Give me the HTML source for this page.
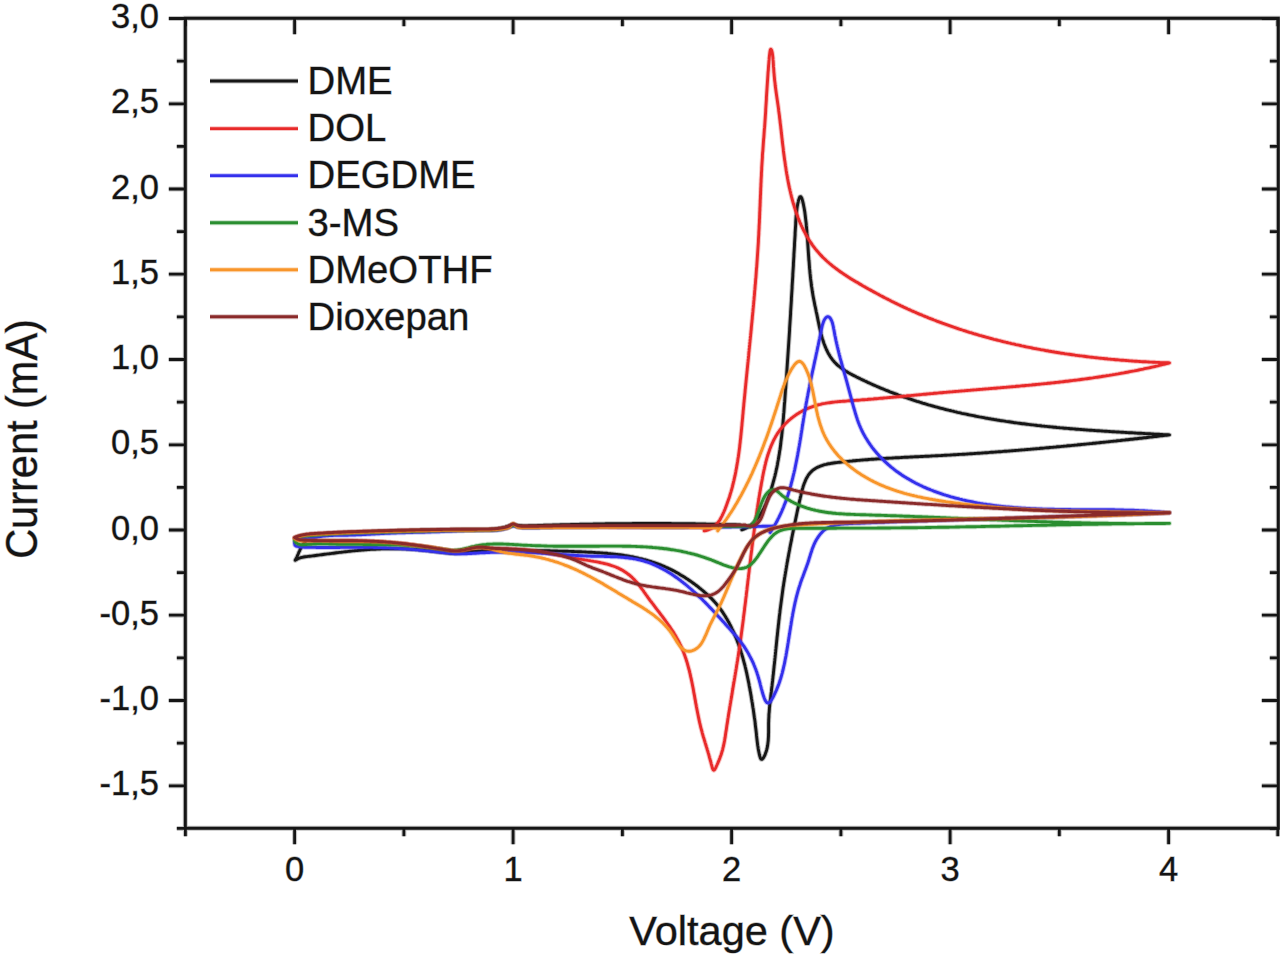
<!DOCTYPE html>
<html><head><meta charset="utf-8"><style>
html,body{margin:0;padding:0;background:#fff;}
body{width:1280px;height:958px;overflow:hidden;}
svg{display:block;}
#wrap{width:1280px;height:958px;}
text{font-family:"Liberation Sans",sans-serif;fill:#141414;stroke:rgba(20,20,20,0.3);stroke-width:1.3px;paint-order:stroke;}
.tl{font-size:34.5px;}
.at{font-size:41.5px;}
.lg{font-size:38.3px;}
</style></head><body>
<div id="wrap"><svg width="1280" height="958" viewBox="0 0 1280 958">
<path d="M741.8 529.8l1.4-.5 1.4-.5 1.4-.7 1.3-.6 1.2-.8 1.2-.8 1.2-.8 1.1-.9 1.1-.9 1-1 1-1 1-1.1 .9-1.1 .9-1.1 .9-1.2 .8-1.2 .8-1.2 .8-1.3 .8-1.2 .7-1.4 .7-1.3 .7-1.3 .6-1.4 .7-1.4 .6-1.4 .6-1.4 .5-1.5 .6-1.4 .5-1.4 .6-1.5 .5-1.4 .5-1.5 .5-1.4 .4-1.5 .5-1.5 .4-1.4 .5-1.5 .4-1.4 .4-1.5 .4-1.5 .4-1.4 .4-1.5 .4-1.5 .4-1.4 .3-1.5 .4-1.5 .3-1.4 .3-1.5 .4-1.5 .3-1.5 .3-1.4 .3-1.5 .2-1.5 .3-1.5 .3-1.5 .2-1.4 .3-1.5 .2-1.5 .3-1.5 .2-1.5 .2-1.5 .3-1.4 .2-1.5 .2-1.5 .2-1.5 .2-1.5 .1-1.5 .2-1.5 .2-1.5 .2-1.5 .2-1.4 .1-1.5 .2-1.5 .1-1.5 .2-1.5 .1-1.5 .2-1.5 .1-1.5 .1-1.5 .2-1.5 .1-1.5 .1-1.5 .2-1.5 .1-1.4 .1-1.5 .1-1.5 .2-1.5 .1-1.5 .1-1.5 .1-1.5 .1-1.5 .1-1.5 .1-1.5 .2-1.5 .1-1.5 .1-1.5 .1-1.5 .1-1.5 .1-1.4 .1-1.5 .1-1.5 .1-1.5 .2-1.5 .1-1.5 .1-1.5 .1-1.5 .1-1.5 .1-1.5 .1-1.5 .1-1.5 .1-1.4 .1-1.5 .1-1.5 .1-1.5 .1-1.5 .1-1.5 .1-1.5 .1-1.5 .1-1.5 .1-1.5 .1-1.5 .1-1.5 .1-1.5 .1-1.4 .1-1.5 .1-1.5 .1-1.5 .1-1.5 .1-1.5 .1-1.5 .1-1.5 .1-1.5 .1-1.5 .1-1.5 .1-1.5 .1-1.5 .1-1.5 .1-1.5 .1-1.5 .1-1.5 .1-1.5 .1-1.4 0-1.5 .1-1.5 .1-1.5 .1-1.5 .1-1.5 .1-1.5 .1-1.5 .1-1.5 .1-1.5 .1-1.5 .1-1.5 0-1.5 .1-1.5 .1-1.5 .1-1.5 .1-1.5 .1-1.5 .1-1.5 .1-1.5 .1-1.6 0-1.5 .1-1.5 .1-1.5 .1-1.5 .1-1.5 .1-1.5 .1-1.5 .1-1.5 0-1.5 .1-1.5 .1-1.5 .1-1.5 .1-1.6 .1-1.5 .1-1.5 .1-1.5 0-1.5 .1-1.5 .1-1.5 .1-1.6 .1-1.5 .1-1.5 .1-1.5 0-1.5 .1-1.5 .1-1.6 .1-1.5 .1-1.5 .1-1.5 0-1.6 .1-1.5 .1-1.5 .1-1.5 .1-1.6 .1-1.5 .1-1.5 0-1.5 .1-1.6 .1-1.5 .1-1.5 .1-1.6 .1-1.5 .1-1.5 0-1.6 .1-1.5 .1-1.5 .1-1.6 .1-1.5 .1-1.5 .1-1.6 0-1.5 .1-1.6 .1-1.5 .1-1.6 .1-1.5 .2-1.6 .1-1.5 .2-1.6 .2-1.6 .2-1.6 .2-1.6 .3-1.6 .3-1.6 .4-1.6 .3-1.6 .5-1.4 .4-1.1 .4-.9 .5-.4 .5 .1 .4 .5 .5 .9 .4 1.1 .4 1.4 .4 1.6 .4 1.6 .3 1.6 .3 1.6 .3 1.6 .3 1.7 .3 1.7 .2 1.7 .2 1.6 .2 1.7 .2 1.7 .2 1.7 .2 1.6 .2 1.7 .1 1.7 .2 1.6 .1 1.6 .2 1.6 .1 1.6 .1 1.6 .2 1.5 .1 1.6 .1 1.5 .1 1.6 .1 1.5 .1 1.5 .1 1.5 .1 1.5 .1 1.5 .1 1.5 .1 1.5 .1 1.4 .1 1.5 .1 1.5 .1 1.4 .1 1.5 .1 1.4 .1 1.5 .2 1.4 .1 1.4 .1 1.5 .1 1.4 .1 1.5 .1 1.4 .2 1.4 .1 1.5 .1 1.4 .2 1.4 .1 1.5 .2 1.4 .1 1.4 .2 1.5 .2 1.4 .2 1.5 .1 1.5 .2 1.4 .3 1.5 .2 1.5 .2 1.4 .2 1.5 .3 1.5 .2 1.5 .3 1.6 .3 1.5 .3 1.5 .3 1.6 .3 1.5 .3 1.6 .3 1.5 .4 1.6 .3 1.5 .3 1.6 .3 1.5 .4 1.5 .3 1.5 .3 1.5 .3 1.5 .3 1.5 .3 1.5 .3 1.4 .3 1.5 .3 1.4 .3 1.5 .3 1.4 .4 1.5 .3 1.4 .4 1.5 .3 1.4 .4 1.4 .4 1.5 .4 1.4 .5 1.5 .5 1.4 .4 1.4 .5 1.4 .6 1.4 .5 1.4 .6 1.4 .6 1.4 .7 1.3 .6 1.4 .7 1.3 .8 1.2 .7 1.3 .8 1.2 .9 1.2 .9 1.2 .9 1.1 .9 1.1 1 1 1.1 1.1 1 1 1.2 .9 1.1 .9 1.2 .9 1.2 .9 1.2 .8 1.3 .9 1.2 .8 1.3 .7 1.3 .8 1.4 .8 1.3 .7 1.3 .7 1.4 .7 1.4 .7 1.3 .7 1.4 .7 1.4 .6 1.3 .7 1.4 .7 1.4 .6 1.4 .7 1.4 .6 1.3 .7 1.4 .6 1.4 .6 1.4 .7 1.4 .6 1.4 .6 1.4 .6 1.3 .6 1.4 .6 1.4 .6 1.4 .6 1.4 .5 1.4 .6 1.4 .6 1.4 .5 1.4 .6 1.4 .6 1.4 .5 1.5 .5 1.4 .6 1.4 .5 1.4 .5 1.4 .6 1.4 .5 1.4 .5 1.4 .5 1.5 .5 1.4 .5 1.4 .5 1.4 .5 1.5 .4 1.4 .5 1.4 .5 1.4 .5 1.5 .4 1.4 .5 1.4 .4 1.5 .5 1.4 .4 1.4 .5 1.5 .4 1.4 .4 1.4 .4 1.5 .5 1.4 .4 1.5 .4 1.4 .4 1.4 .4 1.5 .4 1.4 .4 1.5 .4 1.4 .4 1.5 .3 1.4 .4 1.5 .4 1.4 .4 1.5 .3 1.4 .4 1.5 .3 1.5 .4 1.4 .3 1.5 .4 1.4 .3 1.5 .4 1.4 .3 1.5 .3 1.5 .4 1.4 .3 1.5 .3 1.5 .3 1.4 .3 1.5 .3 1.5 .3 1.4 .3 1.5 .3 1.5 .3 1.5 .3 1.4 .3 1.5 .3 1.5 .2 1.4 .3 1.5 .3 1.5 .3 1.5 .2 1.5 .3 1.4 .2 1.5 .3 1.5 .2 1.5 .3 1.5 .2 1.4 .3 1.5 .2 1.5 .3 1.5 .2 1.5 .2 1.5 .2 1.4 .3 1.5 .2 1.5 .2 1.5 .2 1.5 .2 1.5 .3 1.5 .2 1.5 .2 1.4 .2 1.5 .2 1.5 .2 1.5 .2 1.5 .1 1.5 .2 1.5 .2 1.5 .2 1.5 .2 1.5 .2 1.5 .1 1.5 .2 1.5 .2 1.5 .2 1.5 .1 1.5 .2 1.5 .2 1.5 .1 1.5 .2 1.5 .1 1.5 .2 1.5 .1 1.5 .2 1.5 .1 1.5 .2 1.5 .1 1.5 .2 1.5 .1 1.5 .2 1.5 .1 1.5 .1 1.5 .2 1.5 .1 1.5 .1 1.5 .1 1.5 .2 1.5 .1 1.5 .1 1.5 .1 1.5 .2 1.5 .1 1.5 .1 1.5 .1 1.5 .1 1.5 .1 1.5 .2 1.5 .1 1.5 .1 1.5 .1 1.5 .1 1.5 .1 1.5 .1 1.5 .1 1.6 .1 1.5 .1 1.5 .1 1.5 .1 1.5 .1 1.5 .1 1.5 .1 1.5 .1 1.5 .1 1.5 .1 1.5 .1 1.5 .1 1.5 .1 1.5 .1 1.5 0 1.5 .1 1.5 .1 1.5 .1 1.5 .1 1.5 .1 1.5 .1 1.5 .1 1.5 0 1.5 .1 1.5 .1 1.5 .1 1.5 .1 1.5 .1 1.5 0 1.6 .1 1.5 .1 1.5 .1 1.5 .1 1.5 .1 1.5 0 1.4 .1 1.5 .1 1.5 .1 1.5 .1 1.5 .1 1.5 0 1.5 .1 1.5 .1 1.5 .1 1.5 .1 1.5 .1 1.5 0 1.5 .1 1.5 .1-1.5 .2-1.5 .2-1.5 .1-1.4 .2-1.5 .2-1.5 .1-1.5 .2-1.5 .2-1.5 .2-1.4 .1-1.5 .2-1.5 .2-1.5 .1-1.5 .2-1.5 .2-1.5 .2-1.5 .1-1.5 .2-1.4 .2-1.5 .1-1.5 .2-1.5 .2-1.5 .1-1.5 .2-1.5 .2-1.5 .1-1.5 .2-1.5 .2-1.5 .1-1.5 .2-1.5 .1-1.4 .2-1.5 .2-1.5 .1-1.5 .2-1.5 .2-1.5 .1-1.5 .2-1.5 .1-1.5 .2-1.5 .2-1.5 .1-1.5 .2-1.5 .1-1.5 .2-1.5 .1-1.5 .2-1.5 .2-1.5 .1-1.5 .2-1.5 .1-1.5 .2-1.5 .1-1.5 .2-1.5 .1-1.5 .2-1.5 .1-1.5 .2-1.5 .1-1.5 .2-1.5 .1-1.5 .2-1.5 .1-1.5 .2-1.5 .1-1.5 .2-1.5 .1-1.5 .1-1.5 .2-1.5 .1-1.5 .2-1.5 .1-1.5 .2-1.5 .1-1.5 .1-1.5 .2-1.5 .1-1.5 .2-1.5 .1-1.6 .1-1.5 .2-1.5 .1-1.5 .1-1.5 .2-1.5 .1-1.5 .1-1.5 .2-1.5 .1-1.5 .1-1.5 .2-1.5 .1-1.5 .1-1.5 .2-1.5 .1-1.5 .1-1.5 .1-1.5 .2-1.5 .1-1.5 .1-1.5 .1-1.5 .2-1.5 .1-1.5 .1-1.5 .1-1.5 .1-1.5 .2-1.5 .1-1.5 .1-1.5 .1-1.5 .1-1.5 .1-1.5 .2-1.5 .1-1.5 .1-1.5 .1-1.5 .1-1.5 .1-1.5 .1-1.5 .1-1.5 .1-1.5 .2-1.5 .1-1.5 .1-1.5 .1-1.5 .1-1.5 .1-1.5 .1-1.5 .1-1.5 .1-1.5 .1-1.5 .1-1.5 .1-1.5 .1-1.5 .1-1.5 .1-1.5 .1-1.5 .1-1.5 .1-1.5 .1-1.5 0-1.5 .1-1.5 .1-1.5 .1-1.5 .1-1.5 .1-1.5 .1-1.5 .1-1.5 0-1.4 .1-1.5 .1-1.5 .1-1.5 .1-1.5 .1-1.5 0-1.5 .1-1.5 .1-1.5 .1-1.5 0-1.4 .1-1.5 .1-1.5 .1-1.5 0-1.5 .1-1.5 .1-1.5 .1-1.5 0-1.5 .1-1.4 .1-1.5 0-1.5 .1-1.5 .1-1.5 .1-1.5 0-1.5 .1-1.5 .1-1.5 .1-1.4 0-1.5 .1-1.5 .1-1.5 .1-1.5 .1-1.5 0-1.5 .1-1.5 .1-1.5 .1-1.5 .1-1.5 0-1.5 .1-1.5 .1-1.5 .1-1.5 .1-1.5 .1-1.5 .1-1.5 .1-1.5 .1-1.5 .1-1.5 .1-1.5 .1-1.5 .1-1.5 .1-1.5 .1-1.5 .2-1.6 .1-1.5 .1-1.5 .1-1.5 .1-1.5 .2-1.5 .1-1.6 .1-1.5 .2-1.5 .1-1.5 .2-1.6 .1-1.5 .2-1.5 .1-1.6 .2-1.5 .1-1.5 .2-1.6 .2-1.5 .1-1.6 .2-1.5 .2-1.5 .2-1.6 .2-1.5 .2-1.5 .3-1.5 .2-1.5 .3-1.4 .4-1.5 .3-1.4 .4-1.4 .5-1.3 .4-1.3 .6-1.3 .5-1.3 .7-1.2 .7-1.1 .7-1.2 .8-1 .9-1 .9-1 1.1-.9 1.1-.9 1.1-.7 1.3-.8 1.3-.7 1.3-.6 1.4-.6 1.5-.6 1.4-.6 1.6-.5 1.5-.4 1.5-.5 1.6-.4 1.6-.4 1.6-.4 1.5-.3 1.6-.4 1.5-.3 1.5-.4 1.5-.3 1.4-.3 1.5-.3 1.4-.3 1.5-.3 1.4-.4 1.4-.3 1.5-.3 1.4-.3 1.4-.3 1.5-.3 1.4-.3 1.5-.3 1.4-.3 1.5-.3 1.4-.3 1.4-.3 1.5-.3 1.5-.3 1.4-.3 1.5-.3 1.4-.3 1.5-.3 1.4-.3 1.5-.3 1.5-.3 1.4-.2 1.5-.3 1.5-.3 1.4-.3 1.5-.3 1.5-.3 1.5-.3 1.4-.2 1.5-.3 1.5-.3 1.5-.3 1.4-.2 1.5-.3 1.5-.3 1.5-.2 1.5-.3 1.5-.3 1.4-.2 1.5-.3 1.5-.2 1.5-.3 1.5-.2 1.5-.3 1.5-.2 1.5-.3 1.5-.2 1.5-.3 1.4-.2 1.5-.2 1.5-.3 1.5-.2 1.5-.2 1.5-.3 1.5-.2 1.5-.2 1.5-.2 1.5-.2 1.5-.2 1.5-.2 1.5-.2 1.5-.2 1.5-.2 1.5-.2 1.5-.2 1.5-.2 1.5-.2 1.5-.2 1.5-.2 1.5-.2 1.5-.1 1.5-.2 1.5-.2 1.5-.2 1.4-.1 1.5-.2 1.5-.2 1.5-.1 1.5-.2 1.5-.2 1.5-.1 1.5-.2 1.5-.2 1.5-.1 1.5-.2 1.5-.1 1.5-.2 1.5-.2 1.5-.1 1.5-.2 1.5-.1 1.5-.2 1.5-.1 1.5-.2 1.5-.1 1.4-.2 1.5-.1 1.5-.2 1.5-.1 1.5-.2 1.5-.1 1.5-.2 1.5-.1 1.5-.2 1.4-.1 1.5-.2 1.5-.2 1.5-.1 1.5-.2 1.5-.1 1.5-.2 1.4-.1 1.5-.2 1.5-.2 1.5-.1 1.5-.2 1.4-.1 1.5-.2 1.5-.2 1.5-.1 1.5-.2 1.4-.2 1.5-.2 1.5-.1 1.4-.2 1.5-.2 1.5-.2 1.5-.1 1.4-.2 1.5-.2 1.5-.1 1.5-.2 1.5-.2 1.4-.1 1.5-.2 1.5-.1 1.5-.1 1.6-.1 1.5-.2 1.5-.1 1.6 0 1.5-.1 1.6-.1 1.5 0 1.6-.1 1.6 0 1.6 0 1.6 0 1.6 0 1.7 0 1.6 0 1.6-.1 1.7 0 1.6-.1 1.6-.1 1.6-.1 1.6-.2 1.6-.2 1.6-.2 1.6-.3 1.5-.3 1.6-.4 1.5-.5 1.5-.5 1.4-.5 1.5-.7 1.4-.7 1.3-.7 1-.7 .8-.6 .3-.6-.2-.5-.7-.4-1.1-.4-1.2-.4-1.5-.3-1.4-.3-1.5-.3-1.5-.3-1.6-.2-1.6-.3-1.6-.2-1.7-.2-1.6-.2-1.7-.2-1.7-.2-1.7-.2-1.7-.1-1.6-.2-1.7-.2-1.7-.2-1.6-.2-1.6-.2-1.6-.2-1.6-.1-1.6-.2-1.5-.2-1.5-.3-1.6-.2-1.5-.2-1.5-.2-1.5-.2-1.4-.2-1.5-.2-1.5-.3-1.4-.2-1.5-.2-1.5-.2-1.4-.3-1.4-.2-1.5-.3-1.4-.2-1.5-.2-1.4-.3-1.5-.2-1.4-.3-1.5-.3-1.4-.2-1.5-.3-1.4-.3-1.5-.2-1.4-.3-1.5-.3-1.4-.3-1.5-.3-1.4-.3-1.5-.3-1.4-.3-1.5-.3-1.5-.4-1.4-.3-1.5-.3-1.4-.4-1.5-.3-1.4-.4-1.4-.4-1.5-.4-1.4-.4-1.5-.4-1.4-.4-1.5-.4-1.4-.4-1.4-.5-1.5-.4-1.4-.5-1.4-.5-1.4-.4-1.5-.5-1.4-.5-1.4-.6-1.4-.5-1.4-.5-1.4-.6-1.4-.6-1.4-.6-1.4-.5-1.4-.7-1.4-.6-1.4-.6-1.4-.7-1.3-.6-1.4-.7-1.4-.7-1.3-.7-1.4-.8-1.3-.7-1.4-.8-1.3-.8-1.3-.7-1.3-.8-1.3-.9-1.3-.8-1.3-.8-1.2-.9-1.3-.9-1.2-.9-1.2-.9-1.2-.9-1.1-.9-1.1-.9-1.1-1-1.1-1-1.1-.9-1-1-1.1-1.1-1-1-1-1-.9-1.1-1-1-1-1.1-1-1.1-.9-1.1-1-1.2-.9-1.1-1-1.2-.9-1.1-.9-1.2-1-1.2-.9-1.2-.9-1.2-.9-1.3-.9-1.2-.9-1.3-.9-1.2-.8-1.3-.9-1.3-.8-1.3-.9-1.3-.8-1.3-.8-1.4-.8-1.3-.8-1.3-.8-1.4-.8-1.3-.7-1.4-.8-1.3-.7-1.4-.7-1.4-.7-1.4-.6-1.4-.7-1.4-.6-1.3-.6-1.4-.6-1.4-.6-1.4-.6-1.5-.5-1.4-.6-1.4-.5-1.4-.5-1.4-.5-1.5-.4-1.4-.5-1.4-.4-1.5-.5-1.4-.4-1.4-.4-1.5-.3-1.4-.4-1.5-.4-1.4-.3-1.5-.4-1.4-.3-1.5-.3-1.5-.3-1.4-.3-1.5-.2-1.5-.3-1.4-.3-1.5-.2-1.5-.2-1.5-.3-1.5-.2-1.4-.2-1.5-.2-1.5-.2-1.5-.1-1.5-.2-1.5-.2-1.5-.1-1.5-.2-1.5-.1-1.5-.2-1.4-.1-1.5-.1-1.5-.1-1.5-.1-1.5-.1-1.5-.1-1.5-.1-1.5-.1-1.6-.1-1.5-.1-1.5-.1-1.5 0-1.5-.1-1.5-.1-1.5-.1-1.5 0-1.5-.1-1.5 0-1.5-.1-1.5-.1-1.5 0-1.5-.1-1.5 0-1.5-.1-1.5 0-1.5-.1-1.5 0-1.5-.1-1.5 0-1.5-.1-1.5 0-1.5 0-1.5-.1-1.5 0-1.5-.1-1.6 0-1.5 0-1.5-.1-1.5 0-1.5 0-1.5 0-1.5-.1-1.5 0-1.5 0-1.5 0-1.5-.1-1.5 0-1.5 0-1.5 0-1.5 0-1.5-.1-1.5 0-1.5 0-1.5 0-1.5 0-1.5 0-1.5 0-1.5 0-1.5 0-1.5 0-1.5 0-1.5 0-1.5 0-1.5 0-1.5 0-1.5 0-1.5 0-1.5 0-1.6 0-1.5 0-1.5 0-1.5 0-1.5 0-1.5 0-1.5 0-1.5 0-1.5 .1-1.5 0-1.5 0-1.5 .1-1.5 0-1.5 .1-1.5 0-1.5 .1-1.5 .1-1.5 0-1.5 .1-1.5 .1-1.5 .2-1.5 .1-1.5 .1-1.5 .2-1.5 .2-1.5 .2-1.5 .2-1.5 .2-1.5 .2-1.5 .2-1.4 .1-1.5 .1-1.5 .1-1.5 0-1.5 0-1.5-.1-1.5-.1-1.5-.2-1.5-.1-1.5-.2-1.5-.2-1.5-.2-1.5-.1-1.5-.2-1.5-.2-1.5-.2-1.4-.2-1.5-.1-1.5-.2-1.5-.2-1.5-.2-1.5-.1-1.5-.2-1.5-.1-1.5-.2-1.5-.1-1.5-.2-1.5-.1-1.5-.1-1.5-.1-1.5-.1-1.5-.1-1.5-.1-1.5-.1-1.5 0-1.5-.1-1.5 0-1.5-.1-1.5 0-1.5-.1-1.5 0-1.6 0-1.5 0-1.5 0-1.5 0-1.5 0-1.5 0-1.5 .1-1.5 0-1.5 0-1.5 .1-1.5 0-1.5 .1-1.5 0-1.5 .1-1.5 .1-1.5 .1-1.5 0-1.5 .1-1.5 .1-1.5 .1-1.5 .1-1.5 .1-1.5 .2-1.5 .1-1.5 .1-1.5 .1-1.5 .2-1.5 .1-1.5 .2-1.5 .1-1.5 .2-1.5 .1-1.4 .2-1.5 .2-1.5 .1-1.5 .2-1.5 .2-1.5 .2-1.5 .1-1.5 .2-1.5 .2-1.5 .2-1.5 .2-1.5 .2-1.5 .2-1.5 .2-1.5 .1-1.4 .2-1.5 .2-1.5 .2-1.5 .2-1.5 .2-1.5 .2-1.5 .2-1.5 .2-1.5 .2-1.5 .2-1.5 .2-1.4 .1-1.5 .2-1.5 .2-1.5 .2-1.5 .2-1.5 .3-1.4 .4-1.4 .5-1.5 .5-1.3 .8-1.4 .8 .7-1.2 .6-1.3 .6-1.3 .6-1.4 .6-1.4 .6-1.5 .7-1.4 .6-1.4 .7-1.4 .8-1.4 .7-1.3 .9-1.3 .9-1.2 1-1.1 1.1-1 1.2-.9 1.2-.8 1.4-.7 1.3-.7 1.5-.5 1.4-.5 1.5-.5 1.5-.4 1.5-.4 1.4-.3 1.5-.3 1.5-.3 1.5-.2 1.5-.3 1.5-.1 1.5-.2 1.5-.1 1.5-.1 1.5-.1 1.5-.1 1.5 0 1.5-.1 1.5 0 1.6-.1 1.5 0 1.5 0 1.5 0 1.5 0 1.5 0 1.5-.1 1.5 0 1.5 0 1.6-.1 1.5 0 1.5-.1 1.5 0 1.5-.1 1.5 0 1.5-.1 1.5-.1 1.5 0 1.5-.1 1.5-.1 1.5-.1 1.6 0 1.5-.1 1.5-.1 1.5-.1 1.5 0 1.5-.1 1.5-.1 1.5-.1 1.5 0 1.5-.1 1.5-.1 1.5 0 1.5-.1 1.5 0 1.5-.1 1.5-.1 1.5 0 1.6-.1 1.5 0 1.5-.1 1.5 0 1.5-.1 1.5 0 1.5-.1 1.5 0 1.5 0 1.5-.1 1.5 0 1.5 0 1.5-.1 1.5 0 1.5 0 1.5-.1 1.5 0 1.5 0 1.6 0 1.5-.1 1.5 0 1.5 0 1.5 0 1.5-.1 1.5 0 1.5 0 1.5 0 1.5 0 1.5-.1 1.5 0 1.5 0 1.5 0 1.6 0 1.5 0 1.5-.1 1.5 0 1.5 0 1.5 0 1.5 0 1.5 0 1.5 0 1.5 0 1.6-.1 1.5 0 1.5 0 1.5 0 1.5 0 1.5 0 1.5 0 1.5 0 1.5 0 1.6-.1 1.5 0 1.5 0 1.5 0 1.5 0 1.5 0 1.6-.1 1.5 0 1.5 0 1.5-.1 1.5-.1 1.5-.1 1.5-.1 1.5-.1 1.5-.2 1.5-.2 1.4-.3 1.5-.2 1.5-.4 1.4-.3 1.5-.4 1.4-.5 1.5-.5 1.4-.5 1.4-.5 1.4-.3 1.5 0 1.4 .2 1.5 .3 1.5 .2 1.5 .2 1.5 .1 1.5 .1 1.5 0 1.5 0 1.5 0 1.5-.1 1.5 0 1.5-.1 1.5 0 1.6-.1 1.5 0 1.5-.1 1.5 0 1.5-.1 1.5 0 1.5-.1 1.5 0 1.5-.1 1.5 0 1.5-.1 1.5 0 1.6-.1 1.5 0 1.5-.1 1.5 0 1.5 0 1.5-.1 1.5 0 1.5-.1 1.5 0 1.5 0 1.5-.1 1.5 0 1.5-.1 1.6 0 1.5 0 1.5-.1 1.5 0 1.5 0 1.5-.1 1.5 0 1.5 0 1.5-.1 1.5 0 1.5 0 1.5-.1 1.5 0 1.5 0 1.6-.1 1.5 0 1.5 0 1.5 0 1.5-.1 1.5 0 1.5 0 1.5 0 1.5-.1 1.5 0 1.5 0 1.5 0 1.5-.1 1.5 0 1.6 0 1.5 0 1.5 0 1.5 0 1.5-.1 1.5 0 1.5 0 1.5 0 1.5 0 1.5 0 1.5 0 1.5 0 1.5-.1 1.5 0 1.5 0 1.6 0 1.5 0 1.5 0 1.5 0 1.5 0 1.5 0 1.5 0 1.5 0 1.5 0 1.5 0 1.5 0 1.5 0 1.5 0 1.5 0 1.5 0 1.6 0 1.5 0 1.5 0 1.5 0 1.5 0 1.5 0 1.5 0 1.5 0 1.5 .1 1.5 0 1.5 0 1.5 0 1.5 0 1.6 0 1.5 0 1.5 .1 1.5 0 1.5 0 1.5 0 1.5 0 1.5 .1 1.5 0 1.5 0 1.5 0 1.5 .1 1.5 0 1.6 0 1.5 0 1.5 .1 1.5 0 1.5 0 1.5 .1 1.5 0 1.5 0 1.5 .1 1.5 0 1.5 0 1.5 .1 1.6 0 1.5 0 1.5 .1 1.5 0 1.5 .1 1.5 0 1.5 .1 1.5 0 1.5 0 1.5 .1 1.6 0 1.5 .1 1.5 0 1.5 .1 1.5 0 1.5 .1" fill="none" stroke="#161616" stroke-width="4.9" stroke-opacity="0.28" stroke-linejoin="round" stroke-linecap="round"/>
<path d="M741.8 529.8l1.4-.5 1.4-.5 1.4-.7 1.3-.6 1.2-.8 1.2-.8 1.2-.8 1.1-.9 1.1-.9 1-1 1-1 1-1.1 .9-1.1 .9-1.1 .9-1.2 .8-1.2 .8-1.2 .8-1.3 .8-1.2 .7-1.4 .7-1.3 .7-1.3 .6-1.4 .7-1.4 .6-1.4 .6-1.4 .5-1.5 .6-1.4 .5-1.4 .6-1.5 .5-1.4 .5-1.5 .5-1.4 .4-1.5 .5-1.5 .4-1.4 .5-1.5 .4-1.4 .4-1.5 .4-1.5 .4-1.4 .4-1.5 .4-1.5 .4-1.4 .3-1.5 .4-1.5 .3-1.4 .3-1.5 .4-1.5 .3-1.5 .3-1.4 .3-1.5 .2-1.5 .3-1.5 .3-1.5 .2-1.4 .3-1.5 .2-1.5 .3-1.5 .2-1.5 .2-1.5 .3-1.4 .2-1.5 .2-1.5 .2-1.5 .2-1.5 .1-1.5 .2-1.5 .2-1.5 .2-1.5 .2-1.4 .1-1.5 .2-1.5 .1-1.5 .2-1.5 .1-1.5 .2-1.5 .1-1.5 .1-1.5 .2-1.5 .1-1.5 .1-1.5 .2-1.5 .1-1.4 .1-1.5 .1-1.5 .2-1.5 .1-1.5 .1-1.5 .1-1.5 .1-1.5 .1-1.5 .1-1.5 .2-1.5 .1-1.5 .1-1.5 .1-1.5 .1-1.5 .1-1.4 .1-1.5 .1-1.5 .1-1.5 .2-1.5 .1-1.5 .1-1.5 .1-1.5 .1-1.5 .1-1.5 .1-1.5 .1-1.5 .1-1.4 .1-1.5 .1-1.5 .1-1.5 .1-1.5 .1-1.5 .1-1.5 .1-1.5 .1-1.5 .1-1.5 .1-1.5 .1-1.5 .1-1.5 .1-1.4 .1-1.5 .1-1.5 .1-1.5 .1-1.5 .1-1.5 .1-1.5 .1-1.5 .1-1.5 .1-1.5 .1-1.5 .1-1.5 .1-1.5 .1-1.5 .1-1.5 .1-1.5 .1-1.5 .1-1.5 .1-1.4 0-1.5 .1-1.5 .1-1.5 .1-1.5 .1-1.5 .1-1.5 .1-1.5 .1-1.5 .1-1.5 .1-1.5 .1-1.5 0-1.5 .1-1.5 .1-1.5 .1-1.5 .1-1.5 .1-1.5 .1-1.5 .1-1.5 .1-1.6 0-1.5 .1-1.5 .1-1.5 .1-1.5 .1-1.5 .1-1.5 .1-1.5 .1-1.5 0-1.5 .1-1.5 .1-1.5 .1-1.5 .1-1.6 .1-1.5 .1-1.5 .1-1.5 0-1.5 .1-1.5 .1-1.5 .1-1.6 .1-1.5 .1-1.5 .1-1.5 0-1.5 .1-1.5 .1-1.6 .1-1.5 .1-1.5 .1-1.5 0-1.6 .1-1.5 .1-1.5 .1-1.5 .1-1.6 .1-1.5 .1-1.5 0-1.5 .1-1.6 .1-1.5 .1-1.5 .1-1.6 .1-1.5 .1-1.5 0-1.6 .1-1.5 .1-1.5 .1-1.6 .1-1.5 .1-1.5 .1-1.6 0-1.5 .1-1.6 .1-1.5 .1-1.6 .1-1.5 .2-1.6 .1-1.5 .2-1.6 .2-1.6 .2-1.6 .2-1.6 .3-1.6 .3-1.6 .4-1.6 .3-1.6 .5-1.4 .4-1.1 .4-.9 .5-.4 .5 .1 .4 .5 .5 .9 .4 1.1 .4 1.4 .4 1.6 .4 1.6 .3 1.6 .3 1.6 .3 1.6 .3 1.7 .3 1.7 .2 1.7 .2 1.6 .2 1.7 .2 1.7 .2 1.7 .2 1.6 .2 1.7 .1 1.7 .2 1.6 .1 1.6 .2 1.6 .1 1.6 .1 1.6 .2 1.5 .1 1.6 .1 1.5 .1 1.6 .1 1.5 .1 1.5 .1 1.5 .1 1.5 .1 1.5 .1 1.5 .1 1.5 .1 1.4 .1 1.5 .1 1.5 .1 1.4 .1 1.5 .1 1.4 .1 1.5 .2 1.4 .1 1.4 .1 1.5 .1 1.4 .1 1.5 .1 1.4 .2 1.4 .1 1.5 .1 1.4 .2 1.4 .1 1.5 .2 1.4 .1 1.4 .2 1.5 .2 1.4 .2 1.5 .1 1.5 .2 1.4 .3 1.5 .2 1.5 .2 1.4 .2 1.5 .3 1.5 .2 1.5 .3 1.6 .3 1.5 .3 1.5 .3 1.6 .3 1.5 .3 1.6 .3 1.5 .4 1.6 .3 1.5 .3 1.6 .3 1.5 .4 1.5 .3 1.5 .3 1.5 .3 1.5 .3 1.5 .3 1.5 .3 1.4 .3 1.5 .3 1.4 .3 1.5 .3 1.4 .4 1.5 .3 1.4 .4 1.5 .3 1.4 .4 1.4 .4 1.5 .4 1.4 .5 1.5 .5 1.4 .4 1.4 .5 1.4 .6 1.4 .5 1.4 .6 1.4 .6 1.4 .7 1.3 .6 1.4 .7 1.3 .8 1.2 .7 1.3 .8 1.2 .9 1.2 .9 1.2 .9 1.1 .9 1.1 1 1 1.1 1.1 1 1 1.2 .9 1.1 .9 1.2 .9 1.2 .9 1.2 .8 1.3 .9 1.2 .8 1.3 .7 1.3 .8 1.4 .8 1.3 .7 1.3 .7 1.4 .7 1.4 .7 1.3 .7 1.4 .7 1.4 .6 1.3 .7 1.4 .7 1.4 .6 1.4 .7 1.4 .6 1.3 .7 1.4 .6 1.4 .6 1.4 .7 1.4 .6 1.4 .6 1.4 .6 1.3 .6 1.4 .6 1.4 .6 1.4 .6 1.4 .5 1.4 .6 1.4 .6 1.4 .5 1.4 .6 1.4 .6 1.4 .5 1.5 .5 1.4 .6 1.4 .5 1.4 .5 1.4 .6 1.4 .5 1.4 .5 1.4 .5 1.5 .5 1.4 .5 1.4 .5 1.4 .5 1.5 .4 1.4 .5 1.4 .5 1.4 .5 1.5 .4 1.4 .5 1.4 .4 1.5 .5 1.4 .4 1.4 .5 1.5 .4 1.4 .4 1.4 .4 1.5 .5 1.4 .4 1.5 .4 1.4 .4 1.4 .4 1.5 .4 1.4 .4 1.5 .4 1.4 .4 1.5 .3 1.4 .4 1.5 .4 1.4 .4 1.5 .3 1.4 .4 1.5 .3 1.5 .4 1.4 .3 1.5 .4 1.4 .3 1.5 .4 1.4 .3 1.5 .3 1.5 .4 1.4 .3 1.5 .3 1.5 .3 1.4 .3 1.5 .3 1.5 .3 1.4 .3 1.5 .3 1.5 .3 1.5 .3 1.4 .3 1.5 .3 1.5 .2 1.4 .3 1.5 .3 1.5 .3 1.5 .2 1.5 .3 1.4 .2 1.5 .3 1.5 .2 1.5 .3 1.5 .2 1.4 .3 1.5 .2 1.5 .3 1.5 .2 1.5 .2 1.5 .2 1.4 .3 1.5 .2 1.5 .2 1.5 .2 1.5 .2 1.5 .3 1.5 .2 1.5 .2 1.4 .2 1.5 .2 1.5 .2 1.5 .2 1.5 .1 1.5 .2 1.5 .2 1.5 .2 1.5 .2 1.5 .2 1.5 .1 1.5 .2 1.5 .2 1.5 .2 1.5 .1 1.5 .2 1.5 .2 1.5 .1 1.5 .2 1.5 .1 1.5 .2 1.5 .1 1.5 .2 1.5 .1 1.5 .2 1.5 .1 1.5 .2 1.5 .1 1.5 .2 1.5 .1 1.5 .1 1.5 .2 1.5 .1 1.5 .1 1.5 .1 1.5 .2 1.5 .1 1.5 .1 1.5 .1 1.5 .2 1.5 .1 1.5 .1 1.5 .1 1.5 .1 1.5 .1 1.5 .2 1.5 .1 1.5 .1 1.5 .1 1.5 .1 1.5 .1 1.5 .1 1.5 .1 1.6 .1 1.5 .1 1.5 .1 1.5 .1 1.5 .1 1.5 .1 1.5 .1 1.5 .1 1.5 .1 1.5 .1 1.5 .1 1.5 .1 1.5 .1 1.5 .1 1.5 0 1.5 .1 1.5 .1 1.5 .1 1.5 .1 1.5 .1 1.5 .1 1.5 .1 1.5 0 1.5 .1 1.5 .1 1.5 .1 1.5 .1 1.5 .1 1.5 0 1.6 .1 1.5 .1 1.5 .1 1.5 .1 1.5 .1 1.5 0 1.4 .1 1.5 .1 1.5 .1 1.5 .1 1.5 .1 1.5 0 1.5 .1 1.5 .1 1.5 .1 1.5 .1 1.5 .1 1.5 0 1.5 .1 1.5 .1-1.5 .2-1.5 .2-1.5 .1-1.4 .2-1.5 .2-1.5 .1-1.5 .2-1.5 .2-1.5 .2-1.4 .1-1.5 .2-1.5 .2-1.5 .1-1.5 .2-1.5 .2-1.5 .2-1.5 .1-1.5 .2-1.4 .2-1.5 .1-1.5 .2-1.5 .2-1.5 .1-1.5 .2-1.5 .2-1.5 .1-1.5 .2-1.5 .2-1.5 .1-1.5 .2-1.5 .1-1.4 .2-1.5 .2-1.5 .1-1.5 .2-1.5 .2-1.5 .1-1.5 .2-1.5 .1-1.5 .2-1.5 .2-1.5 .1-1.5 .2-1.5 .1-1.5 .2-1.5 .1-1.5 .2-1.5 .2-1.5 .1-1.5 .2-1.5 .1-1.5 .2-1.5 .1-1.5 .2-1.5 .1-1.5 .2-1.5 .1-1.5 .2-1.5 .1-1.5 .2-1.5 .1-1.5 .2-1.5 .1-1.5 .2-1.5 .1-1.5 .2-1.5 .1-1.5 .1-1.5 .2-1.5 .1-1.5 .2-1.5 .1-1.5 .2-1.5 .1-1.5 .1-1.5 .2-1.5 .1-1.5 .2-1.5 .1-1.6 .1-1.5 .2-1.5 .1-1.5 .1-1.5 .2-1.5 .1-1.5 .1-1.5 .2-1.5 .1-1.5 .1-1.5 .2-1.5 .1-1.5 .1-1.5 .2-1.5 .1-1.5 .1-1.5 .1-1.5 .2-1.5 .1-1.5 .1-1.5 .1-1.5 .2-1.5 .1-1.5 .1-1.5 .1-1.5 .1-1.5 .2-1.5 .1-1.5 .1-1.5 .1-1.5 .1-1.5 .1-1.5 .2-1.5 .1-1.5 .1-1.5 .1-1.5 .1-1.5 .1-1.5 .1-1.5 .1-1.5 .1-1.5 .2-1.5 .1-1.5 .1-1.5 .1-1.5 .1-1.5 .1-1.5 .1-1.5 .1-1.5 .1-1.5 .1-1.5 .1-1.5 .1-1.5 .1-1.5 .1-1.5 .1-1.5 .1-1.5 .1-1.5 .1-1.5 .1-1.5 0-1.5 .1-1.5 .1-1.5 .1-1.5 .1-1.5 .1-1.5 .1-1.5 .1-1.5 0-1.4 .1-1.5 .1-1.5 .1-1.5 .1-1.5 .1-1.5 0-1.5 .1-1.5 .1-1.5 .1-1.5 0-1.4 .1-1.5 .1-1.5 .1-1.5 0-1.5 .1-1.5 .1-1.5 .1-1.5 0-1.5 .1-1.4 .1-1.5 0-1.5 .1-1.5 .1-1.5 .1-1.5 0-1.5 .1-1.5 .1-1.5 .1-1.4 0-1.5 .1-1.5 .1-1.5 .1-1.5 .1-1.5 0-1.5 .1-1.5 .1-1.5 .1-1.5 .1-1.5 0-1.5 .1-1.5 .1-1.5 .1-1.5 .1-1.5 .1-1.5 .1-1.5 .1-1.5 .1-1.5 .1-1.5 .1-1.5 .1-1.5 .1-1.5 .1-1.5 .1-1.5 .2-1.6 .1-1.5 .1-1.5 .1-1.5 .1-1.5 .2-1.5 .1-1.6 .1-1.5 .2-1.5 .1-1.5 .2-1.6 .1-1.5 .2-1.5 .1-1.6 .2-1.5 .1-1.5 .2-1.6 .2-1.5 .1-1.6 .2-1.5 .2-1.5 .2-1.6 .2-1.5 .2-1.5 .3-1.5 .2-1.5 .3-1.4 .4-1.5 .3-1.4 .4-1.4 .5-1.3 .4-1.3 .6-1.3 .5-1.3 .7-1.2 .7-1.1 .7-1.2 .8-1 .9-1 .9-1 1.1-.9 1.1-.9 1.1-.7 1.3-.8 1.3-.7 1.3-.6 1.4-.6 1.5-.6 1.4-.6 1.6-.5 1.5-.4 1.5-.5 1.6-.4 1.6-.4 1.6-.4 1.5-.3 1.6-.4 1.5-.3 1.5-.4 1.5-.3 1.4-.3 1.5-.3 1.4-.3 1.5-.3 1.4-.4 1.4-.3 1.5-.3 1.4-.3 1.4-.3 1.5-.3 1.4-.3 1.5-.3 1.4-.3 1.5-.3 1.4-.3 1.4-.3 1.5-.3 1.5-.3 1.4-.3 1.5-.3 1.4-.3 1.5-.3 1.4-.3 1.5-.3 1.5-.3 1.4-.2 1.5-.3 1.5-.3 1.4-.3 1.5-.3 1.5-.3 1.5-.3 1.4-.2 1.5-.3 1.5-.3 1.5-.3 1.4-.2 1.5-.3 1.5-.3 1.5-.2 1.5-.3 1.5-.3 1.4-.2 1.5-.3 1.5-.2 1.5-.3 1.5-.2 1.5-.3 1.5-.2 1.5-.3 1.5-.2 1.5-.3 1.4-.2 1.5-.2 1.5-.3 1.5-.2 1.5-.2 1.5-.3 1.5-.2 1.5-.2 1.5-.2 1.5-.2 1.5-.2 1.5-.2 1.5-.2 1.5-.2 1.5-.2 1.5-.2 1.5-.2 1.5-.2 1.5-.2 1.5-.2 1.5-.2 1.5-.2 1.5-.1 1.5-.2 1.5-.2 1.5-.2 1.4-.1 1.5-.2 1.5-.2 1.5-.1 1.5-.2 1.5-.2 1.5-.1 1.5-.2 1.5-.2 1.5-.1 1.5-.2 1.5-.1 1.5-.2 1.5-.2 1.5-.1 1.5-.2 1.5-.1 1.5-.2 1.5-.1 1.5-.2 1.5-.1 1.4-.2 1.5-.1 1.5-.2 1.5-.1 1.5-.2 1.5-.1 1.5-.2 1.5-.1 1.5-.2 1.4-.1 1.5-.2 1.5-.2 1.5-.1 1.5-.2 1.5-.1 1.5-.2 1.4-.1 1.5-.2 1.5-.2 1.5-.1 1.5-.2 1.4-.1 1.5-.2 1.5-.2 1.5-.1 1.5-.2 1.4-.2 1.5-.2 1.5-.1 1.4-.2 1.5-.2 1.5-.2 1.5-.1 1.4-.2 1.5-.2 1.5-.1 1.5-.2 1.5-.2 1.4-.1 1.5-.2 1.5-.1 1.5-.1 1.6-.1 1.5-.2 1.5-.1 1.6 0 1.5-.1 1.6-.1 1.5 0 1.6-.1 1.6 0 1.6 0 1.6 0 1.6 0 1.7 0 1.6 0 1.6-.1 1.7 0 1.6-.1 1.6-.1 1.6-.1 1.6-.2 1.6-.2 1.6-.2 1.6-.3 1.5-.3 1.6-.4 1.5-.5 1.5-.5 1.4-.5 1.5-.7 1.4-.7 1.3-.7 1-.7 .8-.6 .3-.6-.2-.5-.7-.4-1.1-.4-1.2-.4-1.5-.3-1.4-.3-1.5-.3-1.5-.3-1.6-.2-1.6-.3-1.6-.2-1.7-.2-1.6-.2-1.7-.2-1.7-.2-1.7-.2-1.7-.1-1.6-.2-1.7-.2-1.7-.2-1.6-.2-1.6-.2-1.6-.2-1.6-.1-1.6-.2-1.5-.2-1.5-.3-1.6-.2-1.5-.2-1.5-.2-1.5-.2-1.4-.2-1.5-.2-1.5-.3-1.4-.2-1.5-.2-1.5-.2-1.4-.3-1.4-.2-1.5-.3-1.4-.2-1.5-.2-1.4-.3-1.5-.2-1.4-.3-1.5-.3-1.4-.2-1.5-.3-1.4-.3-1.5-.2-1.4-.3-1.5-.3-1.4-.3-1.5-.3-1.4-.3-1.5-.3-1.4-.3-1.5-.3-1.5-.4-1.4-.3-1.5-.3-1.4-.4-1.5-.3-1.4-.4-1.4-.4-1.5-.4-1.4-.4-1.5-.4-1.4-.4-1.5-.4-1.4-.4-1.4-.5-1.5-.4-1.4-.5-1.4-.5-1.4-.4-1.5-.5-1.4-.5-1.4-.6-1.4-.5-1.4-.5-1.4-.6-1.4-.6-1.4-.6-1.4-.5-1.4-.7-1.4-.6-1.4-.6-1.4-.7-1.3-.6-1.4-.7-1.4-.7-1.3-.7-1.4-.8-1.3-.7-1.4-.8-1.3-.8-1.3-.7-1.3-.8-1.3-.9-1.3-.8-1.3-.8-1.2-.9-1.3-.9-1.2-.9-1.2-.9-1.2-.9-1.1-.9-1.1-.9-1.1-1-1.1-1-1.1-.9-1-1-1.1-1.1-1-1-1-1-.9-1.1-1-1-1-1.1-1-1.1-.9-1.1-1-1.2-.9-1.1-1-1.2-.9-1.1-.9-1.2-1-1.2-.9-1.2-.9-1.2-.9-1.3-.9-1.2-.9-1.3-.9-1.2-.8-1.3-.9-1.3-.8-1.3-.9-1.3-.8-1.3-.8-1.4-.8-1.3-.8-1.3-.8-1.4-.8-1.3-.7-1.4-.8-1.3-.7-1.4-.7-1.4-.7-1.4-.6-1.4-.7-1.4-.6-1.3-.6-1.4-.6-1.4-.6-1.4-.6-1.5-.5-1.4-.6-1.4-.5-1.4-.5-1.4-.5-1.5-.4-1.4-.5-1.4-.4-1.5-.5-1.4-.4-1.4-.4-1.5-.3-1.4-.4-1.5-.4-1.4-.3-1.5-.4-1.4-.3-1.5-.3-1.5-.3-1.4-.3-1.5-.2-1.5-.3-1.4-.3-1.5-.2-1.5-.2-1.5-.3-1.5-.2-1.4-.2-1.5-.2-1.5-.2-1.5-.1-1.5-.2-1.5-.2-1.5-.1-1.5-.2-1.5-.1-1.5-.2-1.4-.1-1.5-.1-1.5-.1-1.5-.1-1.5-.1-1.5-.1-1.5-.1-1.5-.1-1.6-.1-1.5-.1-1.5-.1-1.5 0-1.5-.1-1.5-.1-1.5-.1-1.5 0-1.5-.1-1.5 0-1.5-.1-1.5-.1-1.5 0-1.5-.1-1.5 0-1.5-.1-1.5 0-1.5-.1-1.5 0-1.5-.1-1.5 0-1.5-.1-1.5 0-1.5 0-1.5-.1-1.5 0-1.5-.1-1.6 0-1.5 0-1.5-.1-1.5 0-1.5 0-1.5 0-1.5-.1-1.5 0-1.5 0-1.5 0-1.5-.1-1.5 0-1.5 0-1.5 0-1.5 0-1.5-.1-1.5 0-1.5 0-1.5 0-1.5 0-1.5 0-1.5 0-1.5 0-1.5 0-1.5 0-1.5 0-1.5 0-1.5 0-1.5 0-1.5 0-1.5 0-1.5 0-1.5 0-1.6 0-1.5 0-1.5 0-1.5 0-1.5 0-1.5 0-1.5 0-1.5 0-1.5 .1-1.5 0-1.5 0-1.5 .1-1.5 0-1.5 .1-1.5 0-1.5 .1-1.5 .1-1.5 0-1.5 .1-1.5 .1-1.5 .2-1.5 .1-1.5 .1-1.5 .2-1.5 .2-1.5 .2-1.5 .2-1.5 .2-1.5 .2-1.5 .2-1.4 .1-1.5 .1-1.5 .1-1.5 0-1.5 0-1.5-.1-1.5-.1-1.5-.2-1.5-.1-1.5-.2-1.5-.2-1.5-.2-1.5-.1-1.5-.2-1.5-.2-1.5-.2-1.4-.2-1.5-.1-1.5-.2-1.5-.2-1.5-.2-1.5-.1-1.5-.2-1.5-.1-1.5-.2-1.5-.1-1.5-.2-1.5-.1-1.5-.1-1.5-.1-1.5-.1-1.5-.1-1.5-.1-1.5-.1-1.5 0-1.5-.1-1.5 0-1.5-.1-1.5 0-1.5-.1-1.5 0-1.6 0-1.5 0-1.5 0-1.5 0-1.5 0-1.5 0-1.5 .1-1.5 0-1.5 0-1.5 .1-1.5 0-1.5 .1-1.5 0-1.5 .1-1.5 .1-1.5 .1-1.5 0-1.5 .1-1.5 .1-1.5 .1-1.5 .1-1.5 .1-1.5 .2-1.5 .1-1.5 .1-1.5 .1-1.5 .2-1.5 .1-1.5 .2-1.5 .1-1.5 .2-1.5 .1-1.4 .2-1.5 .2-1.5 .1-1.5 .2-1.5 .2-1.5 .2-1.5 .1-1.5 .2-1.5 .2-1.5 .2-1.5 .2-1.5 .2-1.5 .2-1.5 .2-1.5 .1-1.4 .2-1.5 .2-1.5 .2-1.5 .2-1.5 .2-1.5 .2-1.5 .2-1.5 .2-1.5 .2-1.5 .2-1.5 .2-1.4 .1-1.5 .2-1.5 .2-1.5 .2-1.5 .2-1.5 .3-1.4 .4-1.4 .5-1.5 .5-1.3 .8-1.4 .8 .7-1.2 .6-1.3 .6-1.3 .6-1.4 .6-1.4 .6-1.5 .7-1.4 .6-1.4 .7-1.4 .8-1.4 .7-1.3 .9-1.3 .9-1.2 1-1.1 1.1-1 1.2-.9 1.2-.8 1.4-.7 1.3-.7 1.5-.5 1.4-.5 1.5-.5 1.5-.4 1.5-.4 1.4-.3 1.5-.3 1.5-.3 1.5-.2 1.5-.3 1.5-.1 1.5-.2 1.5-.1 1.5-.1 1.5-.1 1.5-.1 1.5 0 1.5-.1 1.5 0 1.6-.1 1.5 0 1.5 0 1.5 0 1.5 0 1.5 0 1.5-.1 1.5 0 1.5 0 1.6-.1 1.5 0 1.5-.1 1.5 0 1.5-.1 1.5 0 1.5-.1 1.5-.1 1.5 0 1.5-.1 1.5-.1 1.5-.1 1.6 0 1.5-.1 1.5-.1 1.5-.1 1.5 0 1.5-.1 1.5-.1 1.5-.1 1.5 0 1.5-.1 1.5-.1 1.5 0 1.5-.1 1.5 0 1.5-.1 1.5-.1 1.5 0 1.6-.1 1.5 0 1.5-.1 1.5 0 1.5-.1 1.5 0 1.5-.1 1.5 0 1.5 0 1.5-.1 1.5 0 1.5 0 1.5-.1 1.5 0 1.5 0 1.5-.1 1.5 0 1.5 0 1.6 0 1.5-.1 1.5 0 1.5 0 1.5 0 1.5-.1 1.5 0 1.5 0 1.5 0 1.5 0 1.5-.1 1.5 0 1.5 0 1.5 0 1.6 0 1.5 0 1.5-.1 1.5 0 1.5 0 1.5 0 1.5 0 1.5 0 1.5 0 1.5 0 1.6-.1 1.5 0 1.5 0 1.5 0 1.5 0 1.5 0 1.5 0 1.5 0 1.5 0 1.6-.1 1.5 0 1.5 0 1.5 0 1.5 0 1.5 0 1.6-.1 1.5 0 1.5 0 1.5-.1 1.5-.1 1.5-.1 1.5-.1 1.5-.1 1.5-.2 1.5-.2 1.4-.3 1.5-.2 1.5-.4 1.4-.3 1.5-.4 1.4-.5 1.5-.5 1.4-.5 1.4-.5 1.4-.3 1.5 0 1.4 .2 1.5 .3 1.5 .2 1.5 .2 1.5 .1 1.5 .1 1.5 0 1.5 0 1.5 0 1.5-.1 1.5 0 1.5-.1 1.5 0 1.6-.1 1.5 0 1.5-.1 1.5 0 1.5-.1 1.5 0 1.5-.1 1.5 0 1.5-.1 1.5 0 1.5-.1 1.5 0 1.6-.1 1.5 0 1.5-.1 1.5 0 1.5 0 1.5-.1 1.5 0 1.5-.1 1.5 0 1.5 0 1.5-.1 1.5 0 1.5-.1 1.6 0 1.5 0 1.5-.1 1.5 0 1.5 0 1.5-.1 1.5 0 1.5 0 1.5-.1 1.5 0 1.5 0 1.5-.1 1.5 0 1.5 0 1.6-.1 1.5 0 1.5 0 1.5 0 1.5-.1 1.5 0 1.5 0 1.5 0 1.5-.1 1.5 0 1.5 0 1.5 0 1.5-.1 1.5 0 1.6 0 1.5 0 1.5 0 1.5 0 1.5-.1 1.5 0 1.5 0 1.5 0 1.5 0 1.5 0 1.5 0 1.5 0 1.5-.1 1.5 0 1.5 0 1.6 0 1.5 0 1.5 0 1.5 0 1.5 0 1.5 0 1.5 0 1.5 0 1.5 0 1.5 0 1.5 0 1.5 0 1.5 0 1.5 0 1.5 0 1.6 0 1.5 0 1.5 0 1.5 0 1.5 0 1.5 0 1.5 0 1.5 0 1.5 .1 1.5 0 1.5 0 1.5 0 1.5 0 1.6 0 1.5 0 1.5 .1 1.5 0 1.5 0 1.5 0 1.5 0 1.5 .1 1.5 0 1.5 0 1.5 0 1.5 .1 1.5 0 1.6 0 1.5 0 1.5 .1 1.5 0 1.5 0 1.5 .1 1.5 0 1.5 0 1.5 .1 1.5 0 1.5 0 1.5 .1 1.6 0 1.5 0 1.5 .1 1.5 0 1.5 .1 1.5 0 1.5 .1 1.5 0 1.5 0 1.5 .1 1.6 0 1.5 .1 1.5 0 1.5 .1 1.5 0 1.5 .1" fill="none" stroke="#161616" stroke-width="2.9" stroke-linejoin="round" stroke-linecap="round"/>
<path d="M704.2 530.8l1.7-.3 1.6-.5 1.5-.5 1.4-.6 1.3-.7 1.2-.8 1.2-.9 1.1-.9 1-1 1-1.1 .9-1.1 .9-1.2 .8-1.2 .7-1.3 .7-1.3 .7-1.3 .7-1.4 .6-1.4 .6-1.3 .6-1.4 .6-1.4 .5-1.4 .6-1.4 .5-1.5 .5-1.4 .5-1.4 .5-1.4 .5-1.4 .5-1.4 .5-1.5 .4-1.4 .4-1.4 .5-1.5 .4-1.4 .4-1.4 .4-1.5 .4-1.4 .3-1.5 .4-1.4 .3-1.5 .4-1.4 .3-1.5 .3-1.4 .4-1.5 .3-1.5 .3-1.4 .3-1.5 .2-1.5 .3-1.4 .3-1.5 .2-1.5 .3-1.5 .2-1.4 .3-1.5 .2-1.5 .2-1.5 .3-1.5 .2-1.5 .2-1.4 .2-1.5 .2-1.5 .2-1.5 .2-1.5 .2-1.5 .1-1.5 .2-1.5 .2-1.5 .1-1.5 .2-1.5 .2-1.5 .1-1.5 .2-1.5 .1-1.5 .2-1.5 .1-1.5 .2-1.5 .1-1.5 .2-1.5 .1-1.5 .1-1.5 .2-1.5 .1-1.5 .2-1.5 .1-1.5 .1-1.5 .2-1.5 .1-1.5 .1-1.5 .2-1.5 .1-1.5 .2-1.5 .1-1.5 .1-1.5 .2-1.5 .1-1.5 .2-1.5 .1-1.5 .2-1.5 .1-1.5 .2-1.5 .1-1.5 .1-1.5 .2-1.5 .1-1.5 .2-1.5 .1-1.5 .2-1.5 .1-1.5 .2-1.5 .1-1.5 .2-1.5 .1-1.5 .2-1.5 .1-1.5 .2-1.5 .1-1.5 .2-1.5 .1-1.5 .2-1.5 .1-1.5 .2-1.4 .1-1.5 .2-1.5 .1-1.5 .2-1.5 .1-1.5 .1-1.5 .2-1.5 .1-1.5 .2-1.5 .1-1.5 .2-1.5 .1-1.5 .2-1.5 .1-1.5 .2-1.5 .1-1.5 .2-1.5 .1-1.4 .2-1.5 .1-1.5 .2-1.5 .1-1.5 .1-1.5 .2-1.5 .1-1.5 .2-1.5 .1-1.5 .2-1.5 .1-1.5 .1-1.5 .2-1.5 .1-1.5 .2-1.4 .1-1.5 .1-1.5 .2-1.5 .1-1.5 .2-1.5 .1-1.5 .1-1.5 .2-1.5 .1-1.5 .1-1.5 .2-1.5 .1-1.5 .1-1.5 .1-1.5 .2-1.5 .1-1.5 .1-1.4 .1-1.5 .2-1.5 .1-1.5 .1-1.5 .1-1.5 .2-1.5 .1-1.5 .1-1.5 .1-1.5 .1-1.5 .1-1.5 .1-1.5 .2-1.5 .1-1.5 .1-1.5 .1-1.5 .1-1.5 .1-1.5 .1-1.5 .1-1.5 .1-1.5 .1-1.5 .1-1.5 .1-1.5 .1-1.5 .1-1.5 .1-1.5 .1-1.5 .1-1.5 .1-1.5 0-1.5 .1-1.5 .1-1.5 .1-1.5 .1-1.5 0-1.5 .1-1.5 .1-1.5 .1-1.5 0-1.5 .1-1.5 .1-1.5 .1-1.5 0-1.5 .1-1.5 .1-1.5 0-1.5 .1-1.5 0-1.5 .1-1.5 .1-1.5 0-1.5 .1-1.5 .1-1.5 0-1.5 .1-1.5 0-1.5 .1-1.6 .1-1.5 0-1.5 .1-1.5 .1-1.5 0-1.5 .1-1.5 0-1.5 .1-1.5 .1-1.5 0-1.5 .1-1.5 .1-1.5 0-1.5 .1-1.5 .1-1.5 .1-1.5 0-1.5 .1-1.5 .1-1.5 .1-1.5 0-1.6 .1-1.5 .1-1.5 .1-1.5 .1-1.5 .1-1.5 .1-1.5 .1-1.5 0-1.5 .1-1.5 .1-1.5 .2-1.5 .1-1.5 .1-1.5 .1-1.5 .1-1.5 .1-1.5 .1-1.5 .1-1.5 .1-1.5 .2-1.5 .1-1.5 .1-1.5 .1-1.5 .1-1.5 .1-1.5 .1-1.4 .2-1.5 .1-1.5 .1-1.5 .1-1.5 .1-1.5 .1-1.5 .1-1.5 .1-1.5 .1-1.5 .1-1.4 .1-1.5 .1-1.5 0-1.5 .1-1.5 .1-1.5 .1-1.5 .1-1.4 .1-1.5 .1-1.5 .1-1.5 0-1.5 .1-1.5 .1-1.5 .1-1.5 .1-1.5 .1-1.4 .1-1.5 .1-1.5 .1-1.5 .1-1.5 .1-1.5 .1-1.5 .1-1.5 .1-1.5 .1-1.6 .1-1.5 .1-1.6 .1-1.6 .2-1.6 .1-1.6 .1-1.7 .1-1.7 .2-1.7 .1-1.8 .2-1.9 .1-1.8 .2-1.9 .2-1.7 .2-1.6 .2-1.4 .2-1.1 .3-.8 .2-.3 .3 0 .4 .5 .3 .8 .3 1.1 .3 1.3 .2 1.4 .2 1.6 .2 1.7 .1 1.7 .2 1.9 .1 1.8 .1 1.9 .1 1.9 .2 1.8 .1 1.9 .1 1.7 .2 1.8 .1 1.7 .2 1.7 .1 1.6 .2 1.6 .2 1.6 .2 1.5 .1 1.5 .2 1.5 .2 1.5 .2 1.5 .2 1.4 .2 1.5 .2 1.4 .2 1.4 .2 1.4 .2 1.4 .2 1.3 .2 1.4 .2 1.4 .2 1.4 .2 1.3 .2 1.4 .2 1.4 .2 1.4 .1 1.4 .2 1.4 .2 1.4 .2 1.4 .2 1.5 .1 1.4 .2 1.4 .2 1.5 .1 1.4 .2 1.5 .2 1.5 .2 1.4 .1 1.5 .2 1.5 .2 1.5 .1 1.5 .2 1.5 .2 1.5 .1 1.5 .2 1.5 .2 1.5 .1 1.5 .2 1.5 .2 1.6 .2 1.5 .2 1.5 .2 1.5 .1 1.6 .2 1.5 .2 1.5 .2 1.6 .2 1.5 .2 1.5 .2 1.6 .3 1.5 .2 1.6 .2 1.5 .2 1.5 .3 1.6 .2 1.5 .2 1.6 .3 1.5 .2 1.5 .3 1.6 .3 1.5 .2 1.5 .3 1.5 .3 1.6 .3 1.5 .3 1.5 .3 1.5 .3 1.5 .4 1.6 .3 1.5 .4 1.5 .3 1.5 .4 1.5 .3 1.4 .4 1.5 .4 1.5 .4 1.5 .4 1.5 .4 1.4 .5 1.5 .4 1.4 .5 1.5 .4 1.4 .5 1.5 .5 1.4 .5 1.4 .5 1.4 .5 1.4 .5 1.4 .6 1.4 .5 1.4 .6 1.4 .6 1.3 .6 1.4 .6 1.3 .6 1.4 .7 1.3 .6 1.3 .7 1.3 .7 1.3 .7 1.3 .7 1.3 .7 1.3 .8 1.2 .7 1.3 .8 1.2 .8 1.2 .8 1.2 .8 1.2 .8 1.2 .9 1.2 .9 1.1 .9 1.2 .9 1.1 .9 1.1 1 1.1 .9 1.1 1 1.1 1 1.1 1 1 1 1.1 1.1 1 1.1 1 1 1 1.1 1 1.2 1 1.1 1 1.1 .9 1.2 1 1.1 .9 1.2 .9 1.2 .9 1.2 .9 1.2 .9 1.2 .9 1.3 .9 1.2 .8 1.3 .9 1.2 .8 1.3 .9 1.3 .8 1.2 .8 1.3 .9 1.3 .8 1.3 .8 1.3 .8 1.3 .8 1.3 .8 1.4 .7 1.3 .8 1.3 .8 1.3 .7 1.3 .8 1.4 .8 1.3 .7 1.3 .8 1.3 .7 1.4 .8 1.3 .7 1.3 .7 1.4 .8 1.3 .7 1.3 .7 1.3 .7 1.4 .7 1.3 .8 1.3 .7 1.4 .7 1.3 .7 1.3 .7 1.4 .7 1.3 .6 1.3 .7 1.4 .7 1.3 .7 1.4 .7 1.3 .6 1.3 .7 1.4 .6 1.3 .7 1.4 .6 1.3 .7 1.4 .6 1.4 .7 1.3 .6 1.4 .6 1.3 .7 1.4 .6 1.4 .6 1.3 .6 1.4 .6 1.4 .6 1.4 .6 1.3 .6 1.4 .6 1.4 .6 1.4 .5 1.3 .6 1.4 .6 1.4 .6 1.4 .5 1.4 .6 1.4 .5 1.4 .6 1.4 .5 1.4 .6 1.4 .5 1.4 .6 1.4 .5 1.4 .5 1.4 .5 1.4 .6 1.4 .5 1.4 .5 1.4 .5 1.4 .5 1.4 .5 1.4 .5 1.5 .5 1.4 .5 1.4 .4 1.4 .5 1.4 .5 1.5 .5 1.4 .4 1.4 .5 1.4 .5 1.5 .4 1.4 .5 1.4 .4 1.5 .5 1.4 .4 1.4 .4 1.5 .5 1.4 .4 1.4 .4 1.5 .4 1.4 .5 1.5 .4 1.4 .4 1.5 .4 1.4 .4 1.5 .4 1.4 .4 1.5 .4 1.4 .4 1.5 .4 1.4 .4 1.5 .3 1.4 .4 1.5 .4 1.4 .3 1.5 .4 1.5 .4 1.4 .3 1.5 .4 1.4 .3 1.5 .4 1.5 .3 1.4 .4 1.5 .3 1.5 .3 1.4 .4 1.5 .3 1.5 .3 1.5 .3 1.4 .4 1.5 .3 1.5 .3 1.4 .3 1.5 .3 1.5 .3 1.5 .3 1.5 .3 1.4 .3 1.5 .3 1.5 .2 1.5 .3 1.5 .3 1.4 .3 1.5 .2 1.5 .3 1.5 .3 1.5 .2 1.5 .3 1.4 .3 1.5 .2 1.5 .3 1.5 .2 1.5 .3 1.5 .2 1.5 .2 1.5 .3 1.4 .2 1.5 .2 1.5 .3 1.5 .2 1.5 .2 1.5 .2 1.5 .2 1.5 .2 1.5 .2 1.5 .3 1.5 .2 1.5 .2 1.5 .2 1.5 .1 1.5 .2 1.4 .2 1.5 .2 1.5 .2 1.5 .2 1.5 .2 1.5 .1 1.5 .2 1.5 .2 1.5 .1 1.5 .2 1.5 .2 1.5 .1 1.5 .2 1.5 .1 1.5 .2 1.5 .1 1.5 .2 1.5 .1 1.5 .2 1.5 .1 1.5 .1 1.5 .2 1.5 .1 1.5 .1 1.5 .2 1.5 .1 1.5 .1 1.5 .1 1.5 .1 1.5 .1 1.5 .2 1.5 .1 1.5 .1 1.5 .1 1.5 .1 1.5 .1 1.5 .1 1.5 .1 1.5 .1 1.5 .1 1.5 0 1.5 .1 1.5 .1 1.5 .1 1.5 .1 1.5 0 1.5 .1 1.5 .1 1.5 .1 1.5 0 1.4 .1 1.5 .1 1.5 0 1.5 .1 1.5 0 1.5 .1 1.5 0 1.5 .1-1.5 .4-1.4 .3-1.5 .4-1.4 .4-1.5 .3-1.5 .4-1.4 .3-1.5 .4-1.5 .3-1.4 .4-1.5 .3-1.4 .3-1.5 .4-1.5 .3-1.4 .3-1.5 .3-1.5 .3-1.5 .4-1.4 .3-1.5 .3-1.5 .3-1.4 .3-1.5 .3-1.5 .3-1.5 .2-1.4 .3-1.5 .3-1.5 .3-1.5 .3-1.4 .2-1.5 .3-1.5 .3-1.5 .2-1.5 .3-1.4 .3-1.5 .2-1.5 .3-1.5 .2-1.5 .3-1.4 .2-1.5 .3-1.5 .2-1.5 .2-1.5 .3-1.5 .2-1.4 .2-1.5 .3-1.5 .2-1.5 .2-1.5 .2-1.5 .2-1.5 .3-1.4 .2-1.5 .2-1.5 .2-1.5 .2-1.5 .2-1.5 .2-1.5 .2-1.5 .2-1.5 .2-1.4 .2-1.5 .2-1.5 .1-1.5 .2-1.5 .2-1.5 .2-1.5 .2-1.5 .2-1.5 .1-1.5 .2-1.5 .2-1.5 .2-1.4 .1-1.5 .2-1.5 .2-1.5 .1-1.5 .2-1.5 .2-1.5 .1-1.5 .2-1.5 .1-1.5 .2-1.5 .1-1.5 .2-1.5 .1-1.5 .2-1.5 .1-1.5 .2-1.5 .1-1.5 .2-1.5 .1-1.5 .2-1.5 .1-1.5 .2-1.5 .1-1.5 .1-1.5 .2-1.5 .1-1.5 .1-1.4 .2-1.5 .1-1.5 .1-1.5 .2-1.5 .1-1.5 .1-1.5 .2-1.5 .1-1.5 .1-1.5 .2-1.5 .1-1.5 .1-1.5 .1-1.5 .2-1.5 .1-1.5 .1-1.5 .2-1.5 .1-1.5 .1-1.5 .1-1.5 .1-1.5 .2-1.5 .1-1.5 .1-1.5 .1-1.5 .2-1.5 .1-1.5 .1-1.5 .1-1.5 .2-1.5 .1-1.5 .1-1.5 .1-1.5 .2-1.4 .1-1.5 .1-1.5 .1-1.5 .2-1.5 .1-1.5 .1-1.5 .1-1.5 .2-1.5 .1-1.5 .1-1.5 .1-1.5 .2-1.5 .1-1.5 .1-1.5 .1-1.5 .2-1.4 .1-1.5 .1-1.5 .2-1.5 .1-1.5 .1-1.5 .2-1.5 .1-1.5 .1-1.5 .2-1.5 .1-1.4 .1-1.5 .2-1.5 .1-1.5 .2-1.5 .1-1.5 .1-1.5 .2-1.5 .1-1.4 .2-1.5 .1-1.5 .1-1.5 .2-1.5 .1-1.5 .2-1.5 .1-1.5 .1-1.5 .2-1.4 .1-1.5 .2-1.5 .1-1.5 .1-1.5 .2-1.5 .1-1.5 .2-1.5 .1-1.5 .1-1.5 .2-1.5 .1-1.5 .1-1.5 .2-1.4 .1-1.5 .1-1.5 .2-1.5 .1-1.5 .1-1.5 .2-1.5 .1-1.5 .1-1.5 .2-1.5 .1-1.5 .1-1.5 .1-1.5 .2-1.6 .1-1.5 .1-1.5 .1-1.5 .1-1.5 .2-1.5 .1-1.5 .1-1.5 .1-1.5 .1-1.6 .1-1.5 .1-1.5 .1-1.5 .1-1.5 .2-1.5 .1-1.6 .1-1.5 .1-1.5 .1-1.5 .1-1.5 .2-1.5 .1-1.5 .2-1.5 .2-1.5 .2-1.5 .2-1.5 .2-1.5 .2-1.5 .3-1.5 .2-1.5 .3-1.4 .4-1.5 .3-1.4 .4-1.5 .4-1.4 .4-1.4 .5-1.4 .5-1.5 .5-1.3 .5-1.4 .6-1.4 .6-1.4 .7-1.3 .6-1.3 .7-1.4 .8-1.3 .7-1.2 .8-1.3 .8-1.3 .8-1.2 .9-1.2 .9-1.2 .9-1.2 .9-1.1 1-1.1 .9-1.2 1-1 1.1-1.1 1-1 1.1-1 1.1-1 1.1-.9 1.1-1 1.1-.9 1.2-.8 1.2-.9 1.2-.8 1.2-.7 1.2-.8 1.3-.7 1.3-.7 1.3-.7 1.3-.6 1.3-.6 1.3-.6 1.4-.6 1.3-.6 1.4-.5 1.4-.5 1.3-.5 1.5-.5 1.4-.5 1.4-.4 1.4-.5 1.5-.4 1.4-.4 1.5-.4 1.4-.4 1.5-.3 1.5-.4 1.5-.3 1.4-.3 1.5-.4 1.5-.3 1.5-.3 1.5-.3 1.5-.3 1.5-.3 1.5-.2 1.5-.3 1.5-.3 1.5-.3 1.6-.2 1.5-.3 1.5-.3 1.5-.2 1.5-.3 1.5-.2 1.5-.3 1.5-.2 1.5-.3 1.5-.2 1.5-.3 1.5-.2 1.5-.2 1.5-.3 1.5-.2 1.4-.2 1.5-.3 1.5-.2 1.5-.2 1.5-.2 1.5-.2 1.5-.3 1.5-.2 1.5-.2 1.5-.2 1.5-.2 1.5-.2 1.5-.2 1.4-.2 1.5-.2 1.5-.2 1.5-.2 1.5-.2 1.5-.2 1.5-.2 1.5-.2 1.4-.2 1.5-.2 1.5-.2 1.5-.2 1.5-.2 1.5-.2 1.5-.2 1.4-.1 1.5-.2 1.5-.2 1.5-.2 1.5-.2 1.5-.2 1.4-.1 1.5-.2 1.5-.2 1.5-.2 1.5-.1 1.5-.2 1.4-.2 1.5-.2 1.5-.2 1.5-.1 1.5-.2 1.4-.2 1.5-.2 1.5-.1 1.5-.2 1.5-.2 1.5-.2 1.4-.1 1.5-.2 1.5-.2 1.5-.2 1.5-.1 1.4-.2 1.5-.2 1.5-.2 1.5-.1 1.5-.2 1.5-.2 1.4-.2 1.5-.1 1.5-.2 1.5-.2 1.5-.2 1.5-.2 1.4-.2 1.5-.1 1.5-.2 1.5-.2 1.5-.2 1.5-.2 1.5-.2 1.4-.1 1.5-.2 1.5-.2 1.5-.2 1.5-.2 1.5-.2 1.5-.2 1.4-.2 1.5-.2 1.5-.2 1.5-.2 1.5-.2 1.5-.2 1.5-.2 1.5-.2 1.5-.2 1.5-.3 1.4-.2 1.5-.2 1.5-.2 1.5-.2 1.5-.2 1.5-.3 1.5-.2 1.5-.2 1.5-.2 1.5-.3 1.5-.2 1.5-.2 1.5-.3 1.5-.2 1.5-.3 1.5-.2 1.5-.2 1.5-.3 1.5-.2 1.5-.3 1.5-.2 1.5-.3 1.5-.2 1.5-.3 1.5-.2 1.5-.3 1.5-.2 1.4-.3 1.5-.2 1.5-.3 1.5-.2 1.5-.3 1.5-.2 1.5-.2 1.5-.3 1.5-.2 1.5-.3 1.5-.2 1.4-.3 1.5-.2 1.5-.3 1.5-.2 1.5-.3 1.5-.2 1.4-.2 1.5-.3 1.5-.2 1.5-.3 1.4-.2 1.5-.2 1.5-.3 1.4-.2 1.5-.2 1.5-.2 1.4-.3 1.5-.2 1.4-.2 1.5-.2 1.5-.2 1.4-.3 1.5-.2 1.4-.2 1.4-.2 1.5-.2 1.4-.3 1.5-.2 1.4-.3 1.5-.3 1.5-.3 1.4-.3 1.5-.4 1.4-.3 1.5-.4 1.5-.5 1.5-.4 1.5-.5 1.5-.6 1.5-.5 1.5-.6 1.5-.7 1.6-.6 1.5-.7 1.6-.7 1.5-.7 1.6-.7 1.3-.7 1-.7 .3-.5-.4-.5-.9-.5-1.4-.4-1.7-.5-1.7-.4-1.7-.5-1.6-.4-1.6-.5-1.6-.4-1.6-.4-1.6-.5-1.5-.4-1.5-.5-1.5-.4-1.5-.5-1.5-.4-1.4-.4-1.4-.5-1.5-.4-1.4-.4-1.4-.4-1.4-.5-1.4-.4-1.4-.4-1.4-.4-1.4-.3-1.4-.4-1.4-.4-1.4-.4-1.4-.3-1.4-.3-1.4-.4-1.5-.3-1.4-.3-1.4-.3-1.5-.3-1.4-.3-1.5-.3-1.5-.3-1.4-.3-1.5-.3-1.5-.3-1.5-.3-1.5-.2-1.4-.3-1.5-.3-1.5-.2-1.5-.3-1.5-.3-1.5-.2-1.5-.3-1.5-.3-1.5-.3-1.5-.2-1.5-.3-1.6-.3-1.5-.3-1.5-.3-1.5-.3-1.5-.3-1.5-.3-1.4-.3-1.5-.4-1.5-.3-1.5-.3-1.5-.4-1.5-.3-1.5-.4-1.4-.4-1.5-.4-1.4-.4-1.5-.4-1.5-.4-1.4-.5-1.4-.4-1.5-.5-1.4-.5-1.4-.5-1.4-.5-1.4-.5-1.4-.6-1.4-.5-1.3-.6-1.4-.6-1.4-.6-1.3-.7-1.3-.6-1.3-.7-1.4-.7-1.3-.7-1.3-.7-1.2-.7-1.3-.8-1.3-.8-1.3-.7-1.2-.8-1.3-.8-1.2-.9-1.2-.8-1.3-.8-1.2-.9-1.2-.8-1.2-.9-1.3-.9-1.2-.8-1.2-.9-1.2-.9-1.2-.9-1.2-.9-1.2-.9-1.2-.9-1.2-.9-1.2-1-1.2-.9-1.2-.9-1.2-.9-1.2-.9-1.2-.9-1.2-.9-1.2-.9-1.2-1-1.2-.9-1.2-.9-1.3-.9-1.2-.8-1.2-.9-1.2-.9-1.3-.9-1.2-.8-1.3-.9-1.2-.9-1.2-.9-1.2-.9-1.3-.9-1.2-.9-1.1-1-1.2-1-1.1-1-1.1-1-1.1-1.1-1.1-1-1-1.2-1-1.1-1-1.2-.9-1.2-.9-1.2-.9-1.2-.8-1.3-.8-1.2-.8-1.3-.7-1.4-.7-1.3-.7-1.4-.6-1.3-.6-1.4-.5-1.4-.5-1.5-.5-1.4-.5-1.4-.4-1.5-.4-1.4-.4-1.5-.3-1.5-.4-1.5-.3-1.5-.3-1.5-.3-1.4-.3-1.5-.3-1.5-.2-1.5-.3-1.5-.2-1.5-.3-1.5-.2-1.5-.3-1.5-.2-1.4-.3-1.5-.2-1.5-.3-1.4-.2-1.5-.3-1.5-.2-1.4-.3-1.5-.2-1.5-.3-1.5-.3-1.4-.3-1.5-.2-1.5-.3-1.4-.3-1.5-.3-1.5-.3-1.5-.2-1.4-.3-1.5-.3-1.5-.3-1.5-.3-1.5-.3-1.5-.2-1.4-.3-1.5-.3-1.5-.3-1.5-.2-1.5-.3-1.5-.2-1.4-.3-1.5-.2-1.5-.2-1.5-.2-1.5-.2-1.5-.2-1.5-.2-1.5-.2-1.5-.2-1.5-.1-1.5-.2-1.5-.1-1.4-.1-1.5-.1-1.5-.1-1.5-.1-1.5-.1-1.5 0-1.5-.1-1.5 0-1.5-.1-1.5 0-1.5 0-1.5-.1-1.5 0-1.5-.1-1.5 0-1.5-.1-1.5-.1-1.5 0-1.5-.1-1.5-.2-1.5-.1-1.5-.2-1.5-.1-1.5-.2-1.5-.2-1.5-.2-1.5-.2-1.5-.1-1.5 0-1.5 0-1.5 .1-1.5 .2-1.4 .2-1.5 .3-1.5 .3-1.5 .3-1.4 .3-1.5 .4-1.5 .3-1.4 .3-1.5 .3-1.5 .3-1.5 .3-1.4 .1-1.5 .2-1.5 0-1.5 0-1.5-.1-1.5-.2-1.5-.2-1.5-.2-1.5-.3-1.4-.3-1.5-.3-1.5-.2-1.5-.3-1.5-.2-1.5-.3-1.5-.2-1.5-.3-1.5-.2-1.4-.3-1.5-.2-1.5-.2-1.5-.2-1.5-.2-1.5-.2-1.5-.2-1.5-.2-1.4-.2-1.5-.2-1.5-.2-1.5-.2-1.5-.2-1.5-.2-1.5-.1-1.5-.2-1.4-.2-1.5-.1-1.5-.2-1.5-.2-1.5-.1-1.5-.2-1.5-.1-1.5-.1-1.5-.2-1.5-.1-1.5-.1-1.5-.2-1.5-.1-1.5-.1-1.5-.1-1.4-.1-1.5-.2-1.5-.1-1.5-.1-1.5-.1-1.5 0-1.5-.1-1.5-.1-1.5-.1-1.5-.1-1.5 0-1.5-.1-1.5-.1-1.5 0-1.5-.1-1.5 0-1.5-.1-1.5 0-1.5-.1-1.5 0-1.5 0-1.5 0-1.6-.1-1.5 0-1.5 0-1.5 0-1.5 0-1.5 0-1.5 0-1.5 0-1.5 0-1.5 .1-1.5 0-1.5 0-1.5 0-1.5 .1-1.5 0-1.6 0-1.5 .1-1.5 0-1.5 0-1.5 0-1.5 0-1.5 0-1.5 0-1.5 0-1.5 0-1.5-.1-1.5 0-1.5-.1-1.5-.1-1.5-.1-1.5-.1-1.4-.1-1.5-.2-1.5-.1-1.5-.2-1.5-.2-1.5-.3-1.4-.2-1.5-.4-1.2-.9 1.3-.7 1.4-.5 1.5-.5 1.4-.3 1.5-.4 1.5-.3 1.4-.2 1.5-.3 1.5-.1 1.5-.2 1.5-.1 1.5-.2 1.5-.1 1.5-.1 1.5-.1 1.5 0 1.5-.1 1.6-.1 1.5-.1 1.5-.1 1.5-.1 1.5 0 1.5-.1 1.5-.1 1.5-.1 1.5 0 1.5-.1 1.5-.1 1.6 0 1.5-.1 1.5-.1 1.5 0 1.5-.1 1.5-.1 1.5 0 1.5-.1 1.5 0 1.5-.1 1.5 0 1.5-.1 1.5 0 1.5-.1 1.6 0 1.5-.1 1.5 0 1.5-.1 1.5 0 1.5-.1 1.5 0 1.5-.1 1.5 0 1.5-.1 1.5 0 1.5 0 1.5-.1 1.5 0 1.5-.1 1.5 0 1.6 0 1.5-.1 1.5 0 1.5-.1 1.5 0 1.5 0 1.5-.1 1.5 0 1.5 0 1.5-.1 1.5 0 1.5 0 1.5-.1 1.5 0 1.5 0 1.5-.1 1.6 0 1.5 0 1.5-.1 1.5 0 1.5 0 1.5-.1 1.5 0 1.5 0 1.5 0 1.5-.1 1.5 0 1.5 0 1.5-.1 1.5 0 1.6 0 1.5 0 1.5-.1 1.5 0 1.5 0 1.5 0 1.5 0 1.5-.1 1.5 0 1.5 0 1.5 0 1.5 0 1.6-.1 1.5 0 1.5 0 1.5 0 1.5 0 1.5 0 1.5 0 1.5-.1 1.5 0 1.5 0 1.6 0 1.5 0 1.5 0 1.5 0 1.5 0 1.5 0 1.5 0 1.5 0 1.5 0 1.5 0 1.6-.1 1.5 0 1.5 0 1.5 0 1.5 0 1.5 0 1.5 0 1.5 0 1.5 0 1.5-.1 1.6 0 1.5-.1 1.5-.1 1.5-.1 1.5-.1 1.4-.2 1.5-.2 1.5-.2 1.5-.3 1.5-.3 1.5-.3 1.4-.5 1.4-.5 1.3-.8 1.3-.8 1.2-.5 1.3 .3 1.4 .6 1.4 .7 1.4 .4 1.6 .2 1.5 .2 1.5 0 1.5 .1 1.5 0 1.5 0 1.5 0 1.5 0 1.5-.1 1.5 0 1.5 0 1.5 0 1.6-.1 1.5 0 1.5 0 1.5 0 1.5-.1 1.5 0 1.5 0 1.5 0 1.5 0 1.5 0 1.5 0 1.5-.1 1.5 0 1.5 0 1.6 0 1.5 0 1.5 0 1.5 0 1.5 0 1.5 0 1.5 0 1.5 0 1.5 0 1.5 0 1.5 0 1.5 0 1.6 0 1.5 0 1.5 0 1.5 0 1.5 0 1.5 0 1.5 0 1.5 0 1.5 0 1.5 0 1.5 0 1.6 0 1.5 0 1.5 0 1.5 0 1.5 0 1.5 0 1.5 0 1.5 0 1.5 0 1.5 0 1.5 .1 1.5 0 1.6 0 1.5 0 1.5 0 1.5 0 1.5 0 1.5 0 1.5 0 1.5 0 1.5 0 1.5 .1 1.5 0 1.6 0 1.5 0 1.5 0 1.5 0 1.5 0 1.5 0 1.5 0 1.5 0 1.5 0 1.5 0 1.5 .1 1.5 0 1.6 0 1.5 0 1.5 0 1.5 0 1.5 0 1.5 0 1.5 0 1.5 0 1.5 0 1.5 0 1.5 0 1.5 0 1.5 0 1.6 0 1.5 0 1.5 0 1.5 0 1.5 0 1.5 0 1.5 0 1.5 0 1.5 0 1.5 0 1.5 0 1.5 0 1.5 0 1.5 0 1.5 0 1.6-.1 1.5 0 1.5 0 1.5 0 1.5 0 1.5 0 1.5 0 1.5-.1 1.5 0 1.5 0 1.5 0" fill="none" stroke="#e82a2a" stroke-width="4.9" stroke-opacity="0.28" stroke-linejoin="round" stroke-linecap="round"/>
<path d="M704.2 530.8l1.7-.3 1.6-.5 1.5-.5 1.4-.6 1.3-.7 1.2-.8 1.2-.9 1.1-.9 1-1 1-1.1 .9-1.1 .9-1.2 .8-1.2 .7-1.3 .7-1.3 .7-1.3 .7-1.4 .6-1.4 .6-1.3 .6-1.4 .6-1.4 .5-1.4 .6-1.4 .5-1.5 .5-1.4 .5-1.4 .5-1.4 .5-1.4 .5-1.4 .5-1.5 .4-1.4 .4-1.4 .5-1.5 .4-1.4 .4-1.4 .4-1.5 .4-1.4 .3-1.5 .4-1.4 .3-1.5 .4-1.4 .3-1.5 .3-1.4 .4-1.5 .3-1.5 .3-1.4 .3-1.5 .2-1.5 .3-1.4 .3-1.5 .2-1.5 .3-1.5 .2-1.4 .3-1.5 .2-1.5 .2-1.5 .3-1.5 .2-1.5 .2-1.4 .2-1.5 .2-1.5 .2-1.5 .2-1.5 .2-1.5 .1-1.5 .2-1.5 .2-1.5 .1-1.5 .2-1.5 .2-1.5 .1-1.5 .2-1.5 .1-1.5 .2-1.5 .1-1.5 .2-1.5 .1-1.5 .2-1.5 .1-1.5 .1-1.5 .2-1.5 .1-1.5 .2-1.5 .1-1.5 .1-1.5 .2-1.5 .1-1.5 .1-1.5 .2-1.5 .1-1.5 .2-1.5 .1-1.5 .1-1.5 .2-1.5 .1-1.5 .2-1.5 .1-1.5 .2-1.5 .1-1.5 .2-1.5 .1-1.5 .1-1.5 .2-1.5 .1-1.5 .2-1.5 .1-1.5 .2-1.5 .1-1.5 .2-1.5 .1-1.5 .2-1.5 .1-1.5 .2-1.5 .1-1.5 .2-1.5 .1-1.5 .2-1.5 .1-1.5 .2-1.5 .1-1.5 .2-1.4 .1-1.5 .2-1.5 .1-1.5 .2-1.5 .1-1.5 .1-1.5 .2-1.5 .1-1.5 .2-1.5 .1-1.5 .2-1.5 .1-1.5 .2-1.5 .1-1.5 .2-1.5 .1-1.5 .2-1.5 .1-1.4 .2-1.5 .1-1.5 .2-1.5 .1-1.5 .1-1.5 .2-1.5 .1-1.5 .2-1.5 .1-1.5 .2-1.5 .1-1.5 .1-1.5 .2-1.5 .1-1.5 .2-1.4 .1-1.5 .1-1.5 .2-1.5 .1-1.5 .2-1.5 .1-1.5 .1-1.5 .2-1.5 .1-1.5 .1-1.5 .2-1.5 .1-1.5 .1-1.5 .1-1.5 .2-1.5 .1-1.5 .1-1.4 .1-1.5 .2-1.5 .1-1.5 .1-1.5 .1-1.5 .2-1.5 .1-1.5 .1-1.5 .1-1.5 .1-1.5 .1-1.5 .1-1.5 .2-1.5 .1-1.5 .1-1.5 .1-1.5 .1-1.5 .1-1.5 .1-1.5 .1-1.5 .1-1.5 .1-1.5 .1-1.5 .1-1.5 .1-1.5 .1-1.5 .1-1.5 .1-1.5 .1-1.5 .1-1.5 0-1.5 .1-1.5 .1-1.5 .1-1.5 .1-1.5 0-1.5 .1-1.5 .1-1.5 .1-1.5 0-1.5 .1-1.5 .1-1.5 .1-1.5 0-1.5 .1-1.5 .1-1.5 0-1.5 .1-1.5 0-1.5 .1-1.5 .1-1.5 0-1.5 .1-1.5 .1-1.5 0-1.5 .1-1.5 0-1.5 .1-1.6 .1-1.5 0-1.5 .1-1.5 .1-1.5 0-1.5 .1-1.5 0-1.5 .1-1.5 .1-1.5 0-1.5 .1-1.5 .1-1.5 0-1.5 .1-1.5 .1-1.5 .1-1.5 0-1.5 .1-1.5 .1-1.5 .1-1.5 0-1.6 .1-1.5 .1-1.5 .1-1.5 .1-1.5 .1-1.5 .1-1.5 .1-1.5 0-1.5 .1-1.5 .1-1.5 .2-1.5 .1-1.5 .1-1.5 .1-1.5 .1-1.5 .1-1.5 .1-1.5 .1-1.5 .1-1.5 .2-1.5 .1-1.5 .1-1.5 .1-1.5 .1-1.5 .1-1.5 .1-1.4 .2-1.5 .1-1.5 .1-1.5 .1-1.5 .1-1.5 .1-1.5 .1-1.5 .1-1.5 .1-1.5 .1-1.4 .1-1.5 .1-1.5 0-1.5 .1-1.5 .1-1.5 .1-1.5 .1-1.4 .1-1.5 .1-1.5 .1-1.5 0-1.5 .1-1.5 .1-1.5 .1-1.5 .1-1.5 .1-1.4 .1-1.5 .1-1.5 .1-1.5 .1-1.5 .1-1.5 .1-1.5 .1-1.5 .1-1.5 .1-1.6 .1-1.5 .1-1.6 .1-1.6 .2-1.6 .1-1.6 .1-1.7 .1-1.7 .2-1.7 .1-1.8 .2-1.9 .1-1.8 .2-1.9 .2-1.7 .2-1.6 .2-1.4 .2-1.1 .3-.8 .2-.3 .3 0 .4 .5 .3 .8 .3 1.1 .3 1.3 .2 1.4 .2 1.6 .2 1.7 .1 1.7 .2 1.9 .1 1.8 .1 1.9 .1 1.9 .2 1.8 .1 1.9 .1 1.7 .2 1.8 .1 1.7 .2 1.7 .1 1.6 .2 1.6 .2 1.6 .2 1.5 .1 1.5 .2 1.5 .2 1.5 .2 1.5 .2 1.4 .2 1.5 .2 1.4 .2 1.4 .2 1.4 .2 1.4 .2 1.3 .2 1.4 .2 1.4 .2 1.4 .2 1.3 .2 1.4 .2 1.4 .2 1.4 .1 1.4 .2 1.4 .2 1.4 .2 1.4 .2 1.5 .1 1.4 .2 1.4 .2 1.5 .1 1.4 .2 1.5 .2 1.5 .2 1.4 .1 1.5 .2 1.5 .2 1.5 .1 1.5 .2 1.5 .2 1.5 .1 1.5 .2 1.5 .2 1.5 .1 1.5 .2 1.5 .2 1.6 .2 1.5 .2 1.5 .2 1.5 .1 1.6 .2 1.5 .2 1.5 .2 1.6 .2 1.5 .2 1.5 .2 1.6 .3 1.5 .2 1.6 .2 1.5 .2 1.5 .3 1.6 .2 1.5 .2 1.6 .3 1.5 .2 1.5 .3 1.6 .3 1.5 .2 1.5 .3 1.5 .3 1.6 .3 1.5 .3 1.5 .3 1.5 .3 1.5 .4 1.6 .3 1.5 .4 1.5 .3 1.5 .4 1.5 .3 1.4 .4 1.5 .4 1.5 .4 1.5 .4 1.5 .4 1.4 .5 1.5 .4 1.4 .5 1.5 .4 1.4 .5 1.5 .5 1.4 .5 1.4 .5 1.4 .5 1.4 .5 1.4 .6 1.4 .5 1.4 .6 1.4 .6 1.3 .6 1.4 .6 1.3 .6 1.4 .7 1.3 .6 1.3 .7 1.3 .7 1.3 .7 1.3 .7 1.3 .7 1.3 .8 1.2 .7 1.3 .8 1.2 .8 1.2 .8 1.2 .8 1.2 .8 1.2 .9 1.2 .9 1.1 .9 1.2 .9 1.1 .9 1.1 1 1.1 .9 1.1 1 1.1 1 1.1 1 1 1 1.1 1.1 1 1.1 1 1 1 1.1 1 1.2 1 1.1 1 1.1 .9 1.2 1 1.1 .9 1.2 .9 1.2 .9 1.2 .9 1.2 .9 1.2 .9 1.3 .9 1.2 .8 1.3 .9 1.2 .8 1.3 .9 1.3 .8 1.2 .8 1.3 .9 1.3 .8 1.3 .8 1.3 .8 1.3 .8 1.3 .8 1.4 .7 1.3 .8 1.3 .8 1.3 .7 1.3 .8 1.4 .8 1.3 .7 1.3 .8 1.3 .7 1.4 .8 1.3 .7 1.3 .7 1.4 .8 1.3 .7 1.3 .7 1.3 .7 1.4 .7 1.3 .8 1.3 .7 1.4 .7 1.3 .7 1.3 .7 1.4 .7 1.3 .6 1.3 .7 1.4 .7 1.3 .7 1.4 .7 1.3 .6 1.3 .7 1.4 .6 1.3 .7 1.4 .6 1.3 .7 1.4 .6 1.4 .7 1.3 .6 1.4 .6 1.3 .7 1.4 .6 1.4 .6 1.3 .6 1.4 .6 1.4 .6 1.4 .6 1.3 .6 1.4 .6 1.4 .6 1.4 .5 1.3 .6 1.4 .6 1.4 .6 1.4 .5 1.4 .6 1.4 .5 1.4 .6 1.4 .5 1.4 .6 1.4 .5 1.4 .6 1.4 .5 1.4 .5 1.4 .5 1.4 .6 1.4 .5 1.4 .5 1.4 .5 1.4 .5 1.4 .5 1.4 .5 1.5 .5 1.4 .5 1.4 .4 1.4 .5 1.4 .5 1.5 .5 1.4 .4 1.4 .5 1.4 .5 1.5 .4 1.4 .5 1.4 .4 1.5 .5 1.4 .4 1.4 .4 1.5 .5 1.4 .4 1.4 .4 1.5 .4 1.4 .5 1.5 .4 1.4 .4 1.5 .4 1.4 .4 1.5 .4 1.4 .4 1.5 .4 1.4 .4 1.5 .4 1.4 .4 1.5 .3 1.4 .4 1.5 .4 1.4 .3 1.5 .4 1.5 .4 1.4 .3 1.5 .4 1.4 .3 1.5 .4 1.5 .3 1.4 .4 1.5 .3 1.5 .3 1.4 .4 1.5 .3 1.5 .3 1.5 .3 1.4 .4 1.5 .3 1.5 .3 1.4 .3 1.5 .3 1.5 .3 1.5 .3 1.5 .3 1.4 .3 1.5 .3 1.5 .2 1.5 .3 1.5 .3 1.4 .3 1.5 .2 1.5 .3 1.5 .3 1.5 .2 1.5 .3 1.4 .3 1.5 .2 1.5 .3 1.5 .2 1.5 .3 1.5 .2 1.5 .2 1.5 .3 1.4 .2 1.5 .2 1.5 .3 1.5 .2 1.5 .2 1.5 .2 1.5 .2 1.5 .2 1.5 .2 1.5 .3 1.5 .2 1.5 .2 1.5 .2 1.5 .1 1.5 .2 1.4 .2 1.5 .2 1.5 .2 1.5 .2 1.5 .2 1.5 .1 1.5 .2 1.5 .2 1.5 .1 1.5 .2 1.5 .2 1.5 .1 1.5 .2 1.5 .1 1.5 .2 1.5 .1 1.5 .2 1.5 .1 1.5 .2 1.5 .1 1.5 .1 1.5 .2 1.5 .1 1.5 .1 1.5 .2 1.5 .1 1.5 .1 1.5 .1 1.5 .1 1.5 .1 1.5 .2 1.5 .1 1.5 .1 1.5 .1 1.5 .1 1.5 .1 1.5 .1 1.5 .1 1.5 .1 1.5 .1 1.5 0 1.5 .1 1.5 .1 1.5 .1 1.5 .1 1.5 0 1.5 .1 1.5 .1 1.5 .1 1.5 0 1.4 .1 1.5 .1 1.5 0 1.5 .1 1.5 0 1.5 .1 1.5 0 1.5 .1-1.5 .4-1.4 .3-1.5 .4-1.4 .4-1.5 .3-1.5 .4-1.4 .3-1.5 .4-1.5 .3-1.4 .4-1.5 .3-1.4 .3-1.5 .4-1.5 .3-1.4 .3-1.5 .3-1.5 .3-1.5 .4-1.4 .3-1.5 .3-1.5 .3-1.4 .3-1.5 .3-1.5 .3-1.5 .2-1.4 .3-1.5 .3-1.5 .3-1.5 .3-1.4 .2-1.5 .3-1.5 .3-1.5 .2-1.5 .3-1.4 .3-1.5 .2-1.5 .3-1.5 .2-1.5 .3-1.4 .2-1.5 .3-1.5 .2-1.5 .2-1.5 .3-1.5 .2-1.4 .2-1.5 .3-1.5 .2-1.5 .2-1.5 .2-1.5 .2-1.5 .3-1.4 .2-1.5 .2-1.5 .2-1.5 .2-1.5 .2-1.5 .2-1.5 .2-1.5 .2-1.5 .2-1.4 .2-1.5 .2-1.5 .1-1.5 .2-1.5 .2-1.5 .2-1.5 .2-1.5 .2-1.5 .1-1.5 .2-1.5 .2-1.5 .2-1.4 .1-1.5 .2-1.5 .2-1.5 .1-1.5 .2-1.5 .2-1.5 .1-1.5 .2-1.5 .1-1.5 .2-1.5 .1-1.5 .2-1.5 .1-1.5 .2-1.5 .1-1.5 .2-1.5 .1-1.5 .2-1.5 .1-1.5 .2-1.5 .1-1.5 .2-1.5 .1-1.5 .1-1.5 .2-1.5 .1-1.5 .1-1.4 .2-1.5 .1-1.5 .1-1.5 .2-1.5 .1-1.5 .1-1.5 .2-1.5 .1-1.5 .1-1.5 .2-1.5 .1-1.5 .1-1.5 .1-1.5 .2-1.5 .1-1.5 .1-1.5 .2-1.5 .1-1.5 .1-1.5 .1-1.5 .1-1.5 .2-1.5 .1-1.5 .1-1.5 .1-1.5 .2-1.5 .1-1.5 .1-1.5 .1-1.5 .2-1.5 .1-1.5 .1-1.5 .1-1.5 .2-1.4 .1-1.5 .1-1.5 .1-1.5 .2-1.5 .1-1.5 .1-1.5 .1-1.5 .2-1.5 .1-1.5 .1-1.5 .1-1.5 .2-1.5 .1-1.5 .1-1.5 .1-1.5 .2-1.4 .1-1.5 .1-1.5 .2-1.5 .1-1.5 .1-1.5 .2-1.5 .1-1.5 .1-1.5 .2-1.5 .1-1.4 .1-1.5 .2-1.5 .1-1.5 .2-1.5 .1-1.5 .1-1.5 .2-1.5 .1-1.4 .2-1.5 .1-1.5 .1-1.5 .2-1.5 .1-1.5 .2-1.5 .1-1.5 .1-1.5 .2-1.4 .1-1.5 .2-1.5 .1-1.5 .1-1.5 .2-1.5 .1-1.5 .2-1.5 .1-1.5 .1-1.5 .2-1.5 .1-1.5 .1-1.5 .2-1.4 .1-1.5 .1-1.5 .2-1.5 .1-1.5 .1-1.5 .2-1.5 .1-1.5 .1-1.5 .2-1.5 .1-1.5 .1-1.5 .1-1.5 .2-1.6 .1-1.5 .1-1.5 .1-1.5 .1-1.5 .2-1.5 .1-1.5 .1-1.5 .1-1.5 .1-1.6 .1-1.5 .1-1.5 .1-1.5 .1-1.5 .2-1.5 .1-1.6 .1-1.5 .1-1.5 .1-1.5 .1-1.5 .2-1.5 .1-1.5 .2-1.5 .2-1.5 .2-1.5 .2-1.5 .2-1.5 .2-1.5 .3-1.5 .2-1.5 .3-1.4 .4-1.5 .3-1.4 .4-1.5 .4-1.4 .4-1.4 .5-1.4 .5-1.5 .5-1.3 .5-1.4 .6-1.4 .6-1.4 .7-1.3 .6-1.3 .7-1.4 .8-1.3 .7-1.2 .8-1.3 .8-1.3 .8-1.2 .9-1.2 .9-1.2 .9-1.2 .9-1.1 1-1.1 .9-1.2 1-1 1.1-1.1 1-1 1.1-1 1.1-1 1.1-.9 1.1-1 1.1-.9 1.2-.8 1.2-.9 1.2-.8 1.2-.7 1.2-.8 1.3-.7 1.3-.7 1.3-.7 1.3-.6 1.3-.6 1.3-.6 1.4-.6 1.3-.6 1.4-.5 1.4-.5 1.3-.5 1.5-.5 1.4-.5 1.4-.4 1.4-.5 1.5-.4 1.4-.4 1.5-.4 1.4-.4 1.5-.3 1.5-.4 1.5-.3 1.4-.3 1.5-.4 1.5-.3 1.5-.3 1.5-.3 1.5-.3 1.5-.3 1.5-.2 1.5-.3 1.5-.3 1.5-.3 1.6-.2 1.5-.3 1.5-.3 1.5-.2 1.5-.3 1.5-.2 1.5-.3 1.5-.2 1.5-.3 1.5-.2 1.5-.3 1.5-.2 1.5-.2 1.5-.3 1.5-.2 1.4-.2 1.5-.3 1.5-.2 1.5-.2 1.5-.2 1.5-.2 1.5-.3 1.5-.2 1.5-.2 1.5-.2 1.5-.2 1.5-.2 1.5-.2 1.4-.2 1.5-.2 1.5-.2 1.5-.2 1.5-.2 1.5-.2 1.5-.2 1.5-.2 1.4-.2 1.5-.2 1.5-.2 1.5-.2 1.5-.2 1.5-.2 1.5-.2 1.4-.1 1.5-.2 1.5-.2 1.5-.2 1.5-.2 1.5-.2 1.4-.1 1.5-.2 1.5-.2 1.5-.2 1.5-.1 1.5-.2 1.4-.2 1.5-.2 1.5-.2 1.5-.1 1.5-.2 1.4-.2 1.5-.2 1.5-.1 1.5-.2 1.5-.2 1.5-.2 1.4-.1 1.5-.2 1.5-.2 1.5-.2 1.5-.1 1.4-.2 1.5-.2 1.5-.2 1.5-.1 1.5-.2 1.5-.2 1.4-.2 1.5-.1 1.5-.2 1.5-.2 1.5-.2 1.5-.2 1.4-.2 1.5-.1 1.5-.2 1.5-.2 1.5-.2 1.5-.2 1.5-.2 1.4-.1 1.5-.2 1.5-.2 1.5-.2 1.5-.2 1.5-.2 1.5-.2 1.4-.2 1.5-.2 1.5-.2 1.5-.2 1.5-.2 1.5-.2 1.5-.2 1.5-.2 1.5-.2 1.5-.3 1.4-.2 1.5-.2 1.5-.2 1.5-.2 1.5-.2 1.5-.3 1.5-.2 1.5-.2 1.5-.2 1.5-.3 1.5-.2 1.5-.2 1.5-.3 1.5-.2 1.5-.3 1.5-.2 1.5-.2 1.5-.3 1.5-.2 1.5-.3 1.5-.2 1.5-.3 1.5-.2 1.5-.3 1.5-.2 1.5-.3 1.5-.2 1.4-.3 1.5-.2 1.5-.3 1.5-.2 1.5-.3 1.5-.2 1.5-.2 1.5-.3 1.5-.2 1.5-.3 1.5-.2 1.4-.3 1.5-.2 1.5-.3 1.5-.2 1.5-.3 1.5-.2 1.4-.2 1.5-.3 1.5-.2 1.5-.3 1.4-.2 1.5-.2 1.5-.3 1.4-.2 1.5-.2 1.5-.2 1.4-.3 1.5-.2 1.4-.2 1.5-.2 1.5-.2 1.4-.3 1.5-.2 1.4-.2 1.4-.2 1.5-.2 1.4-.3 1.5-.2 1.4-.3 1.5-.3 1.5-.3 1.4-.3 1.5-.4 1.4-.3 1.5-.4 1.5-.5 1.5-.4 1.5-.5 1.5-.6 1.5-.5 1.5-.6 1.5-.7 1.6-.6 1.5-.7 1.6-.7 1.5-.7 1.6-.7 1.3-.7 1-.7 .3-.5-.4-.5-.9-.5-1.4-.4-1.7-.5-1.7-.4-1.7-.5-1.6-.4-1.6-.5-1.6-.4-1.6-.4-1.6-.5-1.5-.4-1.5-.5-1.5-.4-1.5-.5-1.5-.4-1.4-.4-1.4-.5-1.5-.4-1.4-.4-1.4-.4-1.4-.5-1.4-.4-1.4-.4-1.4-.4-1.4-.3-1.4-.4-1.4-.4-1.4-.4-1.4-.3-1.4-.3-1.4-.4-1.5-.3-1.4-.3-1.4-.3-1.5-.3-1.4-.3-1.5-.3-1.5-.3-1.4-.3-1.5-.3-1.5-.3-1.5-.3-1.5-.2-1.4-.3-1.5-.3-1.5-.2-1.5-.3-1.5-.3-1.5-.2-1.5-.3-1.5-.3-1.5-.3-1.5-.2-1.5-.3-1.6-.3-1.5-.3-1.5-.3-1.5-.3-1.5-.3-1.5-.3-1.4-.3-1.5-.4-1.5-.3-1.5-.3-1.5-.4-1.5-.3-1.5-.4-1.4-.4-1.5-.4-1.4-.4-1.5-.4-1.5-.4-1.4-.5-1.4-.4-1.5-.5-1.4-.5-1.4-.5-1.4-.5-1.4-.5-1.4-.6-1.4-.5-1.3-.6-1.4-.6-1.4-.6-1.3-.7-1.3-.6-1.3-.7-1.4-.7-1.3-.7-1.3-.7-1.2-.7-1.3-.8-1.3-.8-1.3-.7-1.2-.8-1.3-.8-1.2-.9-1.2-.8-1.3-.8-1.2-.9-1.2-.8-1.2-.9-1.3-.9-1.2-.8-1.2-.9-1.2-.9-1.2-.9-1.2-.9-1.2-.9-1.2-.9-1.2-.9-1.2-1-1.2-.9-1.2-.9-1.2-.9-1.2-.9-1.2-.9-1.2-.9-1.2-.9-1.2-1-1.2-.9-1.2-.9-1.3-.9-1.2-.8-1.2-.9-1.2-.9-1.3-.9-1.2-.8-1.3-.9-1.2-.9-1.2-.9-1.2-.9-1.3-.9-1.2-.9-1.1-1-1.2-1-1.1-1-1.1-1-1.1-1.1-1.1-1-1-1.2-1-1.1-1-1.2-.9-1.2-.9-1.2-.9-1.2-.8-1.3-.8-1.2-.8-1.3-.7-1.4-.7-1.3-.7-1.4-.6-1.3-.6-1.4-.5-1.4-.5-1.5-.5-1.4-.5-1.4-.4-1.5-.4-1.4-.4-1.5-.3-1.5-.4-1.5-.3-1.5-.3-1.5-.3-1.4-.3-1.5-.3-1.5-.2-1.5-.3-1.5-.2-1.5-.3-1.5-.2-1.5-.3-1.5-.2-1.4-.3-1.5-.2-1.5-.3-1.4-.2-1.5-.3-1.5-.2-1.4-.3-1.5-.2-1.5-.3-1.5-.3-1.4-.3-1.5-.2-1.5-.3-1.4-.3-1.5-.3-1.5-.3-1.5-.2-1.4-.3-1.5-.3-1.5-.3-1.5-.3-1.5-.3-1.5-.2-1.4-.3-1.5-.3-1.5-.3-1.5-.2-1.5-.3-1.5-.2-1.4-.3-1.5-.2-1.5-.2-1.5-.2-1.5-.2-1.5-.2-1.5-.2-1.5-.2-1.5-.2-1.5-.1-1.5-.2-1.5-.1-1.4-.1-1.5-.1-1.5-.1-1.5-.1-1.5-.1-1.5 0-1.5-.1-1.5 0-1.5-.1-1.5 0-1.5 0-1.5-.1-1.5 0-1.5-.1-1.5 0-1.5-.1-1.5-.1-1.5 0-1.5-.1-1.5-.2-1.5-.1-1.5-.2-1.5-.1-1.5-.2-1.5-.2-1.5-.2-1.5-.2-1.5-.1-1.5 0-1.5 0-1.5 .1-1.5 .2-1.4 .2-1.5 .3-1.5 .3-1.5 .3-1.4 .3-1.5 .4-1.5 .3-1.4 .3-1.5 .3-1.5 .3-1.5 .3-1.4 .1-1.5 .2-1.5 0-1.5 0-1.5-.1-1.5-.2-1.5-.2-1.5-.2-1.5-.3-1.4-.3-1.5-.3-1.5-.2-1.5-.3-1.5-.2-1.5-.3-1.5-.2-1.5-.3-1.5-.2-1.4-.3-1.5-.2-1.5-.2-1.5-.2-1.5-.2-1.5-.2-1.5-.2-1.5-.2-1.4-.2-1.5-.2-1.5-.2-1.5-.2-1.5-.2-1.5-.2-1.5-.1-1.5-.2-1.4-.2-1.5-.1-1.5-.2-1.5-.2-1.5-.1-1.5-.2-1.5-.1-1.5-.1-1.5-.2-1.5-.1-1.5-.1-1.5-.2-1.5-.1-1.5-.1-1.5-.1-1.4-.1-1.5-.2-1.5-.1-1.5-.1-1.5-.1-1.5 0-1.5-.1-1.5-.1-1.5-.1-1.5-.1-1.5 0-1.5-.1-1.5-.1-1.5 0-1.5-.1-1.5 0-1.5-.1-1.5 0-1.5-.1-1.5 0-1.5 0-1.5 0-1.6-.1-1.5 0-1.5 0-1.5 0-1.5 0-1.5 0-1.5 0-1.5 0-1.5 0-1.5 .1-1.5 0-1.5 0-1.5 0-1.5 .1-1.5 0-1.6 0-1.5 .1-1.5 0-1.5 0-1.5 0-1.5 0-1.5 0-1.5 0-1.5 0-1.5 0-1.5-.1-1.5 0-1.5-.1-1.5-.1-1.5-.1-1.5-.1-1.4-.1-1.5-.2-1.5-.1-1.5-.2-1.5-.2-1.5-.3-1.4-.2-1.5-.4-1.2-.9 1.3-.7 1.4-.5 1.5-.5 1.4-.3 1.5-.4 1.5-.3 1.4-.2 1.5-.3 1.5-.1 1.5-.2 1.5-.1 1.5-.2 1.5-.1 1.5-.1 1.5-.1 1.5 0 1.5-.1 1.6-.1 1.5-.1 1.5-.1 1.5-.1 1.5 0 1.5-.1 1.5-.1 1.5-.1 1.5 0 1.5-.1 1.5-.1 1.6 0 1.5-.1 1.5-.1 1.5 0 1.5-.1 1.5-.1 1.5 0 1.5-.1 1.5 0 1.5-.1 1.5 0 1.5-.1 1.5 0 1.5-.1 1.6 0 1.5-.1 1.5 0 1.5-.1 1.5 0 1.5-.1 1.5 0 1.5-.1 1.5 0 1.5-.1 1.5 0 1.5 0 1.5-.1 1.5 0 1.5-.1 1.5 0 1.6 0 1.5-.1 1.5 0 1.5-.1 1.5 0 1.5 0 1.5-.1 1.5 0 1.5 0 1.5-.1 1.5 0 1.5 0 1.5-.1 1.5 0 1.5 0 1.5-.1 1.6 0 1.5 0 1.5-.1 1.5 0 1.5 0 1.5-.1 1.5 0 1.5 0 1.5 0 1.5-.1 1.5 0 1.5 0 1.5-.1 1.5 0 1.6 0 1.5 0 1.5-.1 1.5 0 1.5 0 1.5 0 1.5 0 1.5-.1 1.5 0 1.5 0 1.5 0 1.5 0 1.6-.1 1.5 0 1.5 0 1.5 0 1.5 0 1.5 0 1.5 0 1.5-.1 1.5 0 1.5 0 1.6 0 1.5 0 1.5 0 1.5 0 1.5 0 1.5 0 1.5 0 1.5 0 1.5 0 1.5 0 1.6-.1 1.5 0 1.5 0 1.5 0 1.5 0 1.5 0 1.5 0 1.5 0 1.5 0 1.5-.1 1.6 0 1.5-.1 1.5-.1 1.5-.1 1.5-.1 1.4-.2 1.5-.2 1.5-.2 1.5-.3 1.5-.3 1.5-.3 1.4-.5 1.4-.5 1.3-.8 1.3-.8 1.2-.5 1.3 .3 1.4 .6 1.4 .7 1.4 .4 1.6 .2 1.5 .2 1.5 0 1.5 .1 1.5 0 1.5 0 1.5 0 1.5 0 1.5-.1 1.5 0 1.5 0 1.5 0 1.6-.1 1.5 0 1.5 0 1.5 0 1.5-.1 1.5 0 1.5 0 1.5 0 1.5 0 1.5 0 1.5 0 1.5-.1 1.5 0 1.5 0 1.6 0 1.5 0 1.5 0 1.5 0 1.5 0 1.5 0 1.5 0 1.5 0 1.5 0 1.5 0 1.5 0 1.5 0 1.6 0 1.5 0 1.5 0 1.5 0 1.5 0 1.5 0 1.5 0 1.5 0 1.5 0 1.5 0 1.5 0 1.6 0 1.5 0 1.5 0 1.5 0 1.5 0 1.5 0 1.5 0 1.5 0 1.5 0 1.5 0 1.5 .1 1.5 0 1.6 0 1.5 0 1.5 0 1.5 0 1.5 0 1.5 0 1.5 0 1.5 0 1.5 0 1.5 .1 1.5 0 1.6 0 1.5 0 1.5 0 1.5 0 1.5 0 1.5 0 1.5 0 1.5 0 1.5 0 1.5 0 1.5 .1 1.5 0 1.6 0 1.5 0 1.5 0 1.5 0 1.5 0 1.5 0 1.5 0 1.5 0 1.5 0 1.5 0 1.5 0 1.5 0 1.5 0 1.6 0 1.5 0 1.5 0 1.5 0 1.5 0 1.5 0 1.5 0 1.5 0 1.5 0 1.5 0 1.5 0 1.5 0 1.5 0 1.5 0 1.5 0 1.6-.1 1.5 0 1.5 0 1.5 0 1.5 0 1.5 0 1.5 0 1.5-.1 1.5 0 1.5 0 1.5 0" fill="none" stroke="#e82a2a" stroke-width="2.9" stroke-linejoin="round" stroke-linecap="round"/>
<path d="M770 532.5l.9-1.1 .7-1.2 .8-1.2 .8-1.3 .7-1.2 .8-1.2 .7-1.3 .7-1.2 .7-1.3 .7-1.3 .6-1.3 .7-1.3 .6-1.3 .7-1.3 .6-1.3 .6-1.3 .6-1.4 .5-1.3 .6-1.3 .6-1.4 .5-1.4 .5-1.3 .6-1.4 .5-1.4 .5-1.4 .5-1.4 .4-1.4 .5-1.4 .5-1.4 .4-1.4 .5-1.4 .4-1.5 .4-1.4 .4-1.4 .5-1.5 .4-1.4 .3-1.5 .4-1.4 .4-1.5 .4-1.4 .3-1.5 .4-1.5 .3-1.5 .4-1.4 .3-1.5 .4-1.5 .3-1.5 .3-1.5 .3-1.5 .3-1.5 .3-1.5 .3-1.5 .3-1.5 .3-1.5 .3-1.5 .3-1.5 .2-1.5 .3-1.5 .3-1.5 .2-1.5 .3-1.5 .3-1.5 .2-1.5 .3-1.6 .2-1.5 .3-1.5 .2-1.5 .3-1.5 .2-1.5 .2-1.5 .3-1.5 .2-1.5 .3-1.5 .2-1.6 .2-1.5 .3-1.5 .2-1.5 .3-1.5 .2-1.5 .2-1.4 .3-1.5 .2-1.5 .3-1.5 .2-1.5 .3-1.5 .2-1.4 .3-1.5 .2-1.5 .3-1.5 .2-1.4 .3-1.5 .3-1.4 .2-1.5 .3-1.4 .3-1.5 .3-1.4 .2-1.5 .3-1.4 .3-1.4 .3-1.5 .3-1.4 .3-1.5 .2-1.4 .3-1.4 .3-1.5 .3-1.4 .3-1.5 .3-1.4 .3-1.4 .3-1.5 .3-1.4 .3-1.5 .3-1.4 .4-1.5 .3-1.4 .3-1.5 .3-1.5 .3-1.4 .3-1.5 .3-1.5 .4-1.5 .3-1.4 .3-1.5 .3-1.5 .3-1.5 .4-1.5 .3-1.6 .3-1.5 .3-1.5 .4-1.6 .3-1.5 .3-1.5 .3-1.6 .4-1.6 .3-1.6 .3-1.5 .3-1.6 .4-1.6 .3-1.6 .3-1.7 .4-1.6 .3-1.6 .4-1.6 .5-1.5 .5-1.5 .6-1.3 .7-1.3 .8-1.1 .8-.8 .9-.5 1 0 .8 .4 .9 .8 .7 1.1 .7 1.3 .6 1.4 .5 1.6 .4 1.7 .4 1.7 .3 1.8 .4 1.8 .3 1.7 .3 1.8 .3 1.7 .4 1.6 .3 1.6 .3 1.6 .4 1.6 .3 1.6 .4 1.5 .3 1.5 .4 1.5 .3 1.4 .4 1.5 .3 1.4 .4 1.4 .3 1.4 .4 1.4 .3 1.4 .4 1.4 .4 1.3 .3 1.4 .4 1.3 .4 1.4 .4 1.4 .3 1.3 .4 1.4 .4 1.3 .4 1.4 .4 1.4 .4 1.4 .4 1.4 .4 1.4 .4 1.4 .4 1.5 .4 1.4 .4 1.5 .4 1.5 .4 1.5 .4 1.5 .4 1.5 .4 1.5 .4 1.5 .4 1.5 .4 1.5 .4 1.5 .4 1.5 .4 1.5 .4 1.5 .4 1.5 .4 1.5 .4 1.5 .4 1.4 .4 1.5 .5 1.5 .4 1.4 .4 1.4 .4 1.5 .5 1.4 .4 1.4 .5 1.4 .4 1.4 .5 1.4 .5 1.4 .6 1.4 .5 1.3 .6 1.4 .6 1.4 .6 1.3 .6 1.4 .7 1.3 .6 1.3 .7 1.3 .8 1.3 .7 1.3 .8 1.3 .8 1.3 .8 1.3 .8 1.2 .9 1.3 .8 1.2 .9 1.2 .9 1.3 .9 1.2 1 1.2 .9 1.1 1 1.2 1 1.2 1 1.1 1 1.1 1 1.1 1.1 1.1 1 1.1 1.1 1.1 1.1 1.1 1.1 1 1.1 1 1.1 1 1.1 1 1.2 1 1.1 1 1.2 .9 1.2 .9 1.1 1 1.2 .9 1.2 .9 1.2 .8 1.3 .9 1.2 .8 1.2 .9 1.3 .8 1.2 .8 1.3 .8 1.3 .8 1.3 .7 1.3 .8 1.3 .7 1.3 .8 1.3 .7 1.3 .7 1.3 .7 1.4 .7 1.3 .6 1.4 .7 1.3 .6 1.4 .7 1.3 .6 1.4 .6 1.4 .6 1.4 .6 1.4 .5 1.4 .6 1.4 .5 1.4 .6 1.4 .5 1.4 .5 1.4 .5 1.5 .5 1.4 .5 1.4 .5 1.4 .5 1.5 .4 1.4 .5 1.5 .4 1.4 .4 1.5 .5 1.4 .4 1.5 .4 1.4 .4 1.5 .3 1.5 .4 1.4 .4 1.5 .3 1.5 .4 1.4 .3 1.5 .4 1.5 .3 1.4 .3 1.5 .3 1.5 .3 1.4 .3 1.5 .3 1.5 .3 1.5 .3 1.4 .2 1.5 .3 1.5 .2 1.5 .3 1.5 .2 1.4 .2 1.5 .3 1.5 .2 1.5 .2 1.5 .2 1.5 .2 1.4 .2 1.5 .2 1.5 .1 1.5 .2 1.5 .2 1.5 .1 1.5 .2 1.5 .2 1.5 .1 1.5 .1 1.4 .2 1.5 .1 1.5 .1 1.5 .2 1.5 .1 1.5 .1 1.5 .1 1.5 .1 1.5 .1 1.5 .1 1.5 .1 1.5 .1 1.5 0 1.5 .1 1.5 .1 1.5 .1 1.5 0 1.5 .1 1.5 .1 1.5 0 1.5 .1 1.5 0 1.5 .1 1.6 0 1.5 .1 1.5 0 1.5 0 1.5 .1 1.5 0 1.5 0 1.5 .1 1.5 0 1.5 0 1.5 0 1.5 0 1.5 .1 1.5 0 1.6 0 1.5 0 1.5 0 1.5 0 1.5 .1 1.5 0 1.5 0 1.5 0 1.5 0 1.5 0 1.6 0 1.5 0 1.5 0 1.5 0 1.5 0 1.5 0 1.5 0 1.5 0 1.5 .1 1.5 0 1.6 0 1.5 0 1.5 0 1.5 0 1.5 0 1.5 0 1.5 0 1.5 0 1.5 .1 1.5 0 1.6 0 1.5 0 1.5 0 1.5 .1 1.5 0 1.5 0 1.5 .1 1.5 0 1.5 0 1.5 .1 1.5 0 1.5 0 1.5 .1 1.5 0 1.5 .1 1.6 0 1.5 .1 1.5 .1 1.5 0 1.5 .1 1.5 .1 1.5 0 1.5 .1 1.5 .1 1.5 .1 1.5 .1 1.5 .1 1.5 .1 1.5 .1 1.5 .1 1.5 .1 1.5 .1 1.5 .1 1.4 .1 1.5 .2 1.5 .1 1.5 .2 1.5 .1 1.5 .1 1.5 .2-1.5 .1-1.5 0-1.5 .1-1.5 .1-1.5 0-1.5 .1-1.5 .1-1.6 0-1.5 .1-1.5 .1-1.5 0-1.5 .1-1.5 .1-1.5 0-1.5 .1-1.5 .1-1.5 0-1.5 .1-1.5 0-1.5 .1-1.5 .1-1.5 0-1.5 .1-1.5 0-1.5 .1-1.5 .1-1.5 0-1.5 .1-1.5 0-1.5 .1-1.5 0-1.6 .1-1.5 .1-1.5 0-1.5 .1-1.5 0-1.5 .1-1.5 0-1.5 .1-1.5 0-1.5 .1-1.5 0-1.5 .1-1.5 0-1.5 .1-1.5 0-1.5 .1-1.5 0-1.5 .1-1.5 0-1.5 .1-1.5 0-1.5 .1-1.5 0-1.5 .1-1.5 0-1.5 .1-1.5 0-1.5 .1-1.5 0-1.5 .1-1.5 0-1.5 .1-1.5 0-1.5 .1-1.5 0-1.5 .1-1.5 0-1.5 0-1.5 .1-1.5 0-1.5 .1-1.5 0-1.5 .1-1.5 0-1.5 0-1.5 .1-1.5 0-1.5 .1-1.5 0-1.5 .1-1.5 0-1.5 .1-1.5 0-1.5 0-1.5 .1-1.5 0-1.5 .1-1.5 0-1.5 0-1.5 .1-1.5 0-1.5 .1-1.5 0-1.5 .1-1.5 0-1.5 0-1.5 .1-1.5 0-1.5 .1-1.5 0-1.5 0-1.5 .1-1.5 0-1.5 .1-1.5 0-1.5 0-1.5 .1-1.5 0-1.5 .1-1.5 0-1.5 .1-1.5 0-1.5 0-1.5 .1-1.5 0-1.5 .1-1.5 0-1.5 0-1.5 .1-1.5 0-1.5 .1-1.5 0-1.5 .1-1.5 0-1.5 0-1.5 .1-1.5 0-1.5 .1-1.5 0-1.5 0-1.5 .1-1.5 0-1.5 .1-1.5 0-1.5 .1-1.5 0-1.5 .1-1.5 0-1.5 0-1.5 .1-1.5 0-1.5 .1-1.5 0-1.5 .1-1.5 0-1.5 .1-1.5 0-1.5 0-1.5 .1-1.5 0-1.5 .1-1.5 0-1.5 .1-1.5 0-1.5 .1-1.5 0-1.6 .1-1.5 0-1.5 .1-1.5 0-1.5 .1-1.5 0-1.5 .1-1.5 0-1.5 .1-1.5 0-1.5 .1-1.5 0-1.5 .1-1.5 0-1.5 .1-1.5 0-1.5 .1-1.5 0-1.6 .1-1.5 0-1.5 .1-1.5 0-1.5 .1-1.5 0-1.5 .1-1.5 .1-1.5 0-1.5 .1-1.5 0-1.5 .1-1.6 0-1.5 .1-1.5 .1-1.5 0-1.5 .1-1.5 0-1.5 .1-1.5 .1-1.5 0-1.6 .1-1.5 0-1.5 .1-1.5 .1-1.5 0-1.5 .1-1.5 .1-1.5 0-1.6 .1-1.5 .1-1.5 0-1.5 .1-1.5 .1-1.5 0-1.5 .1-1.6 .1-1.5 0-1.5 .1-1.5 .1-1.5 .1-1.5 .1-1.5 .1-1.5 .2-1.4 .2-1.5 .2-1.4 .3-1.4 .3-1.4 .4-1.4 .4-1.3 .5-1.3 .6-1.3 .6-1.2 .7-1.3 .8-1.1 .9-1.2 1-1 1-1.1 1.2-1 1.2-.9 1.2-.9 1.3-.9 1.4-.8 1.3-.8 1.4-.7 1.4-.7 1.5-.6 1.4-.5 1.4-.6 1.4-.5 1.4-.4 1.5-.5 1.4-.5 1.4-.4 1.4-.4 1.4-.5 1.4-.4 1.5-.4 1.4-.5 1.4-.5 1.4-.5 1.4-.5 1.4-.5 1.4-.5 1.4-.6 1.4-.5 1.4-.5 1.4-.5 1.4-.5 1.4-.6 1.4-.5 1.4-.5 1.4-.5 1.4-.5 1.5-.4 1.4-.5 1.4-.4 1.4-.5 1.5-.4 1.4-.4 1.5-.4 1.4-.4 1.5-.4 1.4-.3 1.5-.4 1.5-.3 1.4-.4 1.5-.3 1.5-.3 1.4-.3 1.5-.3 1.5-.3 1.5-.3 1.5-.3 1.5-.3 1.4-.2 1.5-.3 1.5-.3 1.5-.2 1.5-.3 1.5-.2 1.5-.2 1.5-.3 1.5-.2 1.4-.2 1.5-.3 1.5-.2 1.5-.2 1.5-.3 1.5-.2 1.5-.2 1.5-.3 1.4-.2 1.5-.2 1.5-.3 1.5-.2 1.5-.2 1.4-.3 1.5-.2 1.5-.3 1.4-.2 1.5-.3 1.4-.2 1.5-.3 1.4-.3 1.5-.3 1.4-.2 1.4-.3 1.5-.3 1.4-.3 1.4-.4 1.4-.3 1.5-.3 1.4-.4 1.4-.3 1.4-.4 1.4-.4 1.4-.4 1.4-.4 1.4-.5 1.4-.4 1.5-.5 1.4-.5 1.4-.6 1.5-.6 1.5-.6 1.5-.6 1.5-.7 1.5-.7 1.5-.7 1.6-.8 1.6-.8 1.6-.8 1.4-.9 1.4-.8 1.1-.9 .8-.8 .4-.7 0-.8-.3-.7-.7-.7-1-.7-1.3-.6-1.5-.6-1.7-.6-1.8-.6-1.9-.5-2-.6-1.9-.5-2-.5-1.9-.4-1.8-.5-1.7-.4-1.6-.5-1.6-.4-1.5-.4-1.4-.5-1.4-.4-1.4-.5-1.3-.4-1.3-.5-1.3-.5-1.2-.5-1.3-.5-1.2-.5-1.3-.6-1.3-.6-1.2-.6-1.4-.7-1.3-.7-1.4-.8-1.4-.7-1.4-.8-1.4-.8-1.4-.9-1.4-.8-1.3-.9-1.4-.8-1.3-.9-1.2-.9-1.2-.8-1.2-.9-1.2-.9-1.2-.9-1.1-.9-1.1-.9-1.1-1-1-.9-1.1-.9-1.1-.9-1-1-1.1-.9-1-1-1.1-.9-1.1-1-1-1-1.1-1-1.1-.9-1.1-1-1.1-1-1.1-1-1.1-1-1.1-1-1.1-1-1.1-1.1-1.1-1-1.1-1-1.2-1-1.1-1.1-1.1-1-1.1-1.1-1.1-1-1.1-1.1-1.1-1.1-1.2-1.1-1.1-1-1.1-1.1-1.1-1.1-1.1-1.1-1.1-1.1-1.1-1.1-1.1-1.2-1-1.1-1.1-1.1-1.1-1.1-1.1-1.2-1-1.1-1.1-1.2-1-1.1-1-1.2-1.1-1.2-1-1.2-1-1.1-1-1.2-1-1.2-1-1.2-.9-1.2-1-1.3-.9-1.2-1-1.2-.9-1.2-.9-1.3-.9-1.2-.8-1.3-.9-1.2-.9-1.3-.8-1.3-.8-1.3-.8-1.3-.8-1.2-.8-1.3-.7-1.4-.7-1.3-.8-1.3-.6-1.3-.7-1.3-.7-1.4-.6-1.3-.6-1.4-.6-1.3-.6-1.4-.6-1.4-.5-1.4-.5-1.3-.5-1.4-.4-1.4-.5-1.4-.4-1.5-.4-1.4-.4-1.4-.3-1.4-.3-1.5-.3-1.4-.3-1.5-.2-1.4-.3-1.5-.2-1.5-.2-1.4-.2-1.5-.1-1.5-.2-1.5-.1-1.5-.2-1.4-.1-1.5-.1-1.5-.1-1.5-.1-1.5 0-1.5-.1-1.6 0-1.5-.1-1.5 0-1.5-.1-1.5 0-1.5-.1-1.5 0-1.5 0-1.5-.1-1.6 0-1.5 0-1.5-.1-1.5 0-1.5 0-1.5-.1-1.5 0-1.5-.1-1.5-.1-1.5 0-1.5-.1-1.5-.1-1.5-.1-1.5-.1-1.5 0-1.5-.1-1.5-.1-1.5-.1-1.5-.1-1.5-.1-1.5-.1-1.5-.1-1.5-.1-1.5-.1-1.5-.1-1.5-.1-1.5-.1-1.5-.1-1.5-.1-1.4-.1-1.5-.1-1.5-.1-1.5-.1-1.5-.1-1.5-.1-1.5-.1-1.5-.1-1.5-.1-1.5-.1-1.5 0-1.5-.1-1.5-.1-1.5-.1-1.5 0-1.5-.1-1.5 0-1.5-.1-1.5-.1-1.5 0-1.5-.1-1.6 0-1.5 0-1.5-.1-1.5 0-1.5 0-1.5-.1-1.5 0-1.5 0-1.5 0-1.5 0-1.5 0-1.5 0-1.5 0-1.5 0-1.5 0-1.5 0-1.5 0-1.5 .1-1.5 0-1.6 0-1.5 .1-1.5 0-1.5 .1-1.5 0-1.5 .1-1.5 .1-1.5 0-1.5 .1-1.5 .1-1.5 .1-1.5 .1-1.5 .1-1.5 .1-1.5 .1-1.5 .1-1.5 0-1.5 .1-1.5 .1-1.5 0-1.5 .1-1.5 0-1.5 0-1.5 0-1.5 0-1.5-.1-1.5 0-1.5-.1-1.5-.2-1.5-.1-1.5-.2-1.4-.1-1.5-.2-1.5-.1-1.5-.2-1.5-.2-1.5-.1-1.5-.2-1.5-.2-1.5-.1-1.5-.2-1.5-.1-1.5-.2-1.5-.2-1.5-.1-1.5-.2-1.5-.1-1.5-.1-1.5-.2-1.5-.1-1.4-.2-1.5-.1-1.5-.1-1.5-.2-1.5-.1-1.5-.1-1.5-.1-1.5-.2-1.5-.1-1.5-.1-1.5-.1-1.5-.1-1.5-.1-1.5-.1-1.5-.1-1.5-.1-1.5-.1-1.5-.1-1.5 0-1.6-.1-1.5-.1-1.5 0-1.5-.1-1.5-.1-1.5 0-1.5-.1-1.5 0-1.5 0-1.5-.1-1.5 0-1.5 0-1.5-.1-1.5 0-1.5 0-1.5 0-1.5 0-1.5 0-1.5 0-1.5 0-1.5 0-1.5 0-1.5 0-1.5 0-1.5 0-1.5 0-1.5 0-1.5 0-1.5 0-1.5 0-1.5 0-1.5 0-1.5 0-1.5 0-1.5 .1-1.5 0-1.5 0-1.5 0-1.5 0-1.5 0-1.5 0-1.5 0-1.5 0-1.5 0-1.6 0-1.5 0-1.5 0-1.5 0-1.5 0-1.5 0-1.5-.1-1.5 0-1.5 0-1.5 0-1.6-.1-1.5 0-1.5 0-1.5-.1-1.5-.1-1.5-.1-1.4-.1-1.5-.2-1.4-.3-1.4-.4-1-.9-.4-2.1 .3-1.7 .7-1.3 1.1-.9 1.3-.7 1.5-.3 1.5-.1 1.6 .2 1.5 .2 1.5 .1 1.5 .1 1.5-.1 1.5-.2 1.5-.2 1.4-.3 1.5-.3 1.5-.3 1.5-.2 1.5-.3 1.5-.2 1.5-.2 1.5-.2 1.5-.1 1.5-.1 1.5-.2 1.5-.1 1.5 0 1.5-.1 1.6-.1 1.5 0 1.5-.1 1.5 0 1.5 0 1.5-.1 1.5 0 1.5 0 1.5 0 1.5 0 1.5-.1 1.5 0 1.6 0 1.5-.1 1.5 0 1.5-.1 1.5-.1 1.5 0 1.5-.1 1.5-.1 1.5 0 1.5-.1 1.5-.1 1.5-.1 1.5-.1 1.5-.1 1.5 0 1.5-.1 1.5-.1 1.5-.1 1.6-.1 1.5-.1 1.5 0 1.5-.1 1.5-.1 1.5-.1 1.5 0 1.5-.1 1.5-.1 1.5 0 1.5-.1 1.5 0 1.5-.1 1.5 0 1.5-.1 1.6 0 1.5-.1 1.5 0 1.5-.1 1.5 0 1.5 0 1.5-.1 1.5 0 1.5-.1 1.5 0 1.5 0 1.5-.1 1.5 0 1.6 0 1.5-.1 1.5 0 1.5-.1 1.5 0 1.5-.1 1.5 0 1.5-.1 1.5 0 1.5-.1 1.5 0 1.5-.1 1.5 0 1.5-.1 1.5 0 1.5-.1 1.5-.1 1.5 0 1.5-.1 1.5-.1 1.5 0 1.6-.1 1.5-.1 1.5 0 1.5-.1 1.5-.1 1.5 0 1.5-.1 1.5 0 1.5-.1 1.5 0 1.5 0 1.5-.1 1.5 0 1.5 0 1.5 0 1.6 0 1.5 0 1.5 0 1.5 0 1.5 0 1.5 0 1.6 .1 1.5 0 1.5 0 1.5 0 1.5 0 1.5-.1 1.5 0 1.6-.1 1.5-.1 1.4-.2 1.5-.2 1.5-.2 1.5-.3 1.4-.4 1.5-.4 1.5-.5 1.4-.5 1.4-.6 1.3-.5 1.4-.4 1.4-.1 1.4 .4 1.4 .4 1.5 .3 1.5 .3 1.5 .2 1.5 .2 1.5 0 1.5 .1 1.5 0 1.5 0 1.5 0 1.5-.1 1.5 0 1.5 0 1.5-.1 1.5 0 1.5 0 1.6-.1 1.5 0 1.5 0 1.5 0 1.5-.1 1.5 0 1.5 0 1.5 0 1.5-.1 1.5 0 1.5 0 1.5 0 1.5 0 1.6 0 1.5-.1 1.5 0 1.5 0 1.5 0 1.5 0 1.5 0 1.5 0 1.5-.1 1.5 0 1.5 0 1.5 0 1.5 0 1.6 0 1.5 0 1.5 0 1.5 0 1.5 0 1.5 0 1.5 0 1.5 0 1.5 0 1.5 0 1.5 0 1.5-.1 1.5 0 1.6 0 1.5 0 1.5 0 1.5 0 1.5 0 1.5 0 1.5 0 1.5 0 1.5 0 1.5 0 1.5 0 1.5 0 1.5 .1 1.6 0 1.5 0 1.5 0 1.5 0 1.5 0 1.5 0 1.5 0 1.5 0 1.5 0 1.5 0 1.5 0 1.5 0 1.5 0 1.6 0 1.5 0 1.5 0 1.5 0 1.5 0 1.5 0 1.5 0 1.5 0 1.5 0 1.5 0 1.5 0 1.5 0 1.5 0 1.6 0 1.5 0 1.5 .1 1.5 0 1.5 0 1.5 0 1.5 0 1.5 0 1.5 0 1.5 0 1.5 0 1.5 0 1.5 0 1.6 0 1.5 0 1.5 0 1.5 0 1.5 0 1.5 0 1.5 0 1.5 0 1.5 0 1.5 0 1.5-.1 1.5 0 1.5 0 1.5 0 1.6 0 1.5 0 1.5 0 1.5 0 1.5 0 1.5 0 1.5 0 1.5 0 1.5 0 1.5-.1 1.5 0 1.5 0 1.5 0 1.5 0 1.6 0 1.5 0 1.5-.1 1.5 0 1.5 0 1.5 0 1.5 0 1.5 0 1.5-.1 1.5 0 1.5 0 1.5 0 1.5-.1 1.5 0 1.6 0 1.5 0 1.5-.1 1.5 0 1.5 0 1.5-.1 1.5 0 1.5 0 1.5-.1 1.5 0 1.5 0 1.5-.1 1.5 0 1.5 0 1.6-.1 1.5 0 1.5-.1 1.5 0 1.5-.1 1.5 0 1.5 0 1.5-.1" fill="none" stroke="#3430ec" stroke-width="4.9" stroke-opacity="0.28" stroke-linejoin="round" stroke-linecap="round"/>
<path d="M770 532.5l.9-1.1 .7-1.2 .8-1.2 .8-1.3 .7-1.2 .8-1.2 .7-1.3 .7-1.2 .7-1.3 .7-1.3 .6-1.3 .7-1.3 .6-1.3 .7-1.3 .6-1.3 .6-1.3 .6-1.4 .5-1.3 .6-1.3 .6-1.4 .5-1.4 .5-1.3 .6-1.4 .5-1.4 .5-1.4 .5-1.4 .4-1.4 .5-1.4 .5-1.4 .4-1.4 .5-1.4 .4-1.5 .4-1.4 .4-1.4 .5-1.5 .4-1.4 .3-1.5 .4-1.4 .4-1.5 .4-1.4 .3-1.5 .4-1.5 .3-1.5 .4-1.4 .3-1.5 .4-1.5 .3-1.5 .3-1.5 .3-1.5 .3-1.5 .3-1.5 .3-1.5 .3-1.5 .3-1.5 .3-1.5 .3-1.5 .2-1.5 .3-1.5 .3-1.5 .2-1.5 .3-1.5 .3-1.5 .2-1.5 .3-1.6 .2-1.5 .3-1.5 .2-1.5 .3-1.5 .2-1.5 .2-1.5 .3-1.5 .2-1.5 .3-1.5 .2-1.6 .2-1.5 .3-1.5 .2-1.5 .3-1.5 .2-1.5 .2-1.4 .3-1.5 .2-1.5 .3-1.5 .2-1.5 .3-1.5 .2-1.4 .3-1.5 .2-1.5 .3-1.5 .2-1.4 .3-1.5 .3-1.4 .2-1.5 .3-1.4 .3-1.5 .3-1.4 .2-1.5 .3-1.4 .3-1.4 .3-1.5 .3-1.4 .3-1.5 .2-1.4 .3-1.4 .3-1.5 .3-1.4 .3-1.5 .3-1.4 .3-1.4 .3-1.5 .3-1.4 .3-1.5 .3-1.4 .4-1.5 .3-1.4 .3-1.5 .3-1.5 .3-1.4 .3-1.5 .3-1.5 .4-1.5 .3-1.4 .3-1.5 .3-1.5 .3-1.5 .4-1.5 .3-1.6 .3-1.5 .3-1.5 .4-1.6 .3-1.5 .3-1.5 .3-1.6 .4-1.6 .3-1.6 .3-1.5 .3-1.6 .4-1.6 .3-1.6 .3-1.7 .4-1.6 .3-1.6 .4-1.6 .5-1.5 .5-1.5 .6-1.3 .7-1.3 .8-1.1 .8-.8 .9-.5 1 0 .8 .4 .9 .8 .7 1.1 .7 1.3 .6 1.4 .5 1.6 .4 1.7 .4 1.7 .3 1.8 .4 1.8 .3 1.7 .3 1.8 .3 1.7 .4 1.6 .3 1.6 .3 1.6 .4 1.6 .3 1.6 .4 1.5 .3 1.5 .4 1.5 .3 1.4 .4 1.5 .3 1.4 .4 1.4 .3 1.4 .4 1.4 .3 1.4 .4 1.4 .4 1.3 .3 1.4 .4 1.3 .4 1.4 .4 1.4 .3 1.3 .4 1.4 .4 1.3 .4 1.4 .4 1.4 .4 1.4 .4 1.4 .4 1.4 .4 1.4 .4 1.5 .4 1.4 .4 1.5 .4 1.5 .4 1.5 .4 1.5 .4 1.5 .4 1.5 .4 1.5 .4 1.5 .4 1.5 .4 1.5 .4 1.5 .4 1.5 .4 1.5 .4 1.5 .4 1.5 .4 1.5 .4 1.4 .4 1.5 .5 1.5 .4 1.4 .4 1.4 .4 1.5 .5 1.4 .4 1.4 .5 1.4 .4 1.4 .5 1.4 .5 1.4 .6 1.4 .5 1.3 .6 1.4 .6 1.4 .6 1.3 .6 1.4 .7 1.3 .6 1.3 .7 1.3 .8 1.3 .7 1.3 .8 1.3 .8 1.3 .8 1.3 .8 1.2 .9 1.3 .8 1.2 .9 1.2 .9 1.3 .9 1.2 1 1.2 .9 1.1 1 1.2 1 1.2 1 1.1 1 1.1 1 1.1 1.1 1.1 1 1.1 1.1 1.1 1.1 1.1 1.1 1 1.1 1 1.1 1 1.1 1 1.2 1 1.1 1 1.2 .9 1.2 .9 1.1 1 1.2 .9 1.2 .9 1.2 .8 1.3 .9 1.2 .8 1.2 .9 1.3 .8 1.2 .8 1.3 .8 1.3 .8 1.3 .7 1.3 .8 1.3 .7 1.3 .8 1.3 .7 1.3 .7 1.3 .7 1.4 .7 1.3 .6 1.4 .7 1.3 .6 1.4 .7 1.3 .6 1.4 .6 1.4 .6 1.4 .6 1.4 .5 1.4 .6 1.4 .5 1.4 .6 1.4 .5 1.4 .5 1.4 .5 1.5 .5 1.4 .5 1.4 .5 1.4 .5 1.5 .4 1.4 .5 1.5 .4 1.4 .4 1.5 .5 1.4 .4 1.5 .4 1.4 .4 1.5 .3 1.5 .4 1.4 .4 1.5 .3 1.5 .4 1.4 .3 1.5 .4 1.5 .3 1.4 .3 1.5 .3 1.5 .3 1.4 .3 1.5 .3 1.5 .3 1.5 .3 1.4 .2 1.5 .3 1.5 .2 1.5 .3 1.5 .2 1.4 .2 1.5 .3 1.5 .2 1.5 .2 1.5 .2 1.5 .2 1.4 .2 1.5 .2 1.5 .1 1.5 .2 1.5 .2 1.5 .1 1.5 .2 1.5 .2 1.5 .1 1.5 .1 1.4 .2 1.5 .1 1.5 .1 1.5 .2 1.5 .1 1.5 .1 1.5 .1 1.5 .1 1.5 .1 1.5 .1 1.5 .1 1.5 .1 1.5 0 1.5 .1 1.5 .1 1.5 .1 1.5 0 1.5 .1 1.5 .1 1.5 0 1.5 .1 1.5 0 1.5 .1 1.6 0 1.5 .1 1.5 0 1.5 0 1.5 .1 1.5 0 1.5 0 1.5 .1 1.5 0 1.5 0 1.5 0 1.5 0 1.5 .1 1.5 0 1.6 0 1.5 0 1.5 0 1.5 0 1.5 .1 1.5 0 1.5 0 1.5 0 1.5 0 1.5 0 1.6 0 1.5 0 1.5 0 1.5 0 1.5 0 1.5 0 1.5 0 1.5 0 1.5 .1 1.5 0 1.6 0 1.5 0 1.5 0 1.5 0 1.5 0 1.5 0 1.5 0 1.5 0 1.5 .1 1.5 0 1.6 0 1.5 0 1.5 0 1.5 .1 1.5 0 1.5 0 1.5 .1 1.5 0 1.5 0 1.5 .1 1.5 0 1.5 0 1.5 .1 1.5 0 1.5 .1 1.6 0 1.5 .1 1.5 .1 1.5 0 1.5 .1 1.5 .1 1.5 0 1.5 .1 1.5 .1 1.5 .1 1.5 .1 1.5 .1 1.5 .1 1.5 .1 1.5 .1 1.5 .1 1.5 .1 1.5 .1 1.4 .1 1.5 .2 1.5 .1 1.5 .2 1.5 .1 1.5 .1 1.5 .2-1.5 .1-1.5 0-1.5 .1-1.5 .1-1.5 0-1.5 .1-1.5 .1-1.6 0-1.5 .1-1.5 .1-1.5 0-1.5 .1-1.5 .1-1.5 0-1.5 .1-1.5 .1-1.5 0-1.5 .1-1.5 0-1.5 .1-1.5 .1-1.5 0-1.5 .1-1.5 0-1.5 .1-1.5 .1-1.5 0-1.5 .1-1.5 0-1.5 .1-1.5 0-1.6 .1-1.5 .1-1.5 0-1.5 .1-1.5 0-1.5 .1-1.5 0-1.5 .1-1.5 0-1.5 .1-1.5 0-1.5 .1-1.5 0-1.5 .1-1.5 0-1.5 .1-1.5 0-1.5 .1-1.5 0-1.5 .1-1.5 0-1.5 .1-1.5 0-1.5 .1-1.5 0-1.5 .1-1.5 0-1.5 .1-1.5 0-1.5 .1-1.5 0-1.5 .1-1.5 0-1.5 .1-1.5 0-1.5 .1-1.5 0-1.5 0-1.5 .1-1.5 0-1.5 .1-1.5 0-1.5 .1-1.5 0-1.5 0-1.5 .1-1.5 0-1.5 .1-1.5 0-1.5 .1-1.5 0-1.5 .1-1.5 0-1.5 0-1.5 .1-1.5 0-1.5 .1-1.5 0-1.5 0-1.5 .1-1.5 0-1.5 .1-1.5 0-1.5 .1-1.5 0-1.5 0-1.5 .1-1.5 0-1.5 .1-1.5 0-1.5 0-1.5 .1-1.5 0-1.5 .1-1.5 0-1.5 0-1.5 .1-1.5 0-1.5 .1-1.5 0-1.5 .1-1.5 0-1.5 0-1.5 .1-1.5 0-1.5 .1-1.5 0-1.5 0-1.5 .1-1.5 0-1.5 .1-1.5 0-1.5 .1-1.5 0-1.5 0-1.5 .1-1.5 0-1.5 .1-1.5 0-1.5 0-1.5 .1-1.5 0-1.5 .1-1.5 0-1.5 .1-1.5 0-1.5 .1-1.5 0-1.5 0-1.5 .1-1.5 0-1.5 .1-1.5 0-1.5 .1-1.5 0-1.5 .1-1.5 0-1.5 0-1.5 .1-1.5 0-1.5 .1-1.5 0-1.5 .1-1.5 0-1.5 .1-1.5 0-1.6 .1-1.5 0-1.5 .1-1.5 0-1.5 .1-1.5 0-1.5 .1-1.5 0-1.5 .1-1.5 0-1.5 .1-1.5 0-1.5 .1-1.5 0-1.5 .1-1.5 0-1.5 .1-1.5 0-1.6 .1-1.5 0-1.5 .1-1.5 0-1.5 .1-1.5 0-1.5 .1-1.5 .1-1.5 0-1.5 .1-1.5 0-1.5 .1-1.6 0-1.5 .1-1.5 .1-1.5 0-1.5 .1-1.5 0-1.5 .1-1.5 .1-1.5 0-1.6 .1-1.5 0-1.5 .1-1.5 .1-1.5 0-1.5 .1-1.5 .1-1.5 0-1.6 .1-1.5 .1-1.5 0-1.5 .1-1.5 .1-1.5 0-1.5 .1-1.6 .1-1.5 0-1.5 .1-1.5 .1-1.5 .1-1.5 .1-1.5 .1-1.5 .2-1.4 .2-1.5 .2-1.4 .3-1.4 .3-1.4 .4-1.4 .4-1.3 .5-1.3 .6-1.3 .6-1.2 .7-1.3 .8-1.1 .9-1.2 1-1 1-1.1 1.2-1 1.2-.9 1.2-.9 1.3-.9 1.4-.8 1.3-.8 1.4-.7 1.4-.7 1.5-.6 1.4-.5 1.4-.6 1.4-.5 1.4-.4 1.5-.5 1.4-.5 1.4-.4 1.4-.4 1.4-.5 1.4-.4 1.5-.4 1.4-.5 1.4-.5 1.4-.5 1.4-.5 1.4-.5 1.4-.5 1.4-.6 1.4-.5 1.4-.5 1.4-.5 1.4-.5 1.4-.6 1.4-.5 1.4-.5 1.4-.5 1.4-.5 1.5-.4 1.4-.5 1.4-.4 1.4-.5 1.5-.4 1.4-.4 1.5-.4 1.4-.4 1.5-.4 1.4-.3 1.5-.4 1.5-.3 1.4-.4 1.5-.3 1.5-.3 1.4-.3 1.5-.3 1.5-.3 1.5-.3 1.5-.3 1.5-.3 1.4-.2 1.5-.3 1.5-.3 1.5-.2 1.5-.3 1.5-.2 1.5-.2 1.5-.3 1.5-.2 1.4-.2 1.5-.3 1.5-.2 1.5-.2 1.5-.3 1.5-.2 1.5-.2 1.5-.3 1.4-.2 1.5-.2 1.5-.3 1.5-.2 1.5-.2 1.4-.3 1.5-.2 1.5-.3 1.4-.2 1.5-.3 1.4-.2 1.5-.3 1.4-.3 1.5-.3 1.4-.2 1.4-.3 1.5-.3 1.4-.3 1.4-.4 1.4-.3 1.5-.3 1.4-.4 1.4-.3 1.4-.4 1.4-.4 1.4-.4 1.4-.4 1.4-.5 1.4-.4 1.5-.5 1.4-.5 1.4-.6 1.5-.6 1.5-.6 1.5-.6 1.5-.7 1.5-.7 1.5-.7 1.6-.8 1.6-.8 1.6-.8 1.4-.9 1.4-.8 1.1-.9 .8-.8 .4-.7 0-.8-.3-.7-.7-.7-1-.7-1.3-.6-1.5-.6-1.7-.6-1.8-.6-1.9-.5-2-.6-1.9-.5-2-.5-1.9-.4-1.8-.5-1.7-.4-1.6-.5-1.6-.4-1.5-.4-1.4-.5-1.4-.4-1.4-.5-1.3-.4-1.3-.5-1.3-.5-1.2-.5-1.3-.5-1.2-.5-1.3-.6-1.3-.6-1.2-.6-1.4-.7-1.3-.7-1.4-.8-1.4-.7-1.4-.8-1.4-.8-1.4-.9-1.4-.8-1.3-.9-1.4-.8-1.3-.9-1.2-.9-1.2-.8-1.2-.9-1.2-.9-1.2-.9-1.1-.9-1.1-.9-1.1-1-1-.9-1.1-.9-1.1-.9-1-1-1.1-.9-1-1-1.1-.9-1.1-1-1-1-1.1-1-1.1-.9-1.1-1-1.1-1-1.1-1-1.1-1-1.1-1-1.1-1-1.1-1.1-1.1-1-1.1-1-1.2-1-1.1-1.1-1.1-1-1.1-1.1-1.1-1-1.1-1.1-1.1-1.1-1.2-1.1-1.1-1-1.1-1.1-1.1-1.1-1.1-1.1-1.1-1.1-1.1-1.1-1.1-1.2-1-1.1-1.1-1.1-1.1-1.1-1.1-1.2-1-1.1-1.1-1.2-1-1.1-1-1.2-1.1-1.2-1-1.2-1-1.1-1-1.2-1-1.2-1-1.2-.9-1.2-1-1.3-.9-1.2-1-1.2-.9-1.2-.9-1.3-.9-1.2-.8-1.3-.9-1.2-.9-1.3-.8-1.3-.8-1.3-.8-1.3-.8-1.2-.8-1.3-.7-1.4-.7-1.3-.8-1.3-.6-1.3-.7-1.3-.7-1.4-.6-1.3-.6-1.4-.6-1.3-.6-1.4-.6-1.4-.5-1.4-.5-1.3-.5-1.4-.4-1.4-.5-1.4-.4-1.5-.4-1.4-.4-1.4-.3-1.4-.3-1.5-.3-1.4-.3-1.5-.2-1.4-.3-1.5-.2-1.5-.2-1.4-.2-1.5-.1-1.5-.2-1.5-.1-1.5-.2-1.4-.1-1.5-.1-1.5-.1-1.5-.1-1.5 0-1.5-.1-1.6 0-1.5-.1-1.5 0-1.5-.1-1.5 0-1.5-.1-1.5 0-1.5 0-1.5-.1-1.6 0-1.5 0-1.5-.1-1.5 0-1.5 0-1.5-.1-1.5 0-1.5-.1-1.5-.1-1.5 0-1.5-.1-1.5-.1-1.5-.1-1.5-.1-1.5 0-1.5-.1-1.5-.1-1.5-.1-1.5-.1-1.5-.1-1.5-.1-1.5-.1-1.5-.1-1.5-.1-1.5-.1-1.5-.1-1.5-.1-1.5-.1-1.5-.1-1.4-.1-1.5-.1-1.5-.1-1.5-.1-1.5-.1-1.5-.1-1.5-.1-1.5-.1-1.5-.1-1.5-.1-1.5 0-1.5-.1-1.5-.1-1.5-.1-1.5 0-1.5-.1-1.5 0-1.5-.1-1.5-.1-1.5 0-1.5-.1-1.6 0-1.5 0-1.5-.1-1.5 0-1.5 0-1.5-.1-1.5 0-1.5 0-1.5 0-1.5 0-1.5 0-1.5 0-1.5 0-1.5 0-1.5 0-1.5 0-1.5 0-1.5 .1-1.5 0-1.6 0-1.5 .1-1.5 0-1.5 .1-1.5 0-1.5 .1-1.5 .1-1.5 0-1.5 .1-1.5 .1-1.5 .1-1.5 .1-1.5 .1-1.5 .1-1.5 .1-1.5 .1-1.5 0-1.5 .1-1.5 .1-1.5 0-1.5 .1-1.5 0-1.5 0-1.5 0-1.5 0-1.5-.1-1.5 0-1.5-.1-1.5-.2-1.5-.1-1.5-.2-1.4-.1-1.5-.2-1.5-.1-1.5-.2-1.5-.2-1.5-.1-1.5-.2-1.5-.2-1.5-.1-1.5-.2-1.5-.1-1.5-.2-1.5-.2-1.5-.1-1.5-.2-1.5-.1-1.5-.1-1.5-.2-1.5-.1-1.4-.2-1.5-.1-1.5-.1-1.5-.2-1.5-.1-1.5-.1-1.5-.1-1.5-.2-1.5-.1-1.5-.1-1.5-.1-1.5-.1-1.5-.1-1.5-.1-1.5-.1-1.5-.1-1.5-.1-1.5-.1-1.5 0-1.6-.1-1.5-.1-1.5 0-1.5-.1-1.5-.1-1.5 0-1.5-.1-1.5 0-1.5 0-1.5-.1-1.5 0-1.5 0-1.5-.1-1.5 0-1.5 0-1.5 0-1.5 0-1.5 0-1.5 0-1.5 0-1.5 0-1.5 0-1.5 0-1.5 0-1.5 0-1.5 0-1.5 0-1.5 0-1.5 0-1.5 0-1.5 0-1.5 0-1.5 0-1.5 0-1.5 .1-1.5 0-1.5 0-1.5 0-1.5 0-1.5 0-1.5 0-1.5 0-1.5 0-1.5 0-1.6 0-1.5 0-1.5 0-1.5 0-1.5 0-1.5 0-1.5-.1-1.5 0-1.5 0-1.5 0-1.6-.1-1.5 0-1.5 0-1.5-.1-1.5-.1-1.5-.1-1.4-.1-1.5-.2-1.4-.3-1.4-.4-1-.9-.4-2.1 .3-1.7 .7-1.3 1.1-.9 1.3-.7 1.5-.3 1.5-.1 1.6 .2 1.5 .2 1.5 .1 1.5 .1 1.5-.1 1.5-.2 1.5-.2 1.4-.3 1.5-.3 1.5-.3 1.5-.2 1.5-.3 1.5-.2 1.5-.2 1.5-.2 1.5-.1 1.5-.1 1.5-.2 1.5-.1 1.5 0 1.5-.1 1.6-.1 1.5 0 1.5-.1 1.5 0 1.5 0 1.5-.1 1.5 0 1.5 0 1.5 0 1.5 0 1.5-.1 1.5 0 1.6 0 1.5-.1 1.5 0 1.5-.1 1.5-.1 1.5 0 1.5-.1 1.5-.1 1.5 0 1.5-.1 1.5-.1 1.5-.1 1.5-.1 1.5-.1 1.5 0 1.5-.1 1.5-.1 1.5-.1 1.6-.1 1.5-.1 1.5 0 1.5-.1 1.5-.1 1.5-.1 1.5 0 1.5-.1 1.5-.1 1.5 0 1.5-.1 1.5 0 1.5-.1 1.5 0 1.5-.1 1.6 0 1.5-.1 1.5 0 1.5-.1 1.5 0 1.5 0 1.5-.1 1.5 0 1.5-.1 1.5 0 1.5 0 1.5-.1 1.5 0 1.6 0 1.5-.1 1.5 0 1.5-.1 1.5 0 1.5-.1 1.5 0 1.5-.1 1.5 0 1.5-.1 1.5 0 1.5-.1 1.5 0 1.5-.1 1.5 0 1.5-.1 1.5-.1 1.5 0 1.5-.1 1.5-.1 1.5 0 1.6-.1 1.5-.1 1.5 0 1.5-.1 1.5-.1 1.5 0 1.5-.1 1.5 0 1.5-.1 1.5 0 1.5 0 1.5-.1 1.5 0 1.5 0 1.5 0 1.6 0 1.5 0 1.5 0 1.5 0 1.5 0 1.5 0 1.6 .1 1.5 0 1.5 0 1.5 0 1.5 0 1.5-.1 1.5 0 1.6-.1 1.5-.1 1.4-.2 1.5-.2 1.5-.2 1.5-.3 1.4-.4 1.5-.4 1.5-.5 1.4-.5 1.4-.6 1.3-.5 1.4-.4 1.4-.1 1.4 .4 1.4 .4 1.5 .3 1.5 .3 1.5 .2 1.5 .2 1.5 0 1.5 .1 1.5 0 1.5 0 1.5 0 1.5-.1 1.5 0 1.5 0 1.5-.1 1.5 0 1.5 0 1.6-.1 1.5 0 1.5 0 1.5 0 1.5-.1 1.5 0 1.5 0 1.5 0 1.5-.1 1.5 0 1.5 0 1.5 0 1.5 0 1.6 0 1.5-.1 1.5 0 1.5 0 1.5 0 1.5 0 1.5 0 1.5 0 1.5-.1 1.5 0 1.5 0 1.5 0 1.5 0 1.6 0 1.5 0 1.5 0 1.5 0 1.5 0 1.5 0 1.5 0 1.5 0 1.5 0 1.5 0 1.5 0 1.5-.1 1.5 0 1.6 0 1.5 0 1.5 0 1.5 0 1.5 0 1.5 0 1.5 0 1.5 0 1.5 0 1.5 0 1.5 0 1.5 0 1.5 .1 1.6 0 1.5 0 1.5 0 1.5 0 1.5 0 1.5 0 1.5 0 1.5 0 1.5 0 1.5 0 1.5 0 1.5 0 1.5 0 1.6 0 1.5 0 1.5 0 1.5 0 1.5 0 1.5 0 1.5 0 1.5 0 1.5 0 1.5 0 1.5 0 1.5 0 1.5 0 1.6 0 1.5 0 1.5 .1 1.5 0 1.5 0 1.5 0 1.5 0 1.5 0 1.5 0 1.5 0 1.5 0 1.5 0 1.5 0 1.6 0 1.5 0 1.5 0 1.5 0 1.5 0 1.5 0 1.5 0 1.5 0 1.5 0 1.5 0 1.5-.1 1.5 0 1.5 0 1.5 0 1.6 0 1.5 0 1.5 0 1.5 0 1.5 0 1.5 0 1.5 0 1.5 0 1.5 0 1.5-.1 1.5 0 1.5 0 1.5 0 1.5 0 1.6 0 1.5 0 1.5-.1 1.5 0 1.5 0 1.5 0 1.5 0 1.5 0 1.5-.1 1.5 0 1.5 0 1.5 0 1.5-.1 1.5 0 1.6 0 1.5 0 1.5-.1 1.5 0 1.5 0 1.5-.1 1.5 0 1.5 0 1.5-.1 1.5 0 1.5 0 1.5-.1 1.5 0 1.5 0 1.6-.1 1.5 0 1.5-.1 1.5 0 1.5-.1 1.5 0 1.5 0 1.5-.1" fill="none" stroke="#3430ec" stroke-width="2.9" stroke-linejoin="round" stroke-linecap="round"/>
<path d="M750 527l.9-.9 .9-1 .8-1 .7-1.1 .7-1 .6-1.1 .6-1.1 .5-1.1 .6-1.2 .5-1.3 .5-1.3 .5-1.4 .6-1.4 .5-1.5 .5-1.6 .6-1.7 .6-1.6 .6-1.7 .7-1.7 .7-1.6 .7-1.7 .8-1.5 .8-1.5 .9-1.3 .9-1.2 1-1.1 1-.9 1-.8 1.2-.5 1.2-.3 1.2-.1 1.2 .2 1.2 .4 1.2 .6 1.2 .9 1.2 1.1 1.2 1 1.2 1.1 1.2 1 1.3 .9 1.2 .9 1.3 .8 1.3 .9 1.4 .7 1.3 .8 1.3 .7 1.4 .7 1.3 .7 1.4 .6 1.3 .6 1.4 .6 1.4 .6 1.4 .5 1.4 .5 1.4 .5 1.4 .5 1.4 .5 1.4 .4 1.4 .4 1.4 .4 1.5 .4 1.4 .3 1.5 .4 1.4 .3 1.5 .3 1.4 .3 1.5 .2 1.5 .3 1.4 .2 1.5 .3 1.5 .2 1.5 .2 1.4 .1 1.5 .2 1.5 .2 1.5 .1 1.5 .2 1.5 .1 1.5 .1 1.5 .1 1.5 .1 1.6 .1 1.5 .1 1.5 .1 1.5 .1 1.5 0 1.5 .1 1.6 0 1.5 .1 1.5 .1 1.5 0 1.5 0 1.6 .1 1.5 0 1.5 .1 1.5 0 1.5 .1 1.6 0 1.5 .1 1.5 0 1.5 .1 1.5 0 1.6 .1 1.5 0 1.5 .1 1.5 0 1.5 .1 1.6 0 1.5 .1 1.5 0 1.5 .1 1.5 0 1.5 .1 1.5 0 1.6 .1 1.5 0 1.5 .1 1.5 0 1.5 .1 1.5 0 1.5 .1 1.6 .1 1.5 0 1.5 .1 1.5 0 1.5 .1 1.5 0 1.5 .1 1.5 .1 1.5 0 1.5 .1 1.6 0 1.5 .1 1.5 .1 1.5 0 1.5 .1 1.5 0 1.5 .1 1.5 .1 1.5 0 1.5 .1 1.5 .1 1.5 0 1.5 .1 1.5 0 1.6 .1 1.5 .1 1.5 0 1.5 .1 1.5 .1 1.5 0 1.5 .1 1.5 .1 1.5 0 1.5 .1 1.5 0 1.5 .1 1.5 .1 1.5 0 1.5 .1 1.5 .1 1.5 0 1.5 .1 1.5 .1 1.5 0 1.5 .1 1.5 0 1.5 .1 1.5 .1 1.5 0 1.5 .1 1.5 .1 1.5 0 1.5 .1 1.5 .1 1.5 0 1.5 .1 1.5 0 1.5 .1 1.5 .1 1.5 0 1.5 .1 1.5 0 1.5 .1 1.5 .1 1.5 0 1.5 .1 1.5 .1 1.5 0 1.5 .1 1.5 0 1.5 .1 1.5 .1 1.5 0 1.5 .1 1.5 0 1.5 .1 1.5 0 1.5 .1 1.5 .1 1.5 0 1.5 .1 1.5 0 1.5 .1 1.5 0 1.5 .1 1.5 .1 1.5 0 1.5 .1 1.5 0 1.5 .1 1.5 0 1.5 .1 1.5 0 1.5 .1 1.5 0 1.5 .1 1.5 0 1.5 .1 1.5 0 1.5 .1 1.5 0 1.5 .1 1.5 0 1.5 0 1.5 .1 1.5 0 1.5 .1 1.5 0 1.5 .1 1.5 0 1.5 .1 1.5 0 1.5 0 1.6 .1 1.5 0 1.5 0 1.5 .1 1.5 0 1.5 .1 1.5 0 1.5 0 1.5 .1 1.5 0 1.5 0 1.5 .1 1.5 0 1.5 0 1.5 0 1.5 .1 1.5 0 1.5 0 1.5 .1 1.5 0 1.5 0 1.5 0 1.5 0 1.5 .1 1.5 0 1.5 0 1.6 0 1.5 0 1.5 .1 1.5 0 1.5 0 1.5 0 1.5 0 1.5 0 1.5 0 1.5 .1 1.5 0 1.5 0 1.6 0 1.5 0 1.5 0 1.5 0 1.5 0 1.5 0 1.5 0 1.5 0 1.5 0 1.6 0 1.5 0 1.5 0 1.5 0 1.5 0 1.5 0 1.5 0 1.6-.1 1.5 0 1.5 0 1.5 0 1.5 0 1.5 0 1.5 0 1.6-.1 1.5 0 1.5 0-1.5 0-1.5 0-1.5 0-1.5 0-1.5 0-1.5 0-1.5 0-1.5 .1-1.5 0-1.5 0-1.5 0-1.5 0-1.5 0-1.5 0-1.5 0-1.5 0-1.5 .1-1.5 0-1.5 0-1.5 0-1.5 0-1.5 0-1.5 0-1.5 .1-1.5 0-1.5 0-1.5 0-1.5 0-1.5 .1-1.5 0-1.5 0-1.5 0-1.5 0-1.5 0-1.5 .1-1.5 0-1.6 0-1.5 0-1.5 .1-1.5 0-1.5 0-1.5 0-1.5 0-1.5 .1-1.5 0-1.5 0-1.5 0-1.5 .1-1.5 0-1.5 0-1.5 0-1.5 .1-1.5 0-1.5 0-1.5 .1-1.5 0-1.5 0-1.5 0-1.5 .1-1.5 0-1.5 0-1.5 0-1.5 .1-1.6 0-1.5 0-1.5 .1-1.5 0-1.5 0-1.5 .1-1.5 0-1.5 0-1.5 0-1.5 .1-1.5 0-1.5 0-1.5 .1-1.5 0-1.5 0-1.5 .1-1.5 0-1.5 0-1.5 .1-1.5 0-1.5 0-1.5 0-1.5 .1-1.6 0-1.5 0-1.5 .1-1.5 0-1.5 0-1.5 .1-1.5 0-1.5 0-1.5 .1-1.5 0-1.5 0-1.5 .1-1.5 0-1.5 0-1.5 .1-1.5 0-1.5 0-1.5 .1-1.5 0-1.5 0-1.5 .1-1.5 0-1.6 0-1.5 .1-1.5 0-1.5 0-1.5 .1-1.5 0-1.5 0-1.5 0-1.5 .1-1.5 0-1.5 0-1.5 .1-1.5 0-1.5 0-1.5 .1-1.5 0-1.5 0-1.5 .1-1.5 0-1.5 0-1.5 .1-1.5 0-1.5 0-1.5 0-1.5 .1-1.5 0-1.6 0-1.5 .1-1.5 0-1.5 0-1.5 0-1.5 .1-1.5 0-1.5 0-1.5 .1-1.5 0-1.5 0-1.5 0-1.5 .1-1.5 0-1.5 0-1.5 0-1.5 .1-1.5 0-1.5 0-1.5 0-1.5 .1-1.5 0-1.5 0-1.5 0-1.5 .1-1.5 0-1.5 0-1.5 0-1.5 .1-1.5 0-1.5 0-1.5 0-1.5 0-1.5 .1-1.5 0-1.5 0-1.5 0-1.5 0-1.5 .1-1.5 0-1.5 0-1.5 0-1.5 0-1.5 0-1.5 .1-1.5 0-1.5 0-1.5 0-1.5 0-1.5 0-1.5 0-1.5 .1-1.5 0-1.5 0-1.5 0-1.5 0-1.5 0-1.5 0-1.5 0-1.5 0-1.5 .1-1.5 0-1.5 0-1.5 0-1.5 0-1.5 0-1.5 0-1.5 0-1.5 0-1.5 0-1.5 0-1.5 0-1.5 0-1.5 0-1.5 0-1.5 0-1.5 0-1.5 0-1.5 0-1.5 0-1.5 0-1.5 0-1.5 0-1.5 0-1.5 0-1.5 0-1.5 0-1.5 .1-1.5 0-1.5 0-1.5 0-1.5 0-1.5 0-1.5 0-1.5 0-1.6 0-1.5 0-1.5 0-1.5 0-1.5 0-1.5 0-1.5 0-1.6 0-1.5 0-1.5 0-1.5 0-1.6 0-1.5 0-1.5 0-1.5 0-1.6 0-1.5 0-1.5 0-1.6 0-1.5 0-1.5 .1-1.5 .1-1.5 .1-1.5 .1-1.5 .2-1.4 .2-1.4 .3-1.4 .3-1.4 .5-1.4 .4-1.3 .6-1.3 .7-1.2 .7-1.2 .8-1.2 .9-1.1 1-1.1 1.1-1.1 1.2-1.1 1.2-1 1.2-1 1.3-1 1.4-.9 1.3-1 1.4-.9 1.4-1 1.5-.9 1.4-.9 1.4-.9 1.4-1 1.4-.9 1.4-.9 1.4-.9 1.3-1 1.2-.9 1.2-1 1.2-1 1.1-1 1-1 .9-1.1 .9-1.1 .7-1.1 .7-1.1 .5-1.2 .4-1.2 .4-1.2 .2-1.3 .2-1.3 .1-1.3 0-1.3-.1-1.3-.1-1.4-.2-1.4-.3-1.4-.3-1.4-.4-1.4-.4-1.5-.5-1.4-.5-1.5-.5-1.5-.5-1.5-.6-1.4-.6-1.5-.6-1.5-.6-1.5-.6-1.5-.6-1.5-.6-1.5-.6-1.5-.5-1.5-.6-1.5-.5-1.5-.6-1.4-.5-1.5-.5-1.5-.4-1.5-.5-1.4-.4-1.5-.5-1.5-.4-1.4-.4-1.5-.4-1.4-.3-1.5-.4-1.5-.3-1.4-.4-1.5-.3-1.4-.3-1.5-.3-1.4-.3-1.5-.3-1.5-.3-1.4-.2-1.5-.3-1.4-.2-1.5-.2-1.5-.2-1.4-.3-1.5-.2-1.5-.2-1.4-.1-1.5-.2-1.5-.2-1.4-.1-1.5-.2-1.5-.1-1.5-.2-1.5-.1-1.4-.1-1.5-.2-1.5-.1-1.5-.1-1.5-.1-1.5-.1-1.4 0-1.5-.1-1.5-.1-1.5-.1-1.5 0-1.5-.1-1.5-.1-1.5 0-1.5 0-1.5-.1-1.5 0-1.5-.1-1.5 0-1.5 0-1.5 0-1.5-.1-1.5 0-1.5 0-1.5 0-1.5 0-1.5 0-1.5 0-1.5 0-1.5 0-1.5 0-1.5 0-1.5 0-1.5 0-1.5 0-1.6 0-1.5 .1-1.5 0-1.5 0-1.5 0-1.5 0-1.5 0-1.5 0-1.5 0-1.5 .1-1.5 0-1.5 0-1.5 0-1.5 0-1.5 0-1.5 0-1.5 0-1.5 0-1.5 0-1.5 0-1.5 0-1.5 0-1.5 0-1.5 0-1.5 0-1.5 0-1.5 0-1.5 0-1.5-.1-1.5 0-1.5 0-1.5 0-1.5-.1-1.5 0-1.5 0-1.5 0-1.5-.1-1.5 0-1.5-.1-1.5 0-1.5-.1-1.5 0-1.5-.1-1.5 0-1.5-.1-1.6 0-1.5-.1-1.5-.1-1.5 0-1.5-.1-1.5-.1-1.5 0-1.5-.1-1.5-.1-1.5-.1-1.5-.1-1.5-.1-1.6-.1-1.5-.1-1.5-.1-1.5 0-1.5-.1-1.5-.1-1.5-.1-1.5 0-1.5-.1-1.6 0-1.5 0-1.5 0-1.5 0-1.5 0-1.5 0-1.5 .1-1.5 0-1.5 .1-1.5 .1-1.5 .2-1.4 .1-1.5 .2-1.5 .2-1.5 .2-1.5 .3-1.4 .2-1.5 .3-1.5 .4-1.5 .3-1.4 .3-1.5 .4-1.4 .4-1.5 .3-1.5 .4-1.4 .3-1.5 .4-1.5 .3-1.4 .3-1.5 .2-1.5 .2-1.5 .1-1.5 .1-1.5 0-1.5-.1-1.5-.2-1.5-.1-1.5-.2-1.5-.2-1.5-.2-1.5-.2-1.5-.2-1.5-.2-1.5-.2-1.5-.2-1.4-.2-1.5-.2-1.5-.2-1.5-.2-1.5-.2-1.5-.2-1.4-.2-1.5-.2-1.5-.2-1.5-.1-1.5-.2-1.5-.1-1.5-.2-1.5-.1-1.5-.1-1.4-.1-1.5-.1-1.5-.1-1.6-.1-1.5-.1-1.5-.1-1.5-.1-1.5 0-1.5-.1-1.5-.1-1.5 0-1.5-.1-1.5 0-1.5-.1-1.5 0-1.6 0-1.5-.1-1.5 0-1.5 0-1.5 0-1.5-.1-1.5 0-1.6 0-1.5 0-1.5 0-1.5 0-1.5 0-1.5 0-1.5 0-1.5 0-1.5 0-1.5 0-1.5 0-1.5-.1-1.6 0-1.5 0-1.5 0-1.4 0-1.5 0-1.5 0-1.5 0-1.5 0-1.5 0-1.5 0-1.5-.1-1.5 0-1.4 0-1.5 0-1.5-.1-1.5 0-1.4 0-1.5-.1-1.5 0-1.4-.1-1.5 0-1.5 0-1.5-.1-1.5 0-1.4 0-1.5 0-1.5 0-1.5 0-1.6 0-1.5 0-1.5 .1-1.6 0-1.5 .1-1.6 .1-1.6 .1-1.6 .1-1.6 .1-1.6 .1-1.6 .1-1.5 0-1.5-.2-1.4-.3-1.2-.6-1.2-.7-1.1-1-.8-1.4 .8-1.4 1-1 1.2-.8 1.4-.5 1.4-.4 1.5-.2 1.6-.2 1.6-.1 1.5-.1 1.6-.1 1.5-.1 1.5-.1 1.5-.2 1.5-.1 1.5-.1 1.5-.1 1.5-.2 1.5-.1 1.5-.1 1.5-.1 1.5-.1 1.5-.1 1.5-.1 1.5-.1 1.5-.1 1.5-.1 1.5-.1 1.5-.1 1.5-.1 1.5 0 1.5-.1 1.5-.1 1.5-.1 1.5 0 1.5-.1 1.5-.1 1.5 0 1.5-.1 1.5 0 1.5-.1 1.5 0 1.5-.1 1.6 0 1.5-.1 1.5 0 1.5-.1 1.5 0 1.5-.1 1.5 0 1.5-.1 1.5 0 1.5-.1 1.6 0 1.5 0 1.5-.1 1.5 0 1.5-.1 1.5 0 1.5 0 1.5-.1 1.5 0 1.5 0 1.5-.1 1.6 0 1.5-.1 1.5 0 1.5-.1 1.5 0 1.5 0 1.5-.1 1.5 0 1.5-.1 1.5 0 1.5 0 1.5-.1 1.5 0 1.5-.1 1.5 0 1.5 0 1.6-.1 1.5 0 1.5-.1 1.5 0 1.5 0 1.5-.1 1.5 0 1.5-.1 1.5 0 1.5 0 1.5-.1 1.5 0 1.5 0 1.5-.1 1.5 0 1.5 0 1.5-.1 1.5 0 1.5 0 1.5-.1 1.5 0 1.6 0 1.5 0 1.5-.1 1.5 0 1.5 0 1.5 0 1.5-.1 1.5 0 1.5 0 1.5 0 1.5 0 1.5-.1 1.5 0 1.5 0 1.6 0 1.5 0 1.5 0 1.5 0 1.5 0 1.5 0 1.5 0 1.5-.1 1.6 0 1.5 0 1.5 0 1.5 0 1.5 0 1.5 0 1.5 0 1.5 0 1.6-.1 1.5 0 1.5-.1 1.5-.1 1.5-.1 1.5-.2 1.4-.2 1.5-.2 1.5-.3 1.5-.3 1.4-.3 1.5-.4 1.4-.5 1.5-.5 1.3-.7 1.4-.5 1.3-.2 1.4 .3 1.4 .5 1.5 .4 1.5 .3 1.5 .2 1.5 .1 1.5 .1 1.5 .1 1.5 0 1.5 0 1.5-.1 1.5 0 1.5 0 1.6-.1 1.5 0 1.5 0 1.5 0 1.5-.1 1.5 0 1.5 0 1.5 0 1.5-.1 1.5 0 1.5 0 1.5 0 1.5 0 1.5-.1 1.6 0 1.5 0 1.5 0 1.5 0 1.5 0 1.5-.1 1.5 0 1.5 0 1.5 0 1.5 0 1.5 0 1.5 0 1.5 0 1.5-.1 1.6 0 1.5 0 1.5 0 1.5 0 1.5 0 1.5 0 1.5 0 1.5 0 1.5 0 1.5 0 1.5 0 1.5 0 1.5 0 1.6 0 1.5-.1 1.5 0 1.5 0 1.5 0 1.5 0 1.5 0 1.5 0 1.5 0 1.5 0 1.5 0 1.5 0 1.5 0 1.5 0 1.6 0 1.5 0 1.5 0 1.5 0 1.5 0 1.5 0 1.5 0 1.5 0 1.5 0 1.5 0 1.5 0 1.5 0 1.5 0 1.5 0 1.6 0 1.5 0 1.5 .1 1.5 0 1.5 0 1.5 0 1.5 0 1.5 0 1.5 0 1.5 0 1.5 0 1.5 0 1.5 0 1.6 0 1.5 0 1.5 0 1.5 0 1.5 0 1.5 0 1.5 0 1.5 0 1.5 0 1.5 0 1.5 0 1.5 0 1.5 0 1.5 0 1.6 0 1.5 0 1.5 0 1.5 0 1.5-.1 1.5 0 1.5 0 1.5 0 1.5 0 1.5 0 1.5 0 1.5 0 1.5 0 1.6 0 1.5 0 1.5 0 1.5 0 1.5 0 1.5 0 1.5-.1 1.5 0 1.5 0 1.5 0 1.5 0 1.5 0 1.5 0 1.5 0 1.6-.1 1.5 0 1.5 0 1.5 0 1.5 0 1.5 0 1.5-.1 1.5 0 1.5 0 1.5 0 1.5 0 1.5-.1 1.5 0 1.5 0 1.6 0 1.5-.1 1.5 0 1.5 0 1.5 0 1.5-.1 1.5 0" fill="none" stroke="#2a8e30" stroke-width="4.9" stroke-opacity="0.28" stroke-linejoin="round" stroke-linecap="round"/>
<path d="M750 527l.9-.9 .9-1 .8-1 .7-1.1 .7-1 .6-1.1 .6-1.1 .5-1.1 .6-1.2 .5-1.3 .5-1.3 .5-1.4 .6-1.4 .5-1.5 .5-1.6 .6-1.7 .6-1.6 .6-1.7 .7-1.7 .7-1.6 .7-1.7 .8-1.5 .8-1.5 .9-1.3 .9-1.2 1-1.1 1-.9 1-.8 1.2-.5 1.2-.3 1.2-.1 1.2 .2 1.2 .4 1.2 .6 1.2 .9 1.2 1.1 1.2 1 1.2 1.1 1.2 1 1.3 .9 1.2 .9 1.3 .8 1.3 .9 1.4 .7 1.3 .8 1.3 .7 1.4 .7 1.3 .7 1.4 .6 1.3 .6 1.4 .6 1.4 .6 1.4 .5 1.4 .5 1.4 .5 1.4 .5 1.4 .5 1.4 .4 1.4 .4 1.4 .4 1.5 .4 1.4 .3 1.5 .4 1.4 .3 1.5 .3 1.4 .3 1.5 .2 1.5 .3 1.4 .2 1.5 .3 1.5 .2 1.5 .2 1.4 .1 1.5 .2 1.5 .2 1.5 .1 1.5 .2 1.5 .1 1.5 .1 1.5 .1 1.5 .1 1.6 .1 1.5 .1 1.5 .1 1.5 .1 1.5 0 1.5 .1 1.6 0 1.5 .1 1.5 .1 1.5 0 1.5 0 1.6 .1 1.5 0 1.5 .1 1.5 0 1.5 .1 1.6 0 1.5 .1 1.5 0 1.5 .1 1.5 0 1.6 .1 1.5 0 1.5 .1 1.5 0 1.5 .1 1.6 0 1.5 .1 1.5 0 1.5 .1 1.5 0 1.5 .1 1.5 0 1.6 .1 1.5 0 1.5 .1 1.5 0 1.5 .1 1.5 0 1.5 .1 1.6 .1 1.5 0 1.5 .1 1.5 0 1.5 .1 1.5 0 1.5 .1 1.5 .1 1.5 0 1.5 .1 1.6 0 1.5 .1 1.5 .1 1.5 0 1.5 .1 1.5 0 1.5 .1 1.5 .1 1.5 0 1.5 .1 1.5 .1 1.5 0 1.5 .1 1.5 0 1.6 .1 1.5 .1 1.5 0 1.5 .1 1.5 .1 1.5 0 1.5 .1 1.5 .1 1.5 0 1.5 .1 1.5 0 1.5 .1 1.5 .1 1.5 0 1.5 .1 1.5 .1 1.5 0 1.5 .1 1.5 .1 1.5 0 1.5 .1 1.5 0 1.5 .1 1.5 .1 1.5 0 1.5 .1 1.5 .1 1.5 0 1.5 .1 1.5 .1 1.5 0 1.5 .1 1.5 0 1.5 .1 1.5 .1 1.5 0 1.5 .1 1.5 0 1.5 .1 1.5 .1 1.5 0 1.5 .1 1.5 .1 1.5 0 1.5 .1 1.5 0 1.5 .1 1.5 .1 1.5 0 1.5 .1 1.5 0 1.5 .1 1.5 0 1.5 .1 1.5 .1 1.5 0 1.5 .1 1.5 0 1.5 .1 1.5 0 1.5 .1 1.5 .1 1.5 0 1.5 .1 1.5 0 1.5 .1 1.5 0 1.5 .1 1.5 0 1.5 .1 1.5 0 1.5 .1 1.5 0 1.5 .1 1.5 0 1.5 .1 1.5 0 1.5 .1 1.5 0 1.5 0 1.5 .1 1.5 0 1.5 .1 1.5 0 1.5 .1 1.5 0 1.5 .1 1.5 0 1.5 0 1.6 .1 1.5 0 1.5 0 1.5 .1 1.5 0 1.5 .1 1.5 0 1.5 0 1.5 .1 1.5 0 1.5 0 1.5 .1 1.5 0 1.5 0 1.5 0 1.5 .1 1.5 0 1.5 0 1.5 .1 1.5 0 1.5 0 1.5 0 1.5 0 1.5 .1 1.5 0 1.5 0 1.6 0 1.5 0 1.5 .1 1.5 0 1.5 0 1.5 0 1.5 0 1.5 0 1.5 0 1.5 .1 1.5 0 1.5 0 1.6 0 1.5 0 1.5 0 1.5 0 1.5 0 1.5 0 1.5 0 1.5 0 1.5 0 1.6 0 1.5 0 1.5 0 1.5 0 1.5 0 1.5 0 1.5 0 1.6-.1 1.5 0 1.5 0 1.5 0 1.5 0 1.5 0 1.5 0 1.6-.1 1.5 0 1.5 0-1.5 0-1.5 0-1.5 0-1.5 0-1.5 0-1.5 0-1.5 0-1.5 .1-1.5 0-1.5 0-1.5 0-1.5 0-1.5 0-1.5 0-1.5 0-1.5 0-1.5 .1-1.5 0-1.5 0-1.5 0-1.5 0-1.5 0-1.5 0-1.5 .1-1.5 0-1.5 0-1.5 0-1.5 0-1.5 .1-1.5 0-1.5 0-1.5 0-1.5 0-1.5 0-1.5 .1-1.5 0-1.6 0-1.5 0-1.5 .1-1.5 0-1.5 0-1.5 0-1.5 0-1.5 .1-1.5 0-1.5 0-1.5 0-1.5 .1-1.5 0-1.5 0-1.5 0-1.5 .1-1.5 0-1.5 0-1.5 .1-1.5 0-1.5 0-1.5 0-1.5 .1-1.5 0-1.5 0-1.5 0-1.5 .1-1.6 0-1.5 0-1.5 .1-1.5 0-1.5 0-1.5 .1-1.5 0-1.5 0-1.5 0-1.5 .1-1.5 0-1.5 0-1.5 .1-1.5 0-1.5 0-1.5 .1-1.5 0-1.5 0-1.5 .1-1.5 0-1.5 0-1.5 0-1.5 .1-1.6 0-1.5 0-1.5 .1-1.5 0-1.5 0-1.5 .1-1.5 0-1.5 0-1.5 .1-1.5 0-1.5 0-1.5 .1-1.5 0-1.5 0-1.5 .1-1.5 0-1.5 0-1.5 .1-1.5 0-1.5 0-1.5 .1-1.5 0-1.6 0-1.5 .1-1.5 0-1.5 0-1.5 .1-1.5 0-1.5 0-1.5 0-1.5 .1-1.5 0-1.5 0-1.5 .1-1.5 0-1.5 0-1.5 .1-1.5 0-1.5 0-1.5 .1-1.5 0-1.5 0-1.5 .1-1.5 0-1.5 0-1.5 0-1.5 .1-1.5 0-1.6 0-1.5 .1-1.5 0-1.5 0-1.5 0-1.5 .1-1.5 0-1.5 0-1.5 .1-1.5 0-1.5 0-1.5 0-1.5 .1-1.5 0-1.5 0-1.5 0-1.5 .1-1.5 0-1.5 0-1.5 0-1.5 .1-1.5 0-1.5 0-1.5 0-1.5 .1-1.5 0-1.5 0-1.5 0-1.5 .1-1.5 0-1.5 0-1.5 0-1.5 0-1.5 .1-1.5 0-1.5 0-1.5 0-1.5 0-1.5 .1-1.5 0-1.5 0-1.5 0-1.5 0-1.5 0-1.5 .1-1.5 0-1.5 0-1.5 0-1.5 0-1.5 0-1.5 0-1.5 .1-1.5 0-1.5 0-1.5 0-1.5 0-1.5 0-1.5 0-1.5 0-1.5 0-1.5 .1-1.5 0-1.5 0-1.5 0-1.5 0-1.5 0-1.5 0-1.5 0-1.5 0-1.5 0-1.5 0-1.5 0-1.5 0-1.5 0-1.5 0-1.5 0-1.5 0-1.5 0-1.5 0-1.5 0-1.5 0-1.5 0-1.5 0-1.5 0-1.5 0-1.5 0-1.5 0-1.5 .1-1.5 0-1.5 0-1.5 0-1.5 0-1.5 0-1.5 0-1.5 0-1.6 0-1.5 0-1.5 0-1.5 0-1.5 0-1.5 0-1.5 0-1.6 0-1.5 0-1.5 0-1.5 0-1.6 0-1.5 0-1.5 0-1.5 0-1.6 0-1.5 0-1.5 0-1.6 0-1.5 0-1.5 .1-1.5 .1-1.5 .1-1.5 .1-1.5 .2-1.4 .2-1.4 .3-1.4 .3-1.4 .5-1.4 .4-1.3 .6-1.3 .7-1.2 .7-1.2 .8-1.2 .9-1.1 1-1.1 1.1-1.1 1.2-1.1 1.2-1 1.2-1 1.3-1 1.4-.9 1.3-1 1.4-.9 1.4-1 1.5-.9 1.4-.9 1.4-.9 1.4-1 1.4-.9 1.4-.9 1.4-.9 1.3-1 1.2-.9 1.2-1 1.2-1 1.1-1 1-1 .9-1.1 .9-1.1 .7-1.1 .7-1.1 .5-1.2 .4-1.2 .4-1.2 .2-1.3 .2-1.3 .1-1.3 0-1.3-.1-1.3-.1-1.4-.2-1.4-.3-1.4-.3-1.4-.4-1.4-.4-1.5-.5-1.4-.5-1.5-.5-1.5-.5-1.5-.6-1.4-.6-1.5-.6-1.5-.6-1.5-.6-1.5-.6-1.5-.6-1.5-.6-1.5-.5-1.5-.6-1.5-.5-1.5-.6-1.4-.5-1.5-.5-1.5-.4-1.5-.5-1.4-.4-1.5-.5-1.5-.4-1.4-.4-1.5-.4-1.4-.3-1.5-.4-1.5-.3-1.4-.4-1.5-.3-1.4-.3-1.5-.3-1.4-.3-1.5-.3-1.5-.3-1.4-.2-1.5-.3-1.4-.2-1.5-.2-1.5-.2-1.4-.3-1.5-.2-1.5-.2-1.4-.1-1.5-.2-1.5-.2-1.4-.1-1.5-.2-1.5-.1-1.5-.2-1.5-.1-1.4-.1-1.5-.2-1.5-.1-1.5-.1-1.5-.1-1.5-.1-1.4 0-1.5-.1-1.5-.1-1.5-.1-1.5 0-1.5-.1-1.5-.1-1.5 0-1.5 0-1.5-.1-1.5 0-1.5-.1-1.5 0-1.5 0-1.5 0-1.5-.1-1.5 0-1.5 0-1.5 0-1.5 0-1.5 0-1.5 0-1.5 0-1.5 0-1.5 0-1.5 0-1.5 0-1.5 0-1.5 0-1.6 0-1.5 .1-1.5 0-1.5 0-1.5 0-1.5 0-1.5 0-1.5 0-1.5 0-1.5 .1-1.5 0-1.5 0-1.5 0-1.5 0-1.5 0-1.5 0-1.5 0-1.5 0-1.5 0-1.5 0-1.5 0-1.5 0-1.5 0-1.5 0-1.5 0-1.5 0-1.5 0-1.5 0-1.5-.1-1.5 0-1.5 0-1.5 0-1.5-.1-1.5 0-1.5 0-1.5 0-1.5-.1-1.5 0-1.5-.1-1.5 0-1.5-.1-1.5 0-1.5-.1-1.5 0-1.5-.1-1.6 0-1.5-.1-1.5-.1-1.5 0-1.5-.1-1.5-.1-1.5 0-1.5-.1-1.5-.1-1.5-.1-1.5-.1-1.5-.1-1.6-.1-1.5-.1-1.5-.1-1.5 0-1.5-.1-1.5-.1-1.5-.1-1.5 0-1.5-.1-1.6 0-1.5 0-1.5 0-1.5 0-1.5 0-1.5 0-1.5 .1-1.5 0-1.5 .1-1.5 .1-1.5 .2-1.4 .1-1.5 .2-1.5 .2-1.5 .2-1.5 .3-1.4 .2-1.5 .3-1.5 .4-1.5 .3-1.4 .3-1.5 .4-1.4 .4-1.5 .3-1.5 .4-1.4 .3-1.5 .4-1.5 .3-1.4 .3-1.5 .2-1.5 .2-1.5 .1-1.5 .1-1.5 0-1.5-.1-1.5-.2-1.5-.1-1.5-.2-1.5-.2-1.5-.2-1.5-.2-1.5-.2-1.5-.2-1.5-.2-1.5-.2-1.4-.2-1.5-.2-1.5-.2-1.5-.2-1.5-.2-1.5-.2-1.4-.2-1.5-.2-1.5-.2-1.5-.1-1.5-.2-1.5-.1-1.5-.2-1.5-.1-1.5-.1-1.4-.1-1.5-.1-1.5-.1-1.6-.1-1.5-.1-1.5-.1-1.5-.1-1.5 0-1.5-.1-1.5-.1-1.5 0-1.5-.1-1.5 0-1.5-.1-1.5 0-1.6 0-1.5-.1-1.5 0-1.5 0-1.5 0-1.5-.1-1.5 0-1.6 0-1.5 0-1.5 0-1.5 0-1.5 0-1.5 0-1.5 0-1.5 0-1.5 0-1.5 0-1.5 0-1.5-.1-1.6 0-1.5 0-1.5 0-1.4 0-1.5 0-1.5 0-1.5 0-1.5 0-1.5 0-1.5 0-1.5-.1-1.5 0-1.4 0-1.5 0-1.5-.1-1.5 0-1.4 0-1.5-.1-1.5 0-1.4-.1-1.5 0-1.5 0-1.5-.1-1.5 0-1.4 0-1.5 0-1.5 0-1.5 0-1.6 0-1.5 0-1.5 .1-1.6 0-1.5 .1-1.6 .1-1.6 .1-1.6 .1-1.6 .1-1.6 .1-1.6 .1-1.5 0-1.5-.2-1.4-.3-1.2-.6-1.2-.7-1.1-1-.8-1.4 .8-1.4 1-1 1.2-.8 1.4-.5 1.4-.4 1.5-.2 1.6-.2 1.6-.1 1.5-.1 1.6-.1 1.5-.1 1.5-.1 1.5-.2 1.5-.1 1.5-.1 1.5-.1 1.5-.2 1.5-.1 1.5-.1 1.5-.1 1.5-.1 1.5-.1 1.5-.1 1.5-.1 1.5-.1 1.5-.1 1.5-.1 1.5-.1 1.5-.1 1.5 0 1.5-.1 1.5-.1 1.5-.1 1.5 0 1.5-.1 1.5-.1 1.5 0 1.5-.1 1.5 0 1.5-.1 1.5 0 1.5-.1 1.6 0 1.5-.1 1.5 0 1.5-.1 1.5 0 1.5-.1 1.5 0 1.5-.1 1.5 0 1.5-.1 1.6 0 1.5 0 1.5-.1 1.5 0 1.5-.1 1.5 0 1.5 0 1.5-.1 1.5 0 1.5 0 1.5-.1 1.6 0 1.5-.1 1.5 0 1.5-.1 1.5 0 1.5 0 1.5-.1 1.5 0 1.5-.1 1.5 0 1.5 0 1.5-.1 1.5 0 1.5-.1 1.5 0 1.5 0 1.6-.1 1.5 0 1.5-.1 1.5 0 1.5 0 1.5-.1 1.5 0 1.5-.1 1.5 0 1.5 0 1.5-.1 1.5 0 1.5 0 1.5-.1 1.5 0 1.5 0 1.5-.1 1.5 0 1.5 0 1.5-.1 1.5 0 1.6 0 1.5 0 1.5-.1 1.5 0 1.5 0 1.5 0 1.5-.1 1.5 0 1.5 0 1.5 0 1.5 0 1.5-.1 1.5 0 1.5 0 1.6 0 1.5 0 1.5 0 1.5 0 1.5 0 1.5 0 1.5 0 1.5-.1 1.6 0 1.5 0 1.5 0 1.5 0 1.5 0 1.5 0 1.5 0 1.5 0 1.6-.1 1.5 0 1.5-.1 1.5-.1 1.5-.1 1.5-.2 1.4-.2 1.5-.2 1.5-.3 1.5-.3 1.4-.3 1.5-.4 1.4-.5 1.5-.5 1.3-.7 1.4-.5 1.3-.2 1.4 .3 1.4 .5 1.5 .4 1.5 .3 1.5 .2 1.5 .1 1.5 .1 1.5 .1 1.5 0 1.5 0 1.5-.1 1.5 0 1.5 0 1.6-.1 1.5 0 1.5 0 1.5 0 1.5-.1 1.5 0 1.5 0 1.5 0 1.5-.1 1.5 0 1.5 0 1.5 0 1.5 0 1.5-.1 1.6 0 1.5 0 1.5 0 1.5 0 1.5 0 1.5-.1 1.5 0 1.5 0 1.5 0 1.5 0 1.5 0 1.5 0 1.5 0 1.5-.1 1.6 0 1.5 0 1.5 0 1.5 0 1.5 0 1.5 0 1.5 0 1.5 0 1.5 0 1.5 0 1.5 0 1.5 0 1.5 0 1.6 0 1.5-.1 1.5 0 1.5 0 1.5 0 1.5 0 1.5 0 1.5 0 1.5 0 1.5 0 1.5 0 1.5 0 1.5 0 1.5 0 1.6 0 1.5 0 1.5 0 1.5 0 1.5 0 1.5 0 1.5 0 1.5 0 1.5 0 1.5 0 1.5 0 1.5 0 1.5 0 1.5 0 1.6 0 1.5 0 1.5 .1 1.5 0 1.5 0 1.5 0 1.5 0 1.5 0 1.5 0 1.5 0 1.5 0 1.5 0 1.5 0 1.6 0 1.5 0 1.5 0 1.5 0 1.5 0 1.5 0 1.5 0 1.5 0 1.5 0 1.5 0 1.5 0 1.5 0 1.5 0 1.5 0 1.6 0 1.5 0 1.5 0 1.5 0 1.5-.1 1.5 0 1.5 0 1.5 0 1.5 0 1.5 0 1.5 0 1.5 0 1.5 0 1.6 0 1.5 0 1.5 0 1.5 0 1.5 0 1.5 0 1.5-.1 1.5 0 1.5 0 1.5 0 1.5 0 1.5 0 1.5 0 1.5 0 1.6-.1 1.5 0 1.5 0 1.5 0 1.5 0 1.5 0 1.5-.1 1.5 0 1.5 0 1.5 0 1.5 0 1.5-.1 1.5 0 1.5 0 1.6 0 1.5-.1 1.5 0 1.5 0 1.5 0 1.5-.1 1.5 0" fill="none" stroke="#2a8e30" stroke-width="2.9" stroke-linejoin="round" stroke-linecap="round"/>
<path d="M717.7 530.8l.9-1.2 .9-1.2 1-1.2 .9-1.1 .9-1.2 .9-1.3 .9-1.2 .8-1.2 .9-1.2 .9-1.2 .8-1.3 .9-1.2 .8-1.3 .8-1.2 .9-1.3 .8-1.3 .8-1.2 .8-1.3 .8-1.3 .8-1.3 .7-1.3 .8-1.2 .8-1.3 .7-1.4 .8-1.3 .7-1.3 .7-1.3 .8-1.3 .7-1.3 .7-1.4 .7-1.3 .7-1.3 .7-1.4 .7-1.3 .7-1.4 .7-1.3 .6-1.3 .7-1.4 .7-1.4 .6-1.3 .7-1.4 .6-1.3 .6-1.4 .7-1.4 .6-1.3 .6-1.4 .6-1.4 .6-1.4 .6-1.3 .6-1.4 .6-1.4 .6-1.4 .6-1.4 .6-1.3 .5-1.4 .6-1.4 .6-1.4 .5-1.4 .6-1.4 .5-1.4 .6-1.3 .5-1.4 .5-1.4 .6-1.4 .5-1.4 .5-1.4 .5-1.4 .5-1.4 .6-1.3 .5-1.4 .5-1.4 .5-1.4 .5-1.4 .5-1.4 .5-1.4 .4-1.4 .5-1.4 .5-1.4 .5-1.4 .5-1.4 .5-1.4 .4-1.5 .5-1.4 .5-1.4 .4-1.4 .5-1.5 .5-1.4 .5-1.4 .4-1.5 .5-1.4 .5-1.5 .4-1.4 .5-1.5 .5-1.4 .4-1.5 .5-1.5 .4-1.4 .5-1.5 .5-1.5 .5-1.5 .4-1.5 .5-1.5 .5-1.5 .5-1.4 .6-1.5 .5-1.5 .6-1.5 .5-1.5 .6-1.5 .6-1.4 .7-1.5 .6-1.5 .7-1.4 .7-1.5 .7-1.4 .8-1.4 .8-1.4 .8-1.4 .9-1.4 .9-1.3 .9-1.3 .9-1.1 1-.9 .9-.8 1-.5 .9-.3 .9 .1 .9 .4 .8 .6 .9 .9 .8 1 .8 1.2 .7 1.4 .7 1.3 .7 1.5 .6 1.4 .6 1.4 .6 1.5 .5 1.5 .6 1.5 .4 1.5 .5 1.6 .4 1.5 .5 1.5 .3 1.6 .4 1.6 .4 1.5 .3 1.6 .4 1.6 .3 1.5 .3 1.6 .3 1.6 .3 1.6 .3 1.5 .3 1.6 .3 1.6 .3 1.5 .3 1.6 .3 1.5 .3 1.5 .3 1.6 .3 1.5 .4 1.5 .3 1.5 .3 1.4 .4 1.5 .4 1.5 .4 1.4 .4 1.5 .4 1.4 .4 1.4 .5 1.4 .5 1.4 .5 1.4 .5 1.4 .5 1.4 .6 1.3 .6 1.4 .6 1.3 .6 1.3 .7 1.3 .7 1.3 .7 1.3 .8 1.2 .7 1.3 .8 1.2 .8 1.2 .9 1.3 .8 1.2 .9 1.1 .9 1.2 .9 1.2 1 1.1 1 1.2 .9 1.1 1 1.1 1.1 1.1 1 1 1.1 1.1 1 1.1 1.1 1 1.1 1 1.2 1 1.1 1 1.1 1 1.2 .9 1.2 1 1.2 .9 1.2 .9 1.2 .9 1.2 .9 1.3 .9 1.2 .9 1.3 .8 1.2 .8 1.3 .9 1.3 .7 1.3 .8 1.3 .8 1.3 .7 1.3 .8 1.3 .7 1.3 .7 1.4 .7 1.3 .7 1.3 .6 1.4 .7 1.3 .6 1.4 .7 1.4 .6 1.3 .6 1.4 .5 1.4 .6 1.4 .6 1.4 .5 1.4 .5 1.4 .6 1.4 .5 1.4 .5 1.4 .5 1.4 .4 1.5 .5 1.4 .4 1.4 .5 1.5 .4 1.4 .4 1.5 .5 1.4 .4 1.5 .4 1.4 .3 1.5 .4 1.4 .4 1.5 .3 1.5 .4 1.4 .3 1.5 .4 1.5 .3 1.5 .3 1.4 .3 1.5 .3 1.5 .3 1.5 .3 1.5 .3 1.5 .3 1.5 .2 1.5 .3 1.4 .3 1.5 .2 1.5 .3 1.5 .2 1.5 .3 1.5 .2 1.5 .2 1.5 .2 1.5 .3 1.5 .2 1.5 .2 1.5 .2 1.5 .2 1.5 .2 1.5 .2 1.5 .2 1.5 .2 1.5 .2 1.5 .2 1.5 .2 1.5 .2 1.5 .1 1.5 .2 1.5 .2 1.5 .2 1.5 .1 1.5 .2 1.5 .2 1.5 .1 1.5 .2 1.5 .1 1.5 .2 1.5 .1 1.5 .2 1.5 .1 1.5 .2 1.5 .1 1.5 .1 1.5 .2 1.5 .1 1.5 .1 1.5 .2 1.5 .1 1.5 .1 1.5 .1 1.5 .1 1.5 .2 1.5 .1 1.5 .1 1.5 .1 1.5 .1 1.5 .1 1.5 .1 1.5 .1 1.4 .1 1.5 .1 1.5 .1 1.5 .1 1.5 .1 1.5 .1 1.5 0 1.5 .1 1.5 .1 1.5 .1 1.5 .1 1.5 .1 1.5 0 1.5 .1 1.5 .1 1.5 0 1.5 .1 1.5 .1 1.5 0 1.5 .1 1.5 .1 1.5 0 1.5 .1 1.5 0 1.5 .1 1.5 .1 1.5 0 1.5 .1 1.5 0 1.5 .1 1.5 0 1.5 .1 1.5 0 1.5 .1 1.5 0 1.5 0 1.5 .1 1.5 0 1.5 .1 1.5 0 1.5 0 1.5 .1 1.5 0 1.5 0 1.5 .1 1.5 0 1.5 0 1.5 .1 1.5 0 1.5 0 1.5 .1 1.5 0 1.5 0 1.5 0 1.5 .1 1.5 0 1.5 0 1.5 0 1.5 .1 1.5 0 1.5 0 1.5 0 1.5 .1 1.5 0 1.5 0 1.5 0 1.5 .1 1.5 0 1.5 0 1.5 0 1.5 0 1.5 .1 1.5 0 1.5 0 1.5 0 1.5 0 1.5 .1 1.5 0 1.6 0 1.5 0 1.5 0 1.5 .1 1.5 0 1.5 0 1.5 0 1.5 0 1.5 .1 1.5 0 1.5 0 1.5 0 1.6 .1 1.5 0 1.5 0 1.5 0 1.5 .1 1.5 0 1.5 0 1.5 0 1.5 .1 1.5 0 1.6 0 1.5 0 1.5 .1 1.5 0-1.5 .1-1.5 .1-1.5 0-1.6 .1-1.5 .1-1.5 .1-1.5 .1-1.5 .1-1.5 0-1.5 .1-1.5 .1-1.5 .1-1.6 0-1.5 .1-1.5 .1-1.5 .1-1.5 0-1.5 .1-1.5 .1-1.5 0-1.5 .1-1.5 .1-1.5 0-1.5 .1-1.6 .1-1.5 0-1.5 .1-1.5 .1-1.5 0-1.5 .1-1.5 0-1.5 .1-1.5 .1-1.5 0-1.5 .1-1.5 0-1.5 .1-1.5 .1-1.5 0-1.5 .1-1.5 0-1.5 .1-1.5 0-1.5 .1-1.6 0-1.5 .1-1.5 0-1.5 .1-1.5 0-1.5 .1-1.5 0-1.5 .1-1.5 0-1.5 .1-1.5 0-1.5 .1-1.5 0-1.5 .1-1.5 0-1.5 0-1.5 .1-1.5 0-1.5 .1-1.5 0-1.5 .1-1.5 0-1.5 0-1.5 .1-1.5 0-1.5 .1-1.5 0-1.5 0-1.5 .1-1.5 0-1.5 .1-1.5 0-1.5 0-1.5 .1-1.5 0-1.4 0-1.5 .1-1.5 0-1.5 0-1.5 .1-1.5 0-1.5 .1-1.5 0-1.5 0-1.5 .1-1.5 0-1.5 0-1.5 .1-1.5 0-1.5 0-1.5 .1-1.5 0-1.5 0-1.5 0-1.5 .1-1.5 0-1.5 0-1.5 .1-1.5 0-1.5 0-1.5 .1-1.5 0-1.5 0-1.5 .1-1.5 0-1.5 0-1.5 0-1.5 .1-1.5 0-1.5 0-1.4 .1-1.5 0-1.5 0-1.5 .1-1.5 0-1.5 0-1.5 0-1.5 .1-1.5 0-1.5 0-1.5 .1-1.5 0-1.5 0-1.5 .1-1.5 0-1.5 0-1.5 0-1.5 .1-1.5 0-1.5 0-1.5 .1-1.5 0-1.5 0-1.5 .1-1.5 0-1.5 0-1.5 .1-1.5 0-1.5 0-1.5 .1-1.5 0-1.5 0-1.5 0-1.5 .1-1.5 0-1.5 0-1.5 .1-1.5 0-1.5 0-1.5 .1-1.5 0-1.5 .1-1.5 0-1.5 0-1.5 .1-1.5 0-1.5 0-1.5 .1-1.5 0-1.5 0-1.5 .1-1.5 0-1.5 .1-1.5 0-1.5 0-1.5 .1-1.5 0-1.5 0-1.5 .1-1.5 0-1.5 .1-1.5 0-1.5 .1-1.5 0-1.5 0-1.5 .1-1.5 0-1.6 .1-1.5 0-1.5 .1-1.5 0-1.5 .1-1.5 0-1.5 0-1.5 .1-1.5 0-1.5 .1-1.5 0-1.5 .1-1.5 0-1.5 .1-1.6 0-1.5 .1-1.5 .1-1.5 0-1.5 .1-1.5 0-1.5 .1-1.5 0-1.5 .1-1.5 0-1.6 .1-1.5 .1-1.5 0-1.5 .1-1.5 0-1.5 .1-1.5 .1-1.5 0-1.6 .1-1.5 .1-1.5 0-1.5 .1-1.5 0-1.5 .1-1.6 .1-1.5 .1-1.5 0-1.5 .1-1.5 .1-1.5 0-1.6 .1-1.5 .1-1.5 .1-1.5 0-1.5 .1-1.6 .1-1.5 .1-1.5 0-1.5 .1-1.5 .1-1.6 .1-1.5 .1-1.5 0-1.5 .1-1.5 .1-1.6 .1-1.5 .1-1.5 .1-1.5 .1-1.6 .1-1.5 0-1.5 .1-1.6 .1-1.5 .1-1.5 .1-1.5 .1-1.5 .2-1.5 .1-1.5 .2-1.5 .1-1.5 .2-1.5 .2-1.5 .2-1.4 .2-1.5 .3-1.4 .3-1.4 .3-1.5 .3-1.4 .3-1.3 .4-1.4 .5-1.3 .4-1.4 .5-1.3 .5-1.3 .6-1.2 .6-1.3 .6-1.2 .7-1.2 .8-1.2 .8-1.1 .8-1.1 .9-1.1 .9-1.1 1-1 1-1 1.1-1 1.1-1 1.2-.9 1.2-.9 1.3-.9 1.3-.9 1.3-.8 1.4-.8 1.3-.8 1.4-.8 1.4-.7 1.5-.8 1.4-.7 1.4-.7 1.5-.7 1.4-.7 1.4-.7 1.4-.6 1.4-.7 1.5-.6 1.4-.7 1.4-.6 1.4-.6 1.4-.6 1.3-.6 1.4-.6 1.4-.6 1.4-.5 1.3-.6 1.4-.6 1.4-.6 1.3-.5 1.4-.6 1.4-.6 1.3-.5 1.4-.6 1.3-.6 1.3-.5 1.4-.6 1.3-.6 1.3-.5 1.4-.6 1.3-.6 1.3-.6 1.4-.6 1.3-.6 1.3-.6 1.3-.7 1.3-.6 1.3-.6 1.3-.7 1.4-.7 1.3-.6 1.3-.7 1.3-.7 1.3-.7 1.3-.7 1.4-.7 1.3-.7 1.4-.7 1.4-.7 1.4-.7 1.4-.7 1.5-.6 1.4-.7 1.6-.6 1.5-.7 1.6-.6 1.5-.7 1.6-.7 1.5-.7 1.5-.7 1.5-.8 1.5-.8 1.4-.8 1.3-.9 1.2-1 1.2-1 1-1.1 1-1.2 .8-1.2 .8-1.3 .6-1.2 .4-1.3 .4-1.3 .2-1.3 0-1.2-.1-1.2-.2-1.2-.5-1.1-.6-1.1-.7-1-.9-1-1.1-.9-1.1-.9-1.2-.9-1.3-.9-1.3-.8-1.4-.9-1.4-.8-1.4-.9-1.4-.9-1.4-.9-1.4-.9-1.3-1-1.3-.9-1.2-1-1.2-1-1.2-1.1-1.2-1-1.1-1.1-1.1-1.1-1.1-1.1-1.1-1.1-1-1.1-1-1.1-1-1.2-1-1.2-.9-1.1-1-1.2-.9-1.2-.9-1.3-.9-1.2-.8-1.2-.9-1.3-.8-1.2-.9-1.3-.8-1.2-.8-1.3-.8-1.3-.8-1.2-.8-1.3-.7-1.3-.8-1.3-.8-1.3-.8-1.3-.7-1.3-.8-1.3-.8-1.3-.7-1.3-.8-1.2-.8-1.3-.8-1.3-.7-1.3-.8-1.3-.8-1.3-.8-1.3-.7-1.3-.8-1.2-.8-1.3-.8-1.3-.8-1.3-.7-1.3-.8-1.3-.8-1.3-.7-1.3-.8-1.3-.8-1.3-.7-1.2-.8-1.3-.8-1.3-.7-1.4-.8-1.3-.7-1.3-.7-1.3-.8-1.3-.7-1.3-.7-1.3-.7-1.3-.7-1.4-.8-1.3-.6-1.3-.7-1.4-.7-1.3-.7-1.4-.7-1.3-.6-1.4-.7-1.3-.6-1.4-.7-1.3-.6-1.4-.6-1.4-.6-1.4-.6-1.4-.6-1.4-.6-1.3-.5-1.5-.6-1.4-.5-1.4-.6-1.4-.5-1.4-.5-1.4-.5-1.5-.5-1.4-.5-1.4-.4-1.5-.5-1.4-.4-1.5-.4-1.4-.5-1.5-.4-1.4-.3-1.5-.4-1.5-.4-1.4-.3-1.5-.3-1.5-.3-1.4-.3-1.5-.3-1.5-.3-1.5-.3-1.4-.2-1.5-.2-1.5-.2-1.5-.2-1.5-.2-1.4-.2-1.5-.2-1.5-.1-1.5-.2-1.5-.2-1.5-.1-1.5-.2-1.4-.2-1.5-.2-1.5-.2-1.5-.2-1.5-.2-1.5-.3-1.5-.2-1.4-.3-1.5-.3-1.5-.4-1.5-.3-1.5-.4-1.4-.4-1.5-.4-1.5-.4-1.5-.4-1.5-.3-1.4-.4-1.5-.3-1.5-.2-1.5-.2-1.4-.2-1.5-.1-1.5 0-1.5 .1-1.5 .1-1.4 .1-1.5 .3-1.5 .2-1.5 .3-1.5 .3-1.5 .3-1.4 .3-1.5 .4-1.5 .2-1.5 .3-1.5 .2-1.5 .2-1.5 .1-1.4 0-1.5 0-1.5-.1-1.5-.2-1.5-.2-1.5-.2-1.5-.3-1.4-.3-1.5-.2-1.5-.3-1.5-.2-1.5-.3-1.5-.2-1.5-.2-1.5-.2-1.5-.3-1.4-.2-1.5-.2-1.5-.2-1.5-.1-1.5-.2-1.5-.2-1.5-.2-1.5-.2-1.5-.2-1.5-.2-1.4-.2-1.5-.2-1.5-.1-1.5-.2-1.5-.2-1.5-.2-1.5-.2-1.5-.2-1.5-.2-1.5-.1-1.5-.2-1.5-.2-1.5-.1-1.5-.2-1.4-.2-1.5-.1-1.5-.1-1.5-.2-1.5-.1-1.5-.1-1.5-.1-1.5-.1-1.5-.1-1.5-.1-1.6-.1-1.5-.1-1.5-.1-1.5 0-1.5-.1-1.5 0-1.5 0-1.5-.1-1.5 0-1.5 0-1.5-.1-1.5 0-1.5 0-1.5 0-1.5 0-1.6-.1-1.5 0-1.5 0-1.5 0-1.5 0-1.5 0-1.5 0-1.5-.1-1.5 0-1.5 0-1.5 0-1.5-.1-1.4 0-1.5 0-1.5-.1-1.5 0-1.5-.1-1.5 0-1.5-.1-1.5 0-1.4-.1-1.5 0-1.5-.1-1.5 0-1.5 0-1.5-.1-1.5 0-1.5 0-1.5 0-1.6 0-1.5 0-1.5 .1-1.5 0-1.6 .1-1.5 .1-1.6 0-1.5 .1-1.6 0-1.5-.1-1.5-.2-1.4-.3-1.4-.4-1.3-.6-1.3-.9 1.3-.8 1.4-.5 1.4-.5 1.4-.4 1.5-.4 1.4-.3 1.5-.2 1.5-.3 1.5-.2 1.5-.1 1.5-.2 1.5-.1 1.5-.1 1.5-.1 1.5-.1 1.5-.1 1.5 0 1.6-.1 1.5-.1 1.5-.1 1.5-.1 1.5 0 1.5-.1 1.5-.1 1.5-.1 1.5 0 1.5-.1 1.6-.1 1.5 0 1.5-.1 1.5-.1 1.5 0 1.5-.1 1.5-.1 1.5 0 1.5-.1 1.5 0 1.5-.1 1.5 0 1.5-.1 1.5-.1 1.5 0 1.6-.1 1.5 0 1.5-.1 1.5 0 1.5-.1 1.5 0 1.5-.1 1.5 0 1.5-.1 1.5 0 1.5 0 1.5-.1 1.5 0 1.5-.1 1.5 0 1.5-.1 1.5 0 1.5 0 1.5-.1 1.6 0 1.5-.1 1.5 0 1.5 0 1.5-.1 1.5 0 1.5 0 1.5-.1 1.5 0 1.5 0 1.5-.1 1.5 0 1.5 0 1.5-.1 1.6 0 1.5 0 1.5-.1 1.5 0 1.5 0 1.5-.1 1.5 0 1.5 0 1.5 0 1.5-.1 1.5 0 1.6 0 1.5 0 1.5-.1 1.5 0 1.5 0 1.5 0 1.5 0 1.5-.1 1.5 0 1.5 0 1.5 0 1.5-.1 1.6 0 1.5 0 1.5 0 1.5 0 1.5 0 1.5-.1 1.5 0 1.5 0 1.5 0 1.5 0 1.6 0 1.5 0 1.5-.1 1.5 0 1.5 0 1.5 0 1.5 0 1.5 0 1.5 0 1.5 0 1.5 0 1.5-.1 1.6 0 1.5 0 1.5 0 1.5 0 1.5 0 1.5 0 1.5 0 1.5 0 1.5-.1 1.5 0 1.5-.1 1.5 0 1.5-.1 1.5-.1 1.5-.1 1.5-.2 1.5-.1 1.5-.2 1.5-.3 1.5-.2 1.5-.3 1.5-.4 1.4-.6 1.2-1 1-1.4 .9-1.1 1-.3 .9 .7 1.1 1.2 1.2 1.1 1.4 .7 1.5 .2 1.5 .1 1.6 0 1.5 .1 1.5 0 1.5 0 1.5 0 1.5 0 1.5 0 1.5 0 1.6 0 1.5 0 1.5 0 1.5 0 1.5 0 1.5 0 1.5 0 1.5 0 1.5 0 1.5 0 1.5 0 1.5 0 1.5 0 1.5 0 1.5 0 1.5 0 1.5 0 1.6 0 1.5 0 1.5 0 1.5 0 1.5 0 1.5 0 1.5 0 1.5 0 1.5 0 1.5 0 1.5 0 1.5 0 1.6 0 1.5-.1 1.5 0 1.5 0 1.5 0 1.5 0 1.5 0 1.5 0 1.5 0 1.5 0 1.6 0 1.5 0 1.5 0 1.5-.1 1.5 0 1.5 0 1.5 0 1.5 0 1.5 0 1.6 0 1.5 0 1.5 0 1.5 0 1.5 0 1.5-.1 1.5 0 1.5 0 1.5 0 1.6 0 1.5 0 1.5 0 1.5 0 1.5 0 1.5 0 1.5 0 1.5 0 1.5 0 1.6 0 1.5-.1 1.5 0 1.5 0 1.5 0 1.5 0 1.5 0 1.5 0 1.5 0 1.5 0 1.6 0 1.5 0 1.5 0 1.5 0 1.5 0 1.5 0 1.5 0 1.5 0 1.5 0 1.5 0 1.5 .1 1.6 0 1.5 0 1.5 0 1.5 0 1.5 0 1.5 0 1.5 0 1.5 0 1.5 0 1.5 0 1.5 .1 1.5 0 1.5 0 1.5 0 1.5 0 1.6 0 1.5 .1 1.5 0 1.5 0 1.5 0 1.5 .1 1.5 0 1.5 0 1.5 0 1.5 .1 1.5 0 1.5 0 1.5 0 1.5 .1 1.5 0 1.5 0 1.5 .1 1.5 0 1.5 .1 1.5 0" fill="none" stroke="#f8952a" stroke-width="4.9" stroke-opacity="0.28" stroke-linejoin="round" stroke-linecap="round"/>
<path d="M717.7 530.8l.9-1.2 .9-1.2 1-1.2 .9-1.1 .9-1.2 .9-1.3 .9-1.2 .8-1.2 .9-1.2 .9-1.2 .8-1.3 .9-1.2 .8-1.3 .8-1.2 .9-1.3 .8-1.3 .8-1.2 .8-1.3 .8-1.3 .8-1.3 .7-1.3 .8-1.2 .8-1.3 .7-1.4 .8-1.3 .7-1.3 .7-1.3 .8-1.3 .7-1.3 .7-1.4 .7-1.3 .7-1.3 .7-1.4 .7-1.3 .7-1.4 .7-1.3 .6-1.3 .7-1.4 .7-1.4 .6-1.3 .7-1.4 .6-1.3 .6-1.4 .7-1.4 .6-1.3 .6-1.4 .6-1.4 .6-1.4 .6-1.3 .6-1.4 .6-1.4 .6-1.4 .6-1.4 .6-1.3 .5-1.4 .6-1.4 .6-1.4 .5-1.4 .6-1.4 .5-1.4 .6-1.3 .5-1.4 .5-1.4 .6-1.4 .5-1.4 .5-1.4 .5-1.4 .5-1.4 .6-1.3 .5-1.4 .5-1.4 .5-1.4 .5-1.4 .5-1.4 .5-1.4 .4-1.4 .5-1.4 .5-1.4 .5-1.4 .5-1.4 .5-1.4 .4-1.5 .5-1.4 .5-1.4 .4-1.4 .5-1.5 .5-1.4 .5-1.4 .4-1.5 .5-1.4 .5-1.5 .4-1.4 .5-1.5 .5-1.4 .4-1.5 .5-1.5 .4-1.4 .5-1.5 .5-1.5 .5-1.5 .4-1.5 .5-1.5 .5-1.5 .5-1.4 .6-1.5 .5-1.5 .6-1.5 .5-1.5 .6-1.5 .6-1.4 .7-1.5 .6-1.5 .7-1.4 .7-1.5 .7-1.4 .8-1.4 .8-1.4 .8-1.4 .9-1.4 .9-1.3 .9-1.3 .9-1.1 1-.9 .9-.8 1-.5 .9-.3 .9 .1 .9 .4 .8 .6 .9 .9 .8 1 .8 1.2 .7 1.4 .7 1.3 .7 1.5 .6 1.4 .6 1.4 .6 1.5 .5 1.5 .6 1.5 .4 1.5 .5 1.6 .4 1.5 .5 1.5 .3 1.6 .4 1.6 .4 1.5 .3 1.6 .4 1.6 .3 1.5 .3 1.6 .3 1.6 .3 1.6 .3 1.5 .3 1.6 .3 1.6 .3 1.5 .3 1.6 .3 1.5 .3 1.5 .3 1.6 .3 1.5 .4 1.5 .3 1.5 .3 1.4 .4 1.5 .4 1.5 .4 1.4 .4 1.5 .4 1.4 .4 1.4 .5 1.4 .5 1.4 .5 1.4 .5 1.4 .5 1.4 .6 1.3 .6 1.4 .6 1.3 .6 1.3 .7 1.3 .7 1.3 .7 1.3 .8 1.2 .7 1.3 .8 1.2 .8 1.2 .9 1.3 .8 1.2 .9 1.1 .9 1.2 .9 1.2 1 1.1 1 1.2 .9 1.1 1 1.1 1.1 1.1 1 1 1.1 1.1 1 1.1 1.1 1 1.1 1 1.2 1 1.1 1 1.1 1 1.2 .9 1.2 1 1.2 .9 1.2 .9 1.2 .9 1.2 .9 1.3 .9 1.2 .9 1.3 .8 1.2 .8 1.3 .9 1.3 .7 1.3 .8 1.3 .8 1.3 .7 1.3 .8 1.3 .7 1.3 .7 1.4 .7 1.3 .7 1.3 .6 1.4 .7 1.3 .6 1.4 .7 1.4 .6 1.3 .6 1.4 .5 1.4 .6 1.4 .6 1.4 .5 1.4 .5 1.4 .6 1.4 .5 1.4 .5 1.4 .5 1.4 .4 1.5 .5 1.4 .4 1.4 .5 1.5 .4 1.4 .4 1.5 .5 1.4 .4 1.5 .4 1.4 .3 1.5 .4 1.4 .4 1.5 .3 1.5 .4 1.4 .3 1.5 .4 1.5 .3 1.5 .3 1.4 .3 1.5 .3 1.5 .3 1.5 .3 1.5 .3 1.5 .3 1.5 .2 1.5 .3 1.4 .3 1.5 .2 1.5 .3 1.5 .2 1.5 .3 1.5 .2 1.5 .2 1.5 .2 1.5 .3 1.5 .2 1.5 .2 1.5 .2 1.5 .2 1.5 .2 1.5 .2 1.5 .2 1.5 .2 1.5 .2 1.5 .2 1.5 .2 1.5 .2 1.5 .1 1.5 .2 1.5 .2 1.5 .2 1.5 .1 1.5 .2 1.5 .2 1.5 .1 1.5 .2 1.5 .1 1.5 .2 1.5 .1 1.5 .2 1.5 .1 1.5 .2 1.5 .1 1.5 .1 1.5 .2 1.5 .1 1.5 .1 1.5 .2 1.5 .1 1.5 .1 1.5 .1 1.5 .1 1.5 .2 1.5 .1 1.5 .1 1.5 .1 1.5 .1 1.5 .1 1.5 .1 1.5 .1 1.4 .1 1.5 .1 1.5 .1 1.5 .1 1.5 .1 1.5 .1 1.5 0 1.5 .1 1.5 .1 1.5 .1 1.5 .1 1.5 .1 1.5 0 1.5 .1 1.5 .1 1.5 0 1.5 .1 1.5 .1 1.5 0 1.5 .1 1.5 .1 1.5 0 1.5 .1 1.5 0 1.5 .1 1.5 .1 1.5 0 1.5 .1 1.5 0 1.5 .1 1.5 0 1.5 .1 1.5 0 1.5 .1 1.5 0 1.5 0 1.5 .1 1.5 0 1.5 .1 1.5 0 1.5 0 1.5 .1 1.5 0 1.5 0 1.5 .1 1.5 0 1.5 0 1.5 .1 1.5 0 1.5 0 1.5 .1 1.5 0 1.5 0 1.5 0 1.5 .1 1.5 0 1.5 0 1.5 0 1.5 .1 1.5 0 1.5 0 1.5 0 1.5 .1 1.5 0 1.5 0 1.5 0 1.5 .1 1.5 0 1.5 0 1.5 0 1.5 0 1.5 .1 1.5 0 1.5 0 1.5 0 1.5 0 1.5 .1 1.5 0 1.6 0 1.5 0 1.5 0 1.5 .1 1.5 0 1.5 0 1.5 0 1.5 0 1.5 .1 1.5 0 1.5 0 1.5 0 1.6 .1 1.5 0 1.5 0 1.5 0 1.5 .1 1.5 0 1.5 0 1.5 0 1.5 .1 1.5 0 1.6 0 1.5 0 1.5 .1 1.5 0-1.5 .1-1.5 .1-1.5 0-1.6 .1-1.5 .1-1.5 .1-1.5 .1-1.5 .1-1.5 0-1.5 .1-1.5 .1-1.5 .1-1.6 0-1.5 .1-1.5 .1-1.5 .1-1.5 0-1.5 .1-1.5 .1-1.5 0-1.5 .1-1.5 .1-1.5 0-1.5 .1-1.6 .1-1.5 0-1.5 .1-1.5 .1-1.5 0-1.5 .1-1.5 0-1.5 .1-1.5 .1-1.5 0-1.5 .1-1.5 0-1.5 .1-1.5 .1-1.5 0-1.5 .1-1.5 0-1.5 .1-1.5 0-1.5 .1-1.6 0-1.5 .1-1.5 0-1.5 .1-1.5 0-1.5 .1-1.5 0-1.5 .1-1.5 0-1.5 .1-1.5 0-1.5 .1-1.5 0-1.5 .1-1.5 0-1.5 0-1.5 .1-1.5 0-1.5 .1-1.5 0-1.5 .1-1.5 0-1.5 0-1.5 .1-1.5 0-1.5 .1-1.5 0-1.5 0-1.5 .1-1.5 0-1.5 .1-1.5 0-1.5 0-1.5 .1-1.5 0-1.4 0-1.5 .1-1.5 0-1.5 0-1.5 .1-1.5 0-1.5 .1-1.5 0-1.5 0-1.5 .1-1.5 0-1.5 0-1.5 .1-1.5 0-1.5 0-1.5 .1-1.5 0-1.5 0-1.5 0-1.5 .1-1.5 0-1.5 0-1.5 .1-1.5 0-1.5 0-1.5 .1-1.5 0-1.5 0-1.5 .1-1.5 0-1.5 0-1.5 0-1.5 .1-1.5 0-1.5 0-1.4 .1-1.5 0-1.5 0-1.5 .1-1.5 0-1.5 0-1.5 0-1.5 .1-1.5 0-1.5 0-1.5 .1-1.5 0-1.5 0-1.5 .1-1.5 0-1.5 0-1.5 0-1.5 .1-1.5 0-1.5 0-1.5 .1-1.5 0-1.5 0-1.5 .1-1.5 0-1.5 0-1.5 .1-1.5 0-1.5 0-1.5 .1-1.5 0-1.5 0-1.5 0-1.5 .1-1.5 0-1.5 0-1.5 .1-1.5 0-1.5 0-1.5 .1-1.5 0-1.5 .1-1.5 0-1.5 0-1.5 .1-1.5 0-1.5 0-1.5 .1-1.5 0-1.5 0-1.5 .1-1.5 0-1.5 .1-1.5 0-1.5 0-1.5 .1-1.5 0-1.5 0-1.5 .1-1.5 0-1.5 .1-1.5 0-1.5 .1-1.5 0-1.5 0-1.5 .1-1.5 0-1.6 .1-1.5 0-1.5 .1-1.5 0-1.5 .1-1.5 0-1.5 0-1.5 .1-1.5 0-1.5 .1-1.5 0-1.5 .1-1.5 0-1.5 .1-1.6 0-1.5 .1-1.5 .1-1.5 0-1.5 .1-1.5 0-1.5 .1-1.5 0-1.5 .1-1.5 0-1.6 .1-1.5 .1-1.5 0-1.5 .1-1.5 0-1.5 .1-1.5 .1-1.5 0-1.6 .1-1.5 .1-1.5 0-1.5 .1-1.5 0-1.5 .1-1.6 .1-1.5 .1-1.5 0-1.5 .1-1.5 .1-1.5 0-1.6 .1-1.5 .1-1.5 .1-1.5 0-1.5 .1-1.6 .1-1.5 .1-1.5 0-1.5 .1-1.5 .1-1.6 .1-1.5 .1-1.5 0-1.5 .1-1.5 .1-1.6 .1-1.5 .1-1.5 .1-1.5 .1-1.6 .1-1.5 0-1.5 .1-1.6 .1-1.5 .1-1.5 .1-1.5 .1-1.5 .2-1.5 .1-1.5 .2-1.5 .1-1.5 .2-1.5 .2-1.5 .2-1.4 .2-1.5 .3-1.4 .3-1.4 .3-1.5 .3-1.4 .3-1.3 .4-1.4 .5-1.3 .4-1.4 .5-1.3 .5-1.3 .6-1.2 .6-1.3 .6-1.2 .7-1.2 .8-1.2 .8-1.1 .8-1.1 .9-1.1 .9-1.1 1-1 1-1 1.1-1 1.1-1 1.2-.9 1.2-.9 1.3-.9 1.3-.9 1.3-.8 1.4-.8 1.3-.8 1.4-.8 1.4-.7 1.5-.8 1.4-.7 1.4-.7 1.5-.7 1.4-.7 1.4-.7 1.4-.6 1.4-.7 1.5-.6 1.4-.7 1.4-.6 1.4-.6 1.4-.6 1.3-.6 1.4-.6 1.4-.6 1.4-.5 1.3-.6 1.4-.6 1.4-.6 1.3-.5 1.4-.6 1.4-.6 1.3-.5 1.4-.6 1.3-.6 1.3-.5 1.4-.6 1.3-.6 1.3-.5 1.4-.6 1.3-.6 1.3-.6 1.4-.6 1.3-.6 1.3-.6 1.3-.7 1.3-.6 1.3-.6 1.3-.7 1.4-.7 1.3-.6 1.3-.7 1.3-.7 1.3-.7 1.3-.7 1.4-.7 1.3-.7 1.4-.7 1.4-.7 1.4-.7 1.4-.7 1.5-.6 1.4-.7 1.6-.6 1.5-.7 1.6-.6 1.5-.7 1.6-.7 1.5-.7 1.5-.7 1.5-.8 1.5-.8 1.4-.8 1.3-.9 1.2-1 1.2-1 1-1.1 1-1.2 .8-1.2 .8-1.3 .6-1.2 .4-1.3 .4-1.3 .2-1.3 0-1.2-.1-1.2-.2-1.2-.5-1.1-.6-1.1-.7-1-.9-1-1.1-.9-1.1-.9-1.2-.9-1.3-.9-1.3-.8-1.4-.9-1.4-.8-1.4-.9-1.4-.9-1.4-.9-1.4-.9-1.3-1-1.3-.9-1.2-1-1.2-1-1.2-1.1-1.2-1-1.1-1.1-1.1-1.1-1.1-1.1-1.1-1.1-1-1.1-1-1.1-1-1.2-1-1.2-.9-1.1-1-1.2-.9-1.2-.9-1.3-.9-1.2-.8-1.2-.9-1.3-.8-1.2-.9-1.3-.8-1.2-.8-1.3-.8-1.3-.8-1.2-.8-1.3-.7-1.3-.8-1.3-.8-1.3-.8-1.3-.7-1.3-.8-1.3-.8-1.3-.7-1.3-.8-1.2-.8-1.3-.8-1.3-.7-1.3-.8-1.3-.8-1.3-.8-1.3-.7-1.3-.8-1.2-.8-1.3-.8-1.3-.8-1.3-.7-1.3-.8-1.3-.8-1.3-.7-1.3-.8-1.3-.8-1.3-.7-1.2-.8-1.3-.8-1.3-.7-1.4-.8-1.3-.7-1.3-.7-1.3-.8-1.3-.7-1.3-.7-1.3-.7-1.3-.7-1.4-.8-1.3-.6-1.3-.7-1.4-.7-1.3-.7-1.4-.7-1.3-.6-1.4-.7-1.3-.6-1.4-.7-1.3-.6-1.4-.6-1.4-.6-1.4-.6-1.4-.6-1.4-.6-1.3-.5-1.5-.6-1.4-.5-1.4-.6-1.4-.5-1.4-.5-1.4-.5-1.5-.5-1.4-.5-1.4-.4-1.5-.5-1.4-.4-1.5-.4-1.4-.5-1.5-.4-1.4-.3-1.5-.4-1.5-.4-1.4-.3-1.5-.3-1.5-.3-1.4-.3-1.5-.3-1.5-.3-1.5-.3-1.4-.2-1.5-.2-1.5-.2-1.5-.2-1.5-.2-1.4-.2-1.5-.2-1.5-.1-1.5-.2-1.5-.2-1.5-.1-1.5-.2-1.4-.2-1.5-.2-1.5-.2-1.5-.2-1.5-.2-1.5-.3-1.5-.2-1.4-.3-1.5-.3-1.5-.4-1.5-.3-1.5-.4-1.4-.4-1.5-.4-1.5-.4-1.5-.4-1.5-.3-1.4-.4-1.5-.3-1.5-.2-1.5-.2-1.4-.2-1.5-.1-1.5 0-1.5 .1-1.5 .1-1.4 .1-1.5 .3-1.5 .2-1.5 .3-1.5 .3-1.5 .3-1.4 .3-1.5 .4-1.5 .2-1.5 .3-1.5 .2-1.5 .2-1.5 .1-1.4 0-1.5 0-1.5-.1-1.5-.2-1.5-.2-1.5-.2-1.5-.3-1.4-.3-1.5-.2-1.5-.3-1.5-.2-1.5-.3-1.5-.2-1.5-.2-1.5-.2-1.5-.3-1.4-.2-1.5-.2-1.5-.2-1.5-.1-1.5-.2-1.5-.2-1.5-.2-1.5-.2-1.5-.2-1.5-.2-1.4-.2-1.5-.2-1.5-.1-1.5-.2-1.5-.2-1.5-.2-1.5-.2-1.5-.2-1.5-.2-1.5-.1-1.5-.2-1.5-.2-1.5-.1-1.5-.2-1.4-.2-1.5-.1-1.5-.1-1.5-.2-1.5-.1-1.5-.1-1.5-.1-1.5-.1-1.5-.1-1.5-.1-1.6-.1-1.5-.1-1.5-.1-1.5 0-1.5-.1-1.5 0-1.5 0-1.5-.1-1.5 0-1.5 0-1.5-.1-1.5 0-1.5 0-1.5 0-1.5 0-1.6-.1-1.5 0-1.5 0-1.5 0-1.5 0-1.5 0-1.5 0-1.5-.1-1.5 0-1.5 0-1.5 0-1.5-.1-1.4 0-1.5 0-1.5-.1-1.5 0-1.5-.1-1.5 0-1.5-.1-1.5 0-1.4-.1-1.5 0-1.5-.1-1.5 0-1.5 0-1.5-.1-1.5 0-1.5 0-1.5 0-1.6 0-1.5 0-1.5 .1-1.5 0-1.6 .1-1.5 .1-1.6 0-1.5 .1-1.6 0-1.5-.1-1.5-.2-1.4-.3-1.4-.4-1.3-.6-1.3-.9 1.3-.8 1.4-.5 1.4-.5 1.4-.4 1.5-.4 1.4-.3 1.5-.2 1.5-.3 1.5-.2 1.5-.1 1.5-.2 1.5-.1 1.5-.1 1.5-.1 1.5-.1 1.5-.1 1.5 0 1.6-.1 1.5-.1 1.5-.1 1.5-.1 1.5 0 1.5-.1 1.5-.1 1.5-.1 1.5 0 1.5-.1 1.6-.1 1.5 0 1.5-.1 1.5-.1 1.5 0 1.5-.1 1.5-.1 1.5 0 1.5-.1 1.5 0 1.5-.1 1.5 0 1.5-.1 1.5-.1 1.5 0 1.6-.1 1.5 0 1.5-.1 1.5 0 1.5-.1 1.5 0 1.5-.1 1.5 0 1.5-.1 1.5 0 1.5 0 1.5-.1 1.5 0 1.5-.1 1.5 0 1.5-.1 1.5 0 1.5 0 1.5-.1 1.6 0 1.5-.1 1.5 0 1.5 0 1.5-.1 1.5 0 1.5 0 1.5-.1 1.5 0 1.5 0 1.5-.1 1.5 0 1.5 0 1.5-.1 1.6 0 1.5 0 1.5-.1 1.5 0 1.5 0 1.5-.1 1.5 0 1.5 0 1.5 0 1.5-.1 1.5 0 1.6 0 1.5 0 1.5-.1 1.5 0 1.5 0 1.5 0 1.5 0 1.5-.1 1.5 0 1.5 0 1.5 0 1.5-.1 1.6 0 1.5 0 1.5 0 1.5 0 1.5 0 1.5-.1 1.5 0 1.5 0 1.5 0 1.5 0 1.6 0 1.5 0 1.5-.1 1.5 0 1.5 0 1.5 0 1.5 0 1.5 0 1.5 0 1.5 0 1.5 0 1.5-.1 1.6 0 1.5 0 1.5 0 1.5 0 1.5 0 1.5 0 1.5 0 1.5 0 1.5-.1 1.5 0 1.5-.1 1.5 0 1.5-.1 1.5-.1 1.5-.1 1.5-.2 1.5-.1 1.5-.2 1.5-.3 1.5-.2 1.5-.3 1.5-.4 1.4-.6 1.2-1 1-1.4 .9-1.1 1-.3 .9 .7 1.1 1.2 1.2 1.1 1.4 .7 1.5 .2 1.5 .1 1.6 0 1.5 .1 1.5 0 1.5 0 1.5 0 1.5 0 1.5 0 1.5 0 1.6 0 1.5 0 1.5 0 1.5 0 1.5 0 1.5 0 1.5 0 1.5 0 1.5 0 1.5 0 1.5 0 1.5 0 1.5 0 1.5 0 1.5 0 1.5 0 1.5 0 1.6 0 1.5 0 1.5 0 1.5 0 1.5 0 1.5 0 1.5 0 1.5 0 1.5 0 1.5 0 1.5 0 1.5 0 1.6 0 1.5-.1 1.5 0 1.5 0 1.5 0 1.5 0 1.5 0 1.5 0 1.5 0 1.5 0 1.6 0 1.5 0 1.5 0 1.5-.1 1.5 0 1.5 0 1.5 0 1.5 0 1.5 0 1.6 0 1.5 0 1.5 0 1.5 0 1.5 0 1.5-.1 1.5 0 1.5 0 1.5 0 1.6 0 1.5 0 1.5 0 1.5 0 1.5 0 1.5 0 1.5 0 1.5 0 1.5 0 1.6 0 1.5-.1 1.5 0 1.5 0 1.5 0 1.5 0 1.5 0 1.5 0 1.5 0 1.5 0 1.6 0 1.5 0 1.5 0 1.5 0 1.5 0 1.5 0 1.5 0 1.5 0 1.5 0 1.5 0 1.5 .1 1.6 0 1.5 0 1.5 0 1.5 0 1.5 0 1.5 0 1.5 0 1.5 0 1.5 0 1.5 0 1.5 .1 1.5 0 1.5 0 1.5 0 1.5 0 1.6 0 1.5 .1 1.5 0 1.5 0 1.5 0 1.5 .1 1.5 0 1.5 0 1.5 0 1.5 .1 1.5 0 1.5 0 1.5 0 1.5 .1 1.5 0 1.5 0 1.5 .1 1.5 0 1.5 .1 1.5 0" fill="none" stroke="#f8952a" stroke-width="2.9" stroke-linejoin="round" stroke-linecap="round"/>
<path d="M745 525l1.8 .6 1.8 .3 1.6 .2 1.5-.1 1.4-.2 1.3-.4 1.1-.6 1.1-.7 1-.8 1-1 .8-1.1 .8-1.2 .7-1.3 .7-1.4 .6-1.5 .6-1.5 .5-1.5 .6-1.7 .5-1.6 .5-1.6 .6-1.7 .5-1.6 .6-1.6 .6-1.6 .7-1.6 .7-1.4 .7-1.5 .8-1.3 .9-1.3 .9-1.1 .9-1.1 1.1-1 1-.9 1.1-.8 1.1-.6 1.2-.5 1.3-.4 1.2-.2 1.4-.1 1.3 .1 1.4 .2 1.4 .2 1.5 .4 1.4 .4 1.5 .4 1.5 .4 1.4 .4 1.5 .3 1.5 .4 1.4 .4 1.5 .3 1.5 .4 1.5 .3 1.4 .3 1.5 .3 1.5 .3 1.5 .3 1.5 .3 1.4 .3 1.5 .3 1.5 .2 1.5 .3 1.5 .2 1.5 .3 1.5 .2 1.5 .3 1.4 .2 1.5 .2 1.5 .2 1.5 .2 1.5 .2 1.5 .2 1.5 .2 1.5 .2 1.5 .1 1.5 .2 1.5 .2 1.5 .1 1.5 .2 1.5 .2 1.5 .1 1.5 .1 1.5 .2 1.5 .1 1.5 .2 1.5 .1 1.5 .1 1.5 .1 1.5 .2 1.5 .1 1.5 .1 1.5 .1 1.5 .1 1.6 .1 1.5 .1 1.5 .1 1.5 .1 1.5 .1 1.5 .1 1.5 .1 1.5 .1 1.5 .1 1.5 .1 1.5 .1 1.5 .1 1.5 .1 1.5 .1 1.6 .1 1.5 .1 1.5 .1 1.5 .1 1.5 .1 1.5 .1 1.5 .1 1.5 .1 1.5 .1 1.5 .1 1.5 .1 1.5 .1 1.5 .1 1.5 .1 1.5 .1 1.5 .1 1.5 .1 1.6 .1 1.5 .1 1.5 .1 1.5 .1 1.5 .1 1.5 .1 1.5 .1 1.5 .1 1.5 .1 1.5 .1 1.5 .1 1.5 .1 1.5 .1 1.5 0 1.5 .1 1.5 .1 1.5 .1 1.5 .1 1.5 .1 1.6 .1 1.5 .1 1.5 .1 1.5 .1 1.5 .1 1.5 .1 1.5 .1 1.5 .1 1.5 .1 1.5 0 1.5 .1 1.5 .1 1.5 .1 1.5 .1 1.5 .1 1.5 .1 1.5 .1 1.5 .1 1.5 0 1.5 .1 1.5 .1 1.6 .1 1.5 .1 1.5 .1 1.5 .1 1.5 .1 1.5 0 1.5 .1 1.5 .1 1.5 .1 1.5 .1 1.5 .1 1.5 0 1.5 .1 1.5 .1 1.5 .1 1.5 .1 1.5 0 1.5 .1 1.5 .1 1.5 .1 1.5 .1 1.5 0 1.5 .1 1.5 .1 1.6 .1 1.5 0 1.5 .1 1.5 .1 1.5 .1 1.5 0 1.5 .1 1.5 .1 1.5 .1 1.5 0 1.5 .1 1.5 .1 1.5 0 1.5 .1 1.5 .1 1.5 .1 1.5 0 1.5 .1 1.5 .1 1.5 0 1.5 .1 1.5 0 1.6 .1 1.5 .1 1.5 0 1.5 .1 1.5 .1 1.5 0 1.5 .1 1.5 0 1.5 .1 1.5 .1 1.5 0 1.5 .1 1.5 0 1.5 .1 1.5 0 1.5 .1 1.5 0 1.5 .1 1.5 0 1.6 .1 1.5 0 1.5 .1 1.5 0 1.5 .1 1.5 0 1.5 .1 1.5 0 1.5 .1 1.5 0 1.5 0 1.5 .1 1.5 0 1.5 .1 1.5 0 1.5 0 1.6 .1 1.5 0 1.5 .1 1.5 0 1.5 0 1.5 .1 1.5 0 1.5 0 1.5 0 1.5 .1 1.5 0 1.5 0 1.5 .1 1.5 0 1.6 0 1.5 0 1.5 .1 1.5 0 1.5 0 1.5 0 1.5 0 1.5 .1 1.5 0 1.5 0 1.5 0 1.5 0 1.6 0 1.5 0 1.5 0 1.5 .1 1.5 0 1.5 0 1.5 0 1.5 0 1.5 0 1.5 0 1.5 0 1.6 0 1.5 0 1.5 0 1.5 0 1.5 0 1.5 0 1.5 0 1.5 0 1.5 0 1.5 0 1.6-.1 1.5 0 1.5 0 1.5 0 1.5 0-1.5 0-1.5 .1-1.5 0-1.5 .1-1.5 0-1.5 .1-1.5 0-1.5 .1-1.5 0-1.5 .1-1.5 0-1.6 0-1.5 .1-1.5 0-1.5 .1-1.5 0-1.5 .1-1.5 0-1.5 .1-1.5 0-1.5 .1-1.5 0-1.5 .1-1.5 0-1.5 .1-1.5 0-1.5 .1-1.5 0-1.5 .1-1.5 0-1.5 .1-1.5 0-1.5 .1-1.5 0-1.5 .1-1.5 0-1.5 .1-1.5 0-1.5 .1-1.6 0-1.5 .1-1.5 0-1.5 .1-1.5 0-1.5 .1-1.5 0-1.5 .1-1.5 0-1.5 .1-1.5 0-1.5 .1-1.5 0-1.5 .1-1.5 0-1.5 .1-1.5 0-1.5 .1-1.5 0-1.5 .1-1.5 .1-1.5 0-1.5 .1-1.5 0-1.5 .1-1.5 0-1.5 .1-1.5 0-1.5 .1-1.5 0-1.5 .1-1.5 0-1.5 .1-1.6 0-1.5 .1-1.5 0-1.5 .1-1.5 .1-1.5 0-1.5 .1-1.5 0-1.5 .1-1.5 0-1.5 .1-1.5 0-1.5 .1-1.5 0-1.5 .1-1.5 0-1.5 .1-1.5 0-1.5 .1-1.5 0-1.5 .1-1.5 0-1.5 .1-1.5 0-1.5 .1-1.5 0-1.5 .1-1.5 .1-1.5 0-1.5 .1-1.5 0-1.5 .1-1.5 0-1.5 .1-1.5 0-1.5 .1-1.6 0-1.5 .1-1.5 0-1.5 .1-1.5 0-1.5 .1-1.5 0-1.5 .1-1.5 0-1.5 .1-1.5 0-1.5 .1-1.5 0-1.5 .1-1.5 0-1.5 .1-1.5 0-1.5 0-1.5 .1-1.5 0-1.5 .1-1.5 0-1.5 .1-1.5 0-1.5 .1-1.5 0-1.5 .1-1.5 0-1.5 .1-1.5 0-1.5 0-1.5 .1-1.5 0-1.6 .1-1.5 0-1.5 .1-1.5 0-1.5 .1-1.5 0-1.5 0-1.5 .1-1.5 0-1.5 .1-1.5 0-1.5 .1-1.5 0-1.5 0-1.5 .1-1.5 0-1.5 .1-1.5 0-1.5 0-1.5 .1-1.5 0-1.5 .1-1.5 0-1.5 0-1.5 .1-1.5 0-1.5 0-1.5 .1-1.6 0-1.5 0-1.5 .1-1.5 0-1.5 .1-1.5 0-1.5 0-1.5 .1-1.5 0-1.5 0-1.5 .1-1.5 0-1.5 0-1.5 0-1.5 .1-1.5 0-1.5 0-1.5 .1-1.5 0-1.5 0-1.5 .1-1.5 0-1.5 0-1.6 0-1.5 .1-1.5 0-1.5 0-1.5 0-1.5 .1-1.5 0-1.5 0-1.5 0-1.5 .1-1.5 0-1.5 0-1.5 0-1.5 .1-1.5 0-1.5 0-1.5 0-1.5 0-1.5 .1-1.6 0-1.5 0-1.5 0-1.5 0-1.5 0-1.5 .1-1.5 0-1.5 0-1.5 0-1.5 0-1.5 0-1.5 0-1.5 .1-1.5 0-1.5 0-1.5 0-1.5 0-1.6 .1-1.5 0-1.5 0-1.5 .1-1.5 0-1.5 .1-1.5 0-1.5 .1-1.5 .1-1.5 0-1.5 .1-1.5 .1-1.5 .1-1.5 .1-1.5 .1-1.5 .1-1.5 .2-1.5 .1-1.5 .2-1.5 .1-1.5 .2-1.5 .2-1.5 .2-1.5 .2-1.4 .2-1.5 .3-1.5 .2-1.5 .3-1.5 .3-1.5 .3-1.5 .3-1.5 .3-1.4 .3-1.5 .4-1.5 .4-1.5 .4-1.4 .4-1.5 .5-1.4 .4-1.4 .6-1.4 .5-1.4 .6-1.3 .6-1.3 .6-1.3 .7-1.3 .7-1.2 .8-1.1 .8-1.2 .9-1.1 .9-1 .9-1 1.1-1 1-.9 1.1-.9 1.2-.9 1.2-.8 1.2-.8 1.2-.7 1.3-.8 1.3-.7 1.4-.7 1.3-.7 1.4-.7 1.4-.6 1.4-.7 1.4-.7 1.4-.6 1.4-.7 1.4-.7 1.4-.7 1.4-.7 1.4-.7 1.3-.8 1.4-.7 1.3-.8 1.3-.9 1.3-.8 1.3-.9 1.2-.8 1.3-.9 1.2-.9 1.3-1 1.3-.9 1.3-1 1.2-1 1.3-1 1.3-1 1.3-1.1 1.2-1.1 1.1-1.1 1.1-1.1 1-1.2 .9-1.2 .8-1.2 .8-1.3 .6-1.3 .5-1.3 .4-1.4 .3-1.4 .3-1.4 .2-1.4 .1-1.4 0-1.5 0-1.5-.1-1.4-.1-1.5-.2-1.5-.2-1.5-.3-1.5-.3-1.5-.3-1.5-.3-1.5-.4-1.5-.4-1.5-.3-1.4-.4-1.5-.4-1.5-.4-1.5-.3-1.5-.3-1.5-.4-1.5-.3-1.5-.2-1.5-.3-1.5-.2-1.5-.3-1.5-.2-1.5-.2-1.5-.2-1.5-.3-1.5-.2-1.5-.1-1.5-.2-1.5-.2-1.5-.2-1.4-.2-1.5-.2-1.5-.2-1.5-.3-1.5-.2-1.5-.2-1.4-.2-1.5-.3-1.5-.3-1.5-.3-1.4-.3-1.5-.3-1.4-.3-1.5-.4-1.4-.3-1.5-.5-1.4-.4-1.4-.4-1.5-.5-1.4-.4-1.4-.5-1.4-.5-1.4-.5-1.5-.6-1.4-.5-1.4-.5-1.4-.6-1.4-.6-1.4-.5-1.4-.6-1.4-.5-1.4-.6-1.4-.6-1.4-.5-1.4-.6-1.4-.6-1.4-.5-1.4-.6-1.4-.5-1.4-.5-1.4-.6-1.4-.5-1.4-.5-1.4-.5-1.4-.5-1.4-.6-1.4-.5-1.4-.6-1.4-.6-1.3-.6-1.4-.7-1.4-.6-1.3-.6-1.4-.7-1.4-.6-1.3-.6-1.4-.6-1.4-.6-1.4-.6-1.4-.5-1.4-.6-1.4-.4-1.5-.5-1.4-.4-1.5-.4-1.4-.4-1.5-.4-1.4-.3-1.5-.4-1.5-.3-1.5-.3-1.5-.2-1.4-.3-1.5-.3-1.5-.2-1.5-.3-1.5-.2-1.5-.3-1.5-.2-1.5-.2-1.4-.3-1.5-.2-1.5-.2-1.5-.2-1.5-.2-1.5-.1-1.5-.2-1.5-.2-1.5-.2-1.5-.1-1.5-.2-1.5-.1-1.5-.1-1.5-.2-1.5-.1-1.4-.1-1.5-.1-1.5-.1-1.5-.1-1.5-.1-1.5-.1-1.5-.1-1.5-.1-1.6 0-1.5-.1-1.5 0-1.5-.1-1.5 0-1.5-.1-1.5 0-1.5 0-1.5-.1-1.5-.1-1.5-.1-1.5-.1-1.5-.2-1.5-.2-1.5-.2-1.5-.1-1.5-.1-1.5-.1-1.5 0-1.4 .1-1.5 .1-1.5 .2-1.5 .3-1.5 .3-1.4 .3-1.5 .3-1.5 .3-1.5 .3-1.4 .4-1.5 .3-1.5 .2-1.5 .2-1.5 .2-1.4 .2-1.5 0-1.5 0-1.5-.1-1.5-.1-1.5-.2-1.5-.2-1.5-.2-1.4-.3-1.5-.2-1.5-.3-1.5-.2-1.5-.3-1.5-.2-1.5-.2-1.5-.3-1.5-.2-1.5-.3-1.5-.2-1.4-.2-1.5-.3-1.5-.2-1.5-.2-1.5-.2-1.5-.3-1.5-.2-1.5-.2-1.5-.2-1.5-.2-1.5-.2-1.5-.2-1.4-.2-1.5-.2-1.5-.2-1.5-.2-1.5-.2-1.5-.1-1.5-.2-1.5-.2-1.5-.1-1.5-.2-1.5-.1-1.5-.2-1.5-.1-1.5-.2-1.5-.1-1.5-.1-1.5-.1-1.5-.1-1.4-.1-1.5-.1-1.5-.1-1.5-.1-1.5-.1-1.5-.1-1.5 0-1.5-.1-1.5-.1-1.5 0-1.5-.1-1.5 0-1.5-.1-1.5 0-1.5-.1-1.5 0-1.5 0-1.5 0-1.5-.1-1.6 0-1.5 0-1.5 0-1.5 0-1.5-.1-1.5 0-1.5 0-1.5 0-1.5 0-1.5 0-1.5 0-1.5 0-1.5 0-1.5 0-1.5 0-1.5 0-1.5 0-1.6 0-1.5-.1-1.5 0-1.5 0-1.5 0-1.5 0-1.5 0-1.5 0-1.5 0-1.5-.1-1.6 0-1.5 0-1.5 0-1.5-.1-1.5 0-1.5 0-1.5-.1-1.5-.1-1.5-.1-1.5-.2-1.5-.2-1.4-.3-1.4-.5-1.3-.6-1.3-.8 1.3-.7 1.5-.5 1.4-.5 1.4-.3 1.5-.4 1.5-.3 1.4-.2 1.5-.3 1.5-.2 1.5-.1 1.5-.2 1.5-.1 1.5-.1 1.5-.1 1.5-.1 1.6-.1 1.5-.1 1.5-.1 1.5 0 1.5-.1 1.5-.1 1.5-.1 1.5-.1 1.5 0 1.5-.1 1.5-.1 1.6-.1 1.5 0 1.5-.1 1.5-.1 1.5 0 1.5-.1 1.5-.1 1.5 0 1.5-.1 1.5-.1 1.5 0 1.5-.1 1.6 0 1.5-.1 1.5 0 1.5-.1 1.5 0 1.5-.1 1.5 0 1.5-.1 1.5 0 1.5-.1 1.5 0 1.5-.1 1.5 0 1.5-.1 1.6 0 1.5-.1 1.5 0 1.5-.1 1.5 0 1.5 0 1.5-.1 1.5 0 1.5-.1 1.5 0 1.5 0 1.5-.1 1.5 0 1.5-.1 1.6 0 1.5 0 1.5-.1 1.5 0 1.5 0 1.5-.1 1.5 0 1.5 0 1.5-.1 1.5 0 1.5-.1 1.5 0 1.5 0 1.6 0 1.5-.1 1.5 0 1.5 0 1.5-.1 1.5 0 1.5 0 1.5-.1 1.5 0 1.5 0 1.5 0 1.5-.1 1.6 0 1.5 0 1.5 0 1.5-.1 1.5 0 1.5 0 1.5 0 1.5-.1 1.5 0 1.5 0 1.5 0 1.6 0 1.5-.1 1.5 0 1.5 0 1.5 0 1.5 0 1.5 0 1.5 0 1.5-.1 1.6 0 1.5 0 1.5 0 1.5 0 1.5 0 1.5 0 1.5 0 1.5 0 1.5 0 1.6 0 1.5-.1 1.5 0 1.5 0 1.5 0 1.5 0 1.5 0 1.5 0 1.5 0 1.6-.1 1.5 0 1.5-.1 1.5-.1 1.5-.2 1.5-.1 1.5-.2 1.4-.2 1.5-.2 1.5-.3 1.5-.3 1.5-.4 1.4-.4 1.4-.6 1.3-.8 1.3-.8 1.2-.4 1.3 .3 1.4 .7 1.4 .6 1.5 .4 1.5 .2 1.5 .1 1.5 .1 1.5 0 1.5 0 1.5 0 1.5 0 1.5 0 1.6 0 1.5-.1 1.5 0 1.5 0 1.5 0 1.5-.1 1.5 0 1.5 0 1.5 0 1.5-.1 1.5 0 1.5 0 1.6 0 1.5 0 1.5-.1 1.5 0 1.5 0 1.5 0 1.5 0 1.5 0 1.5-.1 1.5 0 1.5 0 1.6 0 1.5 0 1.5 0 1.5 0 1.5 0 1.5 0 1.5-.1 1.5 0 1.5 0 1.5 0 1.5 0 1.5 0 1.6 0 1.5 0 1.5 0 1.5 0 1.5 0 1.5 0 1.5 0 1.5 0 1.5 0 1.5 0 1.5-.1 1.6 0 1.5 0 1.5 0 1.5 0 1.5 0 1.5 0 1.5 0 1.5 0 1.5 0 1.5 0 1.5 0 1.6 0 1.5 0 1.5 0 1.5 0 1.5 0 1.5 0 1.5 0 1.5 0 1.5 0 1.5 0 1.5 0 1.6 0 1.5 0 1.5 0 1.5 0 1.5 0 1.5 0 1.5 0 1.5 0 1.5 0 1.5 0 1.6 0 1.5 0 1.5 0 1.5 0 1.5 0 1.5 0 1.5 0 1.5 0 1.5 0 1.5 0 1.5 0 1.6 0 1.5 0 1.5 0 1.5 0 1.5 0 1.5 0 1.5 0 1.5 0 1.5 0 1.5 0 1.5 0 1.6 0 1.5 0 1.5 0 1.5 0 1.5 0 1.5 0 1.5 0 1.5 0 1.5 0 1.5 0 1.5-.1 1.5 0 1.6 0 1.5 0 1.5 0 1.5 0 1.5 0 1.5 0 1.5 0 1.5-.1 1.5 0 1.5 0 1.5 0 1.6 0 1.5 0 1.5 0 1.5-.1 1.5 0 1.5 0 1.5 0 1.5 0 1.5-.1 1.5 0 1.5 0 1.5 0 1.6 0 1.5-.1 1.5 0 1.5 0 1.5 0 1.5-.1 1.5 0" fill="none" stroke="#8a2a2a" stroke-width="4.9" stroke-opacity="0.28" stroke-linejoin="round" stroke-linecap="round"/>
<path d="M745 525l1.8 .6 1.8 .3 1.6 .2 1.5-.1 1.4-.2 1.3-.4 1.1-.6 1.1-.7 1-.8 1-1 .8-1.1 .8-1.2 .7-1.3 .7-1.4 .6-1.5 .6-1.5 .5-1.5 .6-1.7 .5-1.6 .5-1.6 .6-1.7 .5-1.6 .6-1.6 .6-1.6 .7-1.6 .7-1.4 .7-1.5 .8-1.3 .9-1.3 .9-1.1 .9-1.1 1.1-1 1-.9 1.1-.8 1.1-.6 1.2-.5 1.3-.4 1.2-.2 1.4-.1 1.3 .1 1.4 .2 1.4 .2 1.5 .4 1.4 .4 1.5 .4 1.5 .4 1.4 .4 1.5 .3 1.5 .4 1.4 .4 1.5 .3 1.5 .4 1.5 .3 1.4 .3 1.5 .3 1.5 .3 1.5 .3 1.5 .3 1.4 .3 1.5 .3 1.5 .2 1.5 .3 1.5 .2 1.5 .3 1.5 .2 1.5 .3 1.4 .2 1.5 .2 1.5 .2 1.5 .2 1.5 .2 1.5 .2 1.5 .2 1.5 .2 1.5 .1 1.5 .2 1.5 .2 1.5 .1 1.5 .2 1.5 .2 1.5 .1 1.5 .1 1.5 .2 1.5 .1 1.5 .2 1.5 .1 1.5 .1 1.5 .1 1.5 .2 1.5 .1 1.5 .1 1.5 .1 1.5 .1 1.6 .1 1.5 .1 1.5 .1 1.5 .1 1.5 .1 1.5 .1 1.5 .1 1.5 .1 1.5 .1 1.5 .1 1.5 .1 1.5 .1 1.5 .1 1.5 .1 1.6 .1 1.5 .1 1.5 .1 1.5 .1 1.5 .1 1.5 .1 1.5 .1 1.5 .1 1.5 .1 1.5 .1 1.5 .1 1.5 .1 1.5 .1 1.5 .1 1.5 .1 1.5 .1 1.5 .1 1.6 .1 1.5 .1 1.5 .1 1.5 .1 1.5 .1 1.5 .1 1.5 .1 1.5 .1 1.5 .1 1.5 .1 1.5 .1 1.5 .1 1.5 .1 1.5 0 1.5 .1 1.5 .1 1.5 .1 1.5 .1 1.5 .1 1.6 .1 1.5 .1 1.5 .1 1.5 .1 1.5 .1 1.5 .1 1.5 .1 1.5 .1 1.5 .1 1.5 0 1.5 .1 1.5 .1 1.5 .1 1.5 .1 1.5 .1 1.5 .1 1.5 .1 1.5 .1 1.5 0 1.5 .1 1.5 .1 1.6 .1 1.5 .1 1.5 .1 1.5 .1 1.5 .1 1.5 0 1.5 .1 1.5 .1 1.5 .1 1.5 .1 1.5 .1 1.5 0 1.5 .1 1.5 .1 1.5 .1 1.5 .1 1.5 0 1.5 .1 1.5 .1 1.5 .1 1.5 .1 1.5 0 1.5 .1 1.5 .1 1.6 .1 1.5 0 1.5 .1 1.5 .1 1.5 .1 1.5 0 1.5 .1 1.5 .1 1.5 .1 1.5 0 1.5 .1 1.5 .1 1.5 0 1.5 .1 1.5 .1 1.5 .1 1.5 0 1.5 .1 1.5 .1 1.5 0 1.5 .1 1.5 0 1.6 .1 1.5 .1 1.5 0 1.5 .1 1.5 .1 1.5 0 1.5 .1 1.5 0 1.5 .1 1.5 .1 1.5 0 1.5 .1 1.5 0 1.5 .1 1.5 0 1.5 .1 1.5 0 1.5 .1 1.5 0 1.6 .1 1.5 0 1.5 .1 1.5 0 1.5 .1 1.5 0 1.5 .1 1.5 0 1.5 .1 1.5 0 1.5 0 1.5 .1 1.5 0 1.5 .1 1.5 0 1.5 0 1.6 .1 1.5 0 1.5 .1 1.5 0 1.5 0 1.5 .1 1.5 0 1.5 0 1.5 0 1.5 .1 1.5 0 1.5 0 1.5 .1 1.5 0 1.6 0 1.5 0 1.5 .1 1.5 0 1.5 0 1.5 0 1.5 0 1.5 .1 1.5 0 1.5 0 1.5 0 1.5 0 1.6 0 1.5 0 1.5 0 1.5 .1 1.5 0 1.5 0 1.5 0 1.5 0 1.5 0 1.5 0 1.5 0 1.6 0 1.5 0 1.5 0 1.5 0 1.5 0 1.5 0 1.5 0 1.5 0 1.5 0 1.5 0 1.6-.1 1.5 0 1.5 0 1.5 0 1.5 0-1.5 0-1.5 .1-1.5 0-1.5 .1-1.5 0-1.5 .1-1.5 0-1.5 .1-1.5 0-1.5 .1-1.5 0-1.6 0-1.5 .1-1.5 0-1.5 .1-1.5 0-1.5 .1-1.5 0-1.5 .1-1.5 0-1.5 .1-1.5 0-1.5 .1-1.5 0-1.5 .1-1.5 0-1.5 .1-1.5 0-1.5 .1-1.5 0-1.5 .1-1.5 0-1.5 .1-1.5 0-1.5 .1-1.5 0-1.5 .1-1.5 0-1.5 .1-1.6 0-1.5 .1-1.5 0-1.5 .1-1.5 0-1.5 .1-1.5 0-1.5 .1-1.5 0-1.5 .1-1.5 0-1.5 .1-1.5 0-1.5 .1-1.5 0-1.5 .1-1.5 0-1.5 .1-1.5 0-1.5 .1-1.5 .1-1.5 0-1.5 .1-1.5 0-1.5 .1-1.5 0-1.5 .1-1.5 0-1.5 .1-1.5 0-1.5 .1-1.5 0-1.5 .1-1.6 0-1.5 .1-1.5 0-1.5 .1-1.5 .1-1.5 0-1.5 .1-1.5 0-1.5 .1-1.5 0-1.5 .1-1.5 0-1.5 .1-1.5 0-1.5 .1-1.5 0-1.5 .1-1.5 0-1.5 .1-1.5 0-1.5 .1-1.5 0-1.5 .1-1.5 0-1.5 .1-1.5 0-1.5 .1-1.5 .1-1.5 0-1.5 .1-1.5 0-1.5 .1-1.5 0-1.5 .1-1.5 0-1.5 .1-1.6 0-1.5 .1-1.5 0-1.5 .1-1.5 0-1.5 .1-1.5 0-1.5 .1-1.5 0-1.5 .1-1.5 0-1.5 .1-1.5 0-1.5 .1-1.5 0-1.5 .1-1.5 0-1.5 0-1.5 .1-1.5 0-1.5 .1-1.5 0-1.5 .1-1.5 0-1.5 .1-1.5 0-1.5 .1-1.5 0-1.5 .1-1.5 0-1.5 0-1.5 .1-1.5 0-1.6 .1-1.5 0-1.5 .1-1.5 0-1.5 .1-1.5 0-1.5 0-1.5 .1-1.5 0-1.5 .1-1.5 0-1.5 .1-1.5 0-1.5 0-1.5 .1-1.5 0-1.5 .1-1.5 0-1.5 0-1.5 .1-1.5 0-1.5 .1-1.5 0-1.5 0-1.5 .1-1.5 0-1.5 0-1.5 .1-1.6 0-1.5 0-1.5 .1-1.5 0-1.5 .1-1.5 0-1.5 0-1.5 .1-1.5 0-1.5 0-1.5 .1-1.5 0-1.5 0-1.5 0-1.5 .1-1.5 0-1.5 0-1.5 .1-1.5 0-1.5 0-1.5 .1-1.5 0-1.5 0-1.6 0-1.5 .1-1.5 0-1.5 0-1.5 0-1.5 .1-1.5 0-1.5 0-1.5 0-1.5 .1-1.5 0-1.5 0-1.5 0-1.5 .1-1.5 0-1.5 0-1.5 0-1.5 0-1.5 .1-1.6 0-1.5 0-1.5 0-1.5 0-1.5 0-1.5 .1-1.5 0-1.5 0-1.5 0-1.5 0-1.5 0-1.5 0-1.5 .1-1.5 0-1.5 0-1.5 0-1.5 0-1.6 .1-1.5 0-1.5 0-1.5 .1-1.5 0-1.5 .1-1.5 0-1.5 .1-1.5 .1-1.5 0-1.5 .1-1.5 .1-1.5 .1-1.5 .1-1.5 .1-1.5 .1-1.5 .2-1.5 .1-1.5 .2-1.5 .1-1.5 .2-1.5 .2-1.5 .2-1.5 .2-1.4 .2-1.5 .3-1.5 .2-1.5 .3-1.5 .3-1.5 .3-1.5 .3-1.5 .3-1.4 .3-1.5 .4-1.5 .4-1.5 .4-1.4 .4-1.5 .5-1.4 .4-1.4 .6-1.4 .5-1.4 .6-1.3 .6-1.3 .6-1.3 .7-1.3 .7-1.2 .8-1.1 .8-1.2 .9-1.1 .9-1 .9-1 1.1-1 1-.9 1.1-.9 1.2-.9 1.2-.8 1.2-.8 1.2-.7 1.3-.8 1.3-.7 1.4-.7 1.3-.7 1.4-.7 1.4-.6 1.4-.7 1.4-.7 1.4-.6 1.4-.7 1.4-.7 1.4-.7 1.4-.7 1.4-.7 1.3-.8 1.4-.7 1.3-.8 1.3-.9 1.3-.8 1.3-.9 1.2-.8 1.3-.9 1.2-.9 1.3-1 1.3-.9 1.3-1 1.2-1 1.3-1 1.3-1 1.3-1.1 1.2-1.1 1.1-1.1 1.1-1.1 1-1.2 .9-1.2 .8-1.2 .8-1.3 .6-1.3 .5-1.3 .4-1.4 .3-1.4 .3-1.4 .2-1.4 .1-1.4 0-1.5 0-1.5-.1-1.4-.1-1.5-.2-1.5-.2-1.5-.3-1.5-.3-1.5-.3-1.5-.3-1.5-.4-1.5-.4-1.5-.3-1.4-.4-1.5-.4-1.5-.4-1.5-.3-1.5-.3-1.5-.4-1.5-.3-1.5-.2-1.5-.3-1.5-.2-1.5-.3-1.5-.2-1.5-.2-1.5-.2-1.5-.3-1.5-.2-1.5-.1-1.5-.2-1.5-.2-1.5-.2-1.4-.2-1.5-.2-1.5-.2-1.5-.3-1.5-.2-1.5-.2-1.4-.2-1.5-.3-1.5-.3-1.5-.3-1.4-.3-1.5-.3-1.4-.3-1.5-.4-1.4-.3-1.5-.5-1.4-.4-1.4-.4-1.5-.5-1.4-.4-1.4-.5-1.4-.5-1.4-.5-1.5-.6-1.4-.5-1.4-.5-1.4-.6-1.4-.6-1.4-.5-1.4-.6-1.4-.5-1.4-.6-1.4-.6-1.4-.5-1.4-.6-1.4-.6-1.4-.5-1.4-.6-1.4-.5-1.4-.5-1.4-.6-1.4-.5-1.4-.5-1.4-.5-1.4-.5-1.4-.6-1.4-.5-1.4-.6-1.4-.6-1.3-.6-1.4-.7-1.4-.6-1.3-.6-1.4-.7-1.4-.6-1.3-.6-1.4-.6-1.4-.6-1.4-.6-1.4-.5-1.4-.6-1.4-.4-1.5-.5-1.4-.4-1.5-.4-1.4-.4-1.5-.4-1.4-.3-1.5-.4-1.5-.3-1.5-.3-1.5-.2-1.4-.3-1.5-.3-1.5-.2-1.5-.3-1.5-.2-1.5-.3-1.5-.2-1.5-.2-1.4-.3-1.5-.2-1.5-.2-1.5-.2-1.5-.2-1.5-.1-1.5-.2-1.5-.2-1.5-.2-1.5-.1-1.5-.2-1.5-.1-1.5-.1-1.5-.2-1.5-.1-1.4-.1-1.5-.1-1.5-.1-1.5-.1-1.5-.1-1.5-.1-1.5-.1-1.5-.1-1.6 0-1.5-.1-1.5 0-1.5-.1-1.5 0-1.5-.1-1.5 0-1.5 0-1.5-.1-1.5-.1-1.5-.1-1.5-.1-1.5-.2-1.5-.2-1.5-.2-1.5-.1-1.5-.1-1.5-.1-1.5 0-1.4 .1-1.5 .1-1.5 .2-1.5 .3-1.5 .3-1.4 .3-1.5 .3-1.5 .3-1.5 .3-1.4 .4-1.5 .3-1.5 .2-1.5 .2-1.5 .2-1.4 .2-1.5 0-1.5 0-1.5-.1-1.5-.1-1.5-.2-1.5-.2-1.5-.2-1.4-.3-1.5-.2-1.5-.3-1.5-.2-1.5-.3-1.5-.2-1.5-.2-1.5-.3-1.5-.2-1.5-.3-1.5-.2-1.4-.2-1.5-.3-1.5-.2-1.5-.2-1.5-.2-1.5-.3-1.5-.2-1.5-.2-1.5-.2-1.5-.2-1.5-.2-1.5-.2-1.4-.2-1.5-.2-1.5-.2-1.5-.2-1.5-.2-1.5-.1-1.5-.2-1.5-.2-1.5-.1-1.5-.2-1.5-.1-1.5-.2-1.5-.1-1.5-.2-1.5-.1-1.5-.1-1.5-.1-1.5-.1-1.4-.1-1.5-.1-1.5-.1-1.5-.1-1.5-.1-1.5-.1-1.5 0-1.5-.1-1.5-.1-1.5 0-1.5-.1-1.5 0-1.5-.1-1.5 0-1.5-.1-1.5 0-1.5 0-1.5 0-1.5-.1-1.6 0-1.5 0-1.5 0-1.5 0-1.5-.1-1.5 0-1.5 0-1.5 0-1.5 0-1.5 0-1.5 0-1.5 0-1.5 0-1.5 0-1.5 0-1.5 0-1.5 0-1.6 0-1.5-.1-1.5 0-1.5 0-1.5 0-1.5 0-1.5 0-1.5 0-1.5 0-1.5-.1-1.6 0-1.5 0-1.5 0-1.5-.1-1.5 0-1.5 0-1.5-.1-1.5-.1-1.5-.1-1.5-.2-1.5-.2-1.4-.3-1.4-.5-1.3-.6-1.3-.8 1.3-.7 1.5-.5 1.4-.5 1.4-.3 1.5-.4 1.5-.3 1.4-.2 1.5-.3 1.5-.2 1.5-.1 1.5-.2 1.5-.1 1.5-.1 1.5-.1 1.5-.1 1.6-.1 1.5-.1 1.5-.1 1.5 0 1.5-.1 1.5-.1 1.5-.1 1.5-.1 1.5 0 1.5-.1 1.5-.1 1.6-.1 1.5 0 1.5-.1 1.5-.1 1.5 0 1.5-.1 1.5-.1 1.5 0 1.5-.1 1.5-.1 1.5 0 1.5-.1 1.6 0 1.5-.1 1.5 0 1.5-.1 1.5 0 1.5-.1 1.5 0 1.5-.1 1.5 0 1.5-.1 1.5 0 1.5-.1 1.5 0 1.5-.1 1.6 0 1.5-.1 1.5 0 1.5-.1 1.5 0 1.5 0 1.5-.1 1.5 0 1.5-.1 1.5 0 1.5 0 1.5-.1 1.5 0 1.5-.1 1.6 0 1.5 0 1.5-.1 1.5 0 1.5 0 1.5-.1 1.5 0 1.5 0 1.5-.1 1.5 0 1.5-.1 1.5 0 1.5 0 1.6 0 1.5-.1 1.5 0 1.5 0 1.5-.1 1.5 0 1.5 0 1.5-.1 1.5 0 1.5 0 1.5 0 1.5-.1 1.6 0 1.5 0 1.5 0 1.5-.1 1.5 0 1.5 0 1.5 0 1.5-.1 1.5 0 1.5 0 1.5 0 1.6 0 1.5-.1 1.5 0 1.5 0 1.5 0 1.5 0 1.5 0 1.5 0 1.5-.1 1.6 0 1.5 0 1.5 0 1.5 0 1.5 0 1.5 0 1.5 0 1.5 0 1.5 0 1.6 0 1.5-.1 1.5 0 1.5 0 1.5 0 1.5 0 1.5 0 1.5 0 1.5 0 1.6-.1 1.5 0 1.5-.1 1.5-.1 1.5-.2 1.5-.1 1.5-.2 1.4-.2 1.5-.2 1.5-.3 1.5-.3 1.5-.4 1.4-.4 1.4-.6 1.3-.8 1.3-.8 1.2-.4 1.3 .3 1.4 .7 1.4 .6 1.5 .4 1.5 .2 1.5 .1 1.5 .1 1.5 0 1.5 0 1.5 0 1.5 0 1.5 0 1.6 0 1.5-.1 1.5 0 1.5 0 1.5 0 1.5-.1 1.5 0 1.5 0 1.5 0 1.5-.1 1.5 0 1.5 0 1.6 0 1.5 0 1.5-.1 1.5 0 1.5 0 1.5 0 1.5 0 1.5 0 1.5-.1 1.5 0 1.5 0 1.6 0 1.5 0 1.5 0 1.5 0 1.5 0 1.5 0 1.5-.1 1.5 0 1.5 0 1.5 0 1.5 0 1.5 0 1.6 0 1.5 0 1.5 0 1.5 0 1.5 0 1.5 0 1.5 0 1.5 0 1.5 0 1.5 0 1.5-.1 1.6 0 1.5 0 1.5 0 1.5 0 1.5 0 1.5 0 1.5 0 1.5 0 1.5 0 1.5 0 1.5 0 1.6 0 1.5 0 1.5 0 1.5 0 1.5 0 1.5 0 1.5 0 1.5 0 1.5 0 1.5 0 1.5 0 1.6 0 1.5 0 1.5 0 1.5 0 1.5 0 1.5 0 1.5 0 1.5 0 1.5 0 1.5 0 1.6 0 1.5 0 1.5 0 1.5 0 1.5 0 1.5 0 1.5 0 1.5 0 1.5 0 1.5 0 1.5 0 1.6 0 1.5 0 1.5 0 1.5 0 1.5 0 1.5 0 1.5 0 1.5 0 1.5 0 1.5 0 1.5 0 1.6 0 1.5 0 1.5 0 1.5 0 1.5 0 1.5 0 1.5 0 1.5 0 1.5 0 1.5 0 1.5-.1 1.5 0 1.6 0 1.5 0 1.5 0 1.5 0 1.5 0 1.5 0 1.5 0 1.5-.1 1.5 0 1.5 0 1.5 0 1.6 0 1.5 0 1.5 0 1.5-.1 1.5 0 1.5 0 1.5 0 1.5 0 1.5-.1 1.5 0 1.5 0 1.5 0 1.6 0 1.5-.1 1.5 0 1.5 0 1.5 0 1.5-.1 1.5 0" fill="none" stroke="#8a2a2a" stroke-width="2.9" stroke-linejoin="round" stroke-linecap="round"/>
<path d="M185.3 18.3H1278.3V828.2H185.3ZM176.8 828.4H185.3M1269.8 828.4H1278.3M168.8 785.8H185.3M1261.8 785.8H1278.3M176.8 743.1H185.3M1269.8 743.1H1278.3M168.8 700.5H185.3M1261.8 700.5H1278.3M176.8 657.9H185.3M1269.8 657.9H1278.3M168.8 615.2H185.3M1261.8 615.2H1278.3M176.8 572.6H185.3M1269.8 572.6H1278.3M168.8 530.0H185.3M1261.8 530.0H1278.3M176.8 487.4H185.3M1269.8 487.4H1278.3M168.8 444.8H185.3M1261.8 444.8H1278.3M176.8 402.1H185.3M1269.8 402.1H1278.3M168.8 359.5H185.3M1261.8 359.5H1278.3M176.8 316.9H185.3M1269.8 316.9H1278.3M168.8 274.2H185.3M1261.8 274.2H1278.3M176.8 231.6H185.3M1269.8 231.6H1278.3M168.8 189.0H185.3M1261.8 189.0H1278.3M176.8 146.4H185.3M1269.8 146.4H1278.3M168.8 103.8H185.3M1261.8 103.8H1278.3M176.8 61.1H185.3M1269.8 61.1H1278.3M168.8 18.5H185.3M1261.8 18.5H1278.3M185.4 828.2V836.2M185.4 18.3V26.3M294.6 828.2V844.2M294.6 18.3V34.3M403.9 828.2V836.2M403.9 18.3V26.3M513.1 828.2V844.2M513.1 18.3V34.3M622.4 828.2V836.2M622.4 18.3V26.3M731.6 828.2V844.2M731.6 18.3V34.3M840.9 828.2V836.2M840.9 18.3V26.3M950.1 828.2V844.2M950.1 18.3V34.3M1059.3 828.2V836.2M1059.3 18.3V26.3M1168.6 828.2V844.2M1168.6 18.3V34.3M1277.8 828.2V836.2M1277.8 18.3V26.3" fill="none" stroke="#151515" stroke-width="5" stroke-opacity="0.25" stroke-linejoin="miter"/>
<path d="M185.3 18.3H1278.3V828.2H185.3Z" fill="none" stroke="#151515" stroke-width="3" stroke-linejoin="miter"/>
<path d="M176.8 828.4H185.3M1269.8 828.4H1278.3M168.8 785.8H185.3M1261.8 785.8H1278.3M176.8 743.1H185.3M1269.8 743.1H1278.3M168.8 700.5H185.3M1261.8 700.5H1278.3M176.8 657.9H185.3M1269.8 657.9H1278.3M168.8 615.2H185.3M1261.8 615.2H1278.3M176.8 572.6H185.3M1269.8 572.6H1278.3M168.8 530.0H185.3M1261.8 530.0H1278.3M176.8 487.4H185.3M1269.8 487.4H1278.3M168.8 444.8H185.3M1261.8 444.8H1278.3M176.8 402.1H185.3M1269.8 402.1H1278.3M168.8 359.5H185.3M1261.8 359.5H1278.3M176.8 316.9H185.3M1269.8 316.9H1278.3M168.8 274.2H185.3M1261.8 274.2H1278.3M176.8 231.6H185.3M1269.8 231.6H1278.3M168.8 189.0H185.3M1261.8 189.0H1278.3M176.8 146.4H185.3M1269.8 146.4H1278.3M168.8 103.8H185.3M1261.8 103.8H1278.3M176.8 61.1H185.3M1269.8 61.1H1278.3M168.8 18.5H185.3M1261.8 18.5H1278.3M185.4 828.2V836.2M185.4 18.3V26.3M294.6 828.2V844.2M294.6 18.3V34.3M403.9 828.2V836.2M403.9 18.3V26.3M513.1 828.2V844.2M513.1 18.3V34.3M622.4 828.2V836.2M622.4 18.3V26.3M731.6 828.2V844.2M731.6 18.3V34.3M840.9 828.2V836.2M840.9 18.3V26.3M950.1 828.2V844.2M950.1 18.3V34.3M1059.3 828.2V836.2M1059.3 18.3V26.3M1168.6 828.2V844.2M1168.6 18.3V34.3M1277.8 828.2V836.2M1277.8 18.3V26.3" fill="none" stroke="#151515" stroke-width="2.8"/>
<text x="159" y="28.0" text-anchor="end" class="tl">3,0</text>
<text x="159" y="113.2" text-anchor="end" class="tl">2,5</text>
<text x="159" y="198.5" text-anchor="end" class="tl">2,0</text>
<text x="159" y="283.8" text-anchor="end" class="tl">1,5</text>
<text x="159" y="369.0" text-anchor="end" class="tl">1,0</text>
<text x="159" y="454.2" text-anchor="end" class="tl">0,5</text>
<text x="159" y="539.5" text-anchor="end" class="tl">0,0</text>
<text x="159" y="624.8" text-anchor="end" class="tl">-0,5</text>
<text x="159" y="710.0" text-anchor="end" class="tl">-1,0</text>
<text x="159" y="795.2" text-anchor="end" class="tl">-1,5</text>
<text x="294.6" y="881" text-anchor="middle" class="tl">0</text>
<text x="513.1" y="881" text-anchor="middle" class="tl">1</text>
<text x="731.6" y="881" text-anchor="middle" class="tl">2</text>
<text x="950.1" y="881" text-anchor="middle" class="tl">3</text>
<text x="1168.6" y="881" text-anchor="middle" class="tl">4</text>
<text x="732" y="944.5" text-anchor="middle" class="at">Voltage (V)</text>
<text transform="translate(37.3 439) rotate(-90) scale(1 1.07)" x="0" y="0" text-anchor="middle" class="at">Current (mA)</text>
<path d="M210 81.0H298" stroke="#161616" stroke-width="4.9" stroke-opacity="0.28"/>
<path d="M210 81.0H298" stroke="#161616" stroke-width="2.9"/>
<text x="307.5" y="93.8" class="lg">DME</text>
<path d="M210 128.6H298" stroke="#e82a2a" stroke-width="4.9" stroke-opacity="0.28"/>
<path d="M210 128.6H298" stroke="#e82a2a" stroke-width="2.9"/>
<text x="307.5" y="141.4" class="lg">DOL</text>
<path d="M210 175.6H298" stroke="#3430ec" stroke-width="4.9" stroke-opacity="0.28"/>
<path d="M210 175.6H298" stroke="#3430ec" stroke-width="2.9"/>
<text x="307.5" y="188.4" class="lg">DEGDME</text>
<path d="M210 222.8H298" stroke="#2a8e30" stroke-width="4.9" stroke-opacity="0.28"/>
<path d="M210 222.8H298" stroke="#2a8e30" stroke-width="2.9"/>
<text x="307.5" y="235.6" class="lg">3-MS</text>
<path d="M210 269.7H298" stroke="#f8952a" stroke-width="4.9" stroke-opacity="0.28"/>
<path d="M210 269.7H298" stroke="#f8952a" stroke-width="2.9"/>
<text x="307.5" y="282.5" class="lg">DMeOTHF</text>
<path d="M210 316.7H298" stroke="#8a2a2a" stroke-width="4.9" stroke-opacity="0.28"/>
<path d="M210 316.7H298" stroke="#8a2a2a" stroke-width="2.9"/>
<text x="307.5" y="329.5" class="lg">Dioxepan</text>
</svg></div>
</body></html>
